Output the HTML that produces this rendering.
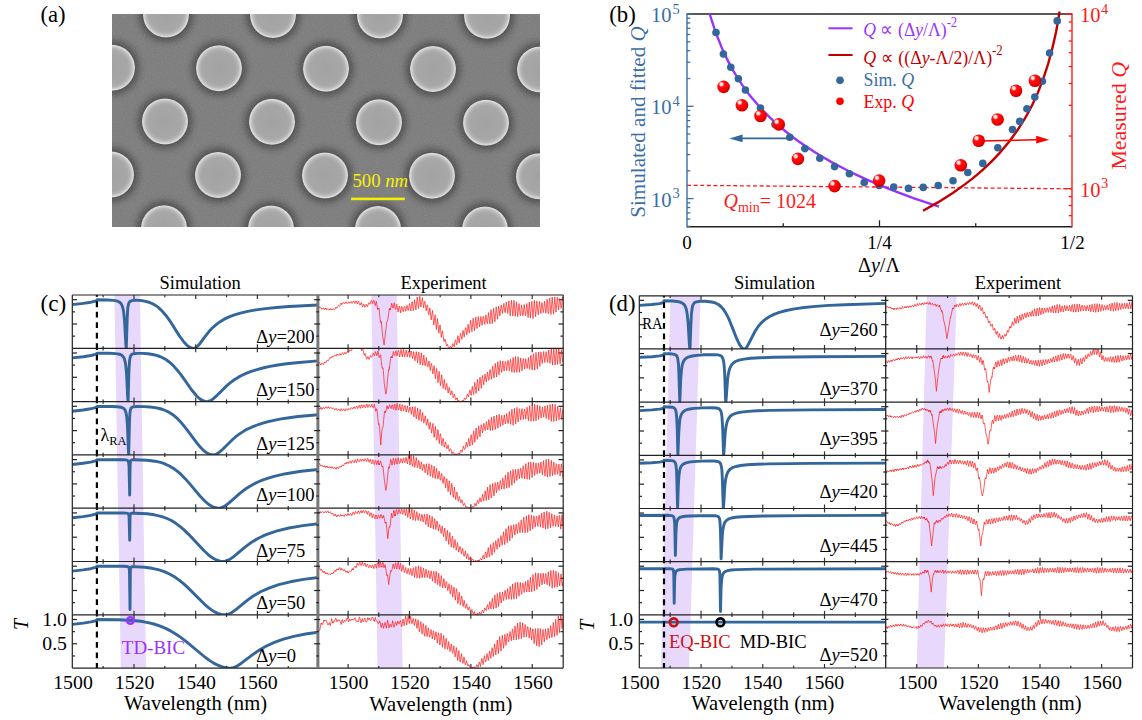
<!DOCTYPE html><html><head><meta charset="utf-8"><style>html,body{margin:0;padding:0;background:#fff;width:1142px;height:720px;overflow:hidden} svg{display:block} text{font-family:"Liberation Serif", serif}</style></head><body>
<svg width="1142" height="720" viewBox="0 0 1142 720">
<defs>
<radialGradient id="disk" cx="50%" cy="50%" r="50%"><stop offset="0" stop-color="#a0a0a0"/><stop offset="0.72" stop-color="#a6a6a6"/><stop offset="0.85" stop-color="#b6b6b6"/><stop offset="0.93" stop-color="#d2d2d2"/><stop offset="0.975" stop-color="#e0e0e0"/><stop offset="1" stop-color="#c0c0c0"/></radialGradient>
<radialGradient id="halo" cx="50%" cy="50%" r="50%"><stop offset="0.639" stop-color="#303030" stop-opacity="0.6"/><stop offset="0.736" stop-color="#3a3a3a" stop-opacity="0.42"/><stop offset="0.861" stop-color="#505050" stop-opacity="0.15"/><stop offset="1" stop-color="#7d7d7d" stop-opacity="0"/></radialGradient>
<radialGradient id="ball" cx="35%" cy="32%" r="65%" fx="32%" fy="28%"><stop offset="0" stop-color="#ffffff"/><stop offset="0.18" stop-color="#ffd0d0"/><stop offset="0.35" stop-color="#ff1010"/><stop offset="0.85" stop-color="#f00000"/><stop offset="1" stop-color="#d00000"/></radialGradient>
<filter id="noise" x="0" y="0" width="100%" height="100%"><feTurbulence type="fractalNoise" baseFrequency="0.9" numOctaves="2" seed="3"/><feColorMatrix type="matrix" values="0 0 0 0 0.5  0 0 0 0 0.5  0 0 0 0 0.5  0 0 0 0.9 -0.25"/></filter>
<clipPath id="semclip"><rect x="112" y="14" width="428" height="213"/></clipPath>
</defs>
<text x="40.5" y="21.5" font-size="22.7" fill="#000" text-anchor="start" >(a)</text>
<g clip-path="url(#semclip)">
<rect x="112" y="14" width="428" height="213" fill="#7c7c7c"/>
<circle cx="113" cy="-39.02" r="36" fill="url(#halo)"/>
<circle cx="220" cy="-38.6" r="36" fill="url(#halo)"/>
<circle cx="327" cy="-38.17" r="36" fill="url(#halo)"/>
<circle cx="434" cy="-37.74" r="36" fill="url(#halo)"/>
<circle cx="541" cy="-37.31" r="36" fill="url(#halo)"/>
<circle cx="648" cy="-36.88" r="36" fill="url(#halo)"/>
<circle cx="59" cy="14.16" r="36" fill="url(#halo)"/>
<circle cx="166" cy="14.59" r="36" fill="url(#halo)"/>
<circle cx="273" cy="15.02" r="36" fill="url(#halo)"/>
<circle cx="380" cy="15.44" r="36" fill="url(#halo)"/>
<circle cx="487" cy="15.87" r="36" fill="url(#halo)"/>
<circle cx="594" cy="16.3" r="36" fill="url(#halo)"/>
<circle cx="112" cy="67.77" r="36" fill="url(#halo)"/>
<circle cx="219" cy="68.2" r="36" fill="url(#halo)"/>
<circle cx="326" cy="68.63" r="36" fill="url(#halo)"/>
<circle cx="433" cy="69.06" r="36" fill="url(#halo)"/>
<circle cx="540" cy="69.48" r="36" fill="url(#halo)"/>
<circle cx="647" cy="69.91" r="36" fill="url(#halo)"/>
<circle cx="58" cy="120.96" r="36" fill="url(#halo)"/>
<circle cx="165" cy="121.38" r="36" fill="url(#halo)"/>
<circle cx="272" cy="121.81" r="36" fill="url(#halo)"/>
<circle cx="379" cy="122.24" r="36" fill="url(#halo)"/>
<circle cx="486" cy="122.67" r="36" fill="url(#halo)"/>
<circle cx="593" cy="123.1" r="36" fill="url(#halo)"/>
<circle cx="111" cy="174.57" r="36" fill="url(#halo)"/>
<circle cx="218" cy="175" r="36" fill="url(#halo)"/>
<circle cx="325" cy="175.42" r="36" fill="url(#halo)"/>
<circle cx="432" cy="175.85" r="36" fill="url(#halo)"/>
<circle cx="539" cy="176.28" r="36" fill="url(#halo)"/>
<circle cx="646" cy="176.71" r="36" fill="url(#halo)"/>
<circle cx="57" cy="227.75" r="36" fill="url(#halo)"/>
<circle cx="164" cy="228.18" r="36" fill="url(#halo)"/>
<circle cx="271" cy="228.61" r="36" fill="url(#halo)"/>
<circle cx="378" cy="229.04" r="36" fill="url(#halo)"/>
<circle cx="485" cy="229.46" r="36" fill="url(#halo)"/>
<circle cx="592" cy="229.89" r="36" fill="url(#halo)"/>
<circle cx="110" cy="281.36" r="36" fill="url(#halo)"/>
<circle cx="217" cy="281.79" r="36" fill="url(#halo)"/>
<circle cx="324" cy="282.22" r="36" fill="url(#halo)"/>
<circle cx="431" cy="282.65" r="36" fill="url(#halo)"/>
<circle cx="538" cy="283.08" r="36" fill="url(#halo)"/>
<circle cx="645" cy="283.5" r="36" fill="url(#halo)"/>
<circle cx="113" cy="-39.02" r="23" fill="url(#disk)"/>
<circle cx="220" cy="-38.6" r="23" fill="url(#disk)"/>
<circle cx="327" cy="-38.17" r="23" fill="url(#disk)"/>
<circle cx="434" cy="-37.74" r="23" fill="url(#disk)"/>
<circle cx="541" cy="-37.31" r="23" fill="url(#disk)"/>
<circle cx="648" cy="-36.88" r="23" fill="url(#disk)"/>
<circle cx="59" cy="14.16" r="23" fill="url(#disk)"/>
<circle cx="166" cy="14.59" r="23" fill="url(#disk)"/>
<circle cx="273" cy="15.02" r="23" fill="url(#disk)"/>
<circle cx="380" cy="15.44" r="23" fill="url(#disk)"/>
<circle cx="487" cy="15.87" r="23" fill="url(#disk)"/>
<circle cx="594" cy="16.3" r="23" fill="url(#disk)"/>
<circle cx="112" cy="67.77" r="23" fill="url(#disk)"/>
<circle cx="219" cy="68.2" r="23" fill="url(#disk)"/>
<circle cx="326" cy="68.63" r="23" fill="url(#disk)"/>
<circle cx="433" cy="69.06" r="23" fill="url(#disk)"/>
<circle cx="540" cy="69.48" r="23" fill="url(#disk)"/>
<circle cx="647" cy="69.91" r="23" fill="url(#disk)"/>
<circle cx="58" cy="120.96" r="23" fill="url(#disk)"/>
<circle cx="165" cy="121.38" r="23" fill="url(#disk)"/>
<circle cx="272" cy="121.81" r="23" fill="url(#disk)"/>
<circle cx="379" cy="122.24" r="23" fill="url(#disk)"/>
<circle cx="486" cy="122.67" r="23" fill="url(#disk)"/>
<circle cx="593" cy="123.1" r="23" fill="url(#disk)"/>
<circle cx="111" cy="174.57" r="23" fill="url(#disk)"/>
<circle cx="218" cy="175" r="23" fill="url(#disk)"/>
<circle cx="325" cy="175.42" r="23" fill="url(#disk)"/>
<circle cx="432" cy="175.85" r="23" fill="url(#disk)"/>
<circle cx="539" cy="176.28" r="23" fill="url(#disk)"/>
<circle cx="646" cy="176.71" r="23" fill="url(#disk)"/>
<circle cx="57" cy="227.75" r="23" fill="url(#disk)"/>
<circle cx="164" cy="228.18" r="23" fill="url(#disk)"/>
<circle cx="271" cy="228.61" r="23" fill="url(#disk)"/>
<circle cx="378" cy="229.04" r="23" fill="url(#disk)"/>
<circle cx="485" cy="229.46" r="23" fill="url(#disk)"/>
<circle cx="592" cy="229.89" r="23" fill="url(#disk)"/>
<circle cx="110" cy="281.36" r="23" fill="url(#disk)"/>
<circle cx="217" cy="281.79" r="23" fill="url(#disk)"/>
<circle cx="324" cy="282.22" r="23" fill="url(#disk)"/>
<circle cx="431" cy="282.65" r="23" fill="url(#disk)"/>
<circle cx="538" cy="283.08" r="23" fill="url(#disk)"/>
<circle cx="645" cy="283.5" r="23" fill="url(#disk)"/>
<rect x="112" y="14" width="428" height="213" filter="url(#noise)" opacity="0.35"/>
</g>
<rect x="351.1" y="197.6" width="53.7" height="2.6" fill="#f5ee00"/>
<g transform="translate(352.5,186.8) scale(0.965,1)"><text x="0" y="0" font-size="19.4" fill="#f8f000">500 <tspan font-style="italic">nm</tspan></text></g>
<text x="609.3" y="21.5" font-size="22.7" fill="#000" text-anchor="start" >(b)</text>
<line x1="687.0" y1="185.3" x2="1072.0" y2="188.8" stroke="#ff1a1a" stroke-width="1.3" stroke-dasharray="4,2.6"/>
<line x1="687.0" y1="14.0" x2="1072.0" y2="14.0" stroke="#222" stroke-width="1.4"/>
<line x1="687.0" y1="226.7" x2="1072.0" y2="226.7" stroke="#222" stroke-width="1.4"/>
<line x1="687.0" y1="13.3" x2="687.0" y2="227.39999999999998" stroke="#3a6ea5" stroke-width="1.4"/>
<line x1="1072.0" y1="13.3" x2="1072.0" y2="227.39999999999998" stroke="#ff1a1a" stroke-width="1.4"/>
<line x1="687.0" y1="226.39" x2="690.3" y2="226.39" stroke="#3a6ea5" stroke-width="1.3"/>
<line x1="687.0" y1="219.08" x2="690.3" y2="219.08" stroke="#3a6ea5" stroke-width="1.3"/>
<line x1="687.0" y1="212.9" x2="690.3" y2="212.9" stroke="#3a6ea5" stroke-width="1.3"/>
<line x1="687.0" y1="207.54" x2="690.3" y2="207.54" stroke="#3a6ea5" stroke-width="1.3"/>
<line x1="687.0" y1="202.82" x2="690.3" y2="202.82" stroke="#3a6ea5" stroke-width="1.3"/>
<line x1="687.0" y1="198.6" x2="693.5" y2="198.6" stroke="#3a6ea5" stroke-width="1.3"/>
<line x1="687.0" y1="170.81" x2="690.3" y2="170.81" stroke="#3a6ea5" stroke-width="1.3"/>
<line x1="687.0" y1="154.56" x2="690.3" y2="154.56" stroke="#3a6ea5" stroke-width="1.3"/>
<line x1="687.0" y1="143.03" x2="690.3" y2="143.03" stroke="#3a6ea5" stroke-width="1.3"/>
<line x1="687.0" y1="134.09" x2="690.3" y2="134.09" stroke="#3a6ea5" stroke-width="1.3"/>
<line x1="687.0" y1="126.78" x2="690.3" y2="126.78" stroke="#3a6ea5" stroke-width="1.3"/>
<line x1="687.0" y1="120.6" x2="690.3" y2="120.6" stroke="#3a6ea5" stroke-width="1.3"/>
<line x1="687.0" y1="115.24" x2="690.3" y2="115.24" stroke="#3a6ea5" stroke-width="1.3"/>
<line x1="687.0" y1="110.52" x2="690.3" y2="110.52" stroke="#3a6ea5" stroke-width="1.3"/>
<line x1="687.0" y1="106.3" x2="693.5" y2="106.3" stroke="#3a6ea5" stroke-width="1.3"/>
<line x1="687.0" y1="78.51" x2="690.3" y2="78.51" stroke="#3a6ea5" stroke-width="1.3"/>
<line x1="687.0" y1="62.26" x2="690.3" y2="62.26" stroke="#3a6ea5" stroke-width="1.3"/>
<line x1="687.0" y1="50.73" x2="690.3" y2="50.73" stroke="#3a6ea5" stroke-width="1.3"/>
<line x1="687.0" y1="41.79" x2="690.3" y2="41.79" stroke="#3a6ea5" stroke-width="1.3"/>
<line x1="687.0" y1="34.48" x2="690.3" y2="34.48" stroke="#3a6ea5" stroke-width="1.3"/>
<line x1="687.0" y1="28.3" x2="690.3" y2="28.3" stroke="#3a6ea5" stroke-width="1.3"/>
<line x1="687.0" y1="22.94" x2="690.3" y2="22.94" stroke="#3a6ea5" stroke-width="1.3"/>
<line x1="687.0" y1="18.22" x2="690.3" y2="18.22" stroke="#3a6ea5" stroke-width="1.3"/>
<line x1="687.0" y1="14" x2="693.5" y2="14" stroke="#3a6ea5" stroke-width="1.4"/>
<line x1="1072.0" y1="215.65" x2="1068.7" y2="215.65" stroke="#ff1a1a" stroke-width="1.3"/>
<line x1="1072.0" y1="205.52" x2="1068.7" y2="205.52" stroke="#ff1a1a" stroke-width="1.3"/>
<line x1="1072.0" y1="196.59" x2="1068.7" y2="196.59" stroke="#ff1a1a" stroke-width="1.3"/>
<line x1="1072.0" y1="188.6" x2="1065.5" y2="188.6" stroke="#ff1a1a" stroke-width="1.3"/>
<line x1="1072.0" y1="136.04" x2="1068.7" y2="136.04" stroke="#ff1a1a" stroke-width="1.3"/>
<line x1="1072.0" y1="105.29" x2="1068.7" y2="105.29" stroke="#ff1a1a" stroke-width="1.3"/>
<line x1="1072.0" y1="83.48" x2="1068.7" y2="83.48" stroke="#ff1a1a" stroke-width="1.3"/>
<line x1="1072.0" y1="66.56" x2="1068.7" y2="66.56" stroke="#ff1a1a" stroke-width="1.3"/>
<line x1="1072.0" y1="52.73" x2="1068.7" y2="52.73" stroke="#ff1a1a" stroke-width="1.3"/>
<line x1="1072.0" y1="41.05" x2="1068.7" y2="41.05" stroke="#ff1a1a" stroke-width="1.3"/>
<line x1="1072.0" y1="30.92" x2="1068.7" y2="30.92" stroke="#ff1a1a" stroke-width="1.3"/>
<line x1="1072.0" y1="21.99" x2="1068.7" y2="21.99" stroke="#ff1a1a" stroke-width="1.3"/>
<line x1="1072.0" y1="14" x2="1065.5" y2="14" stroke="#ff1a1a" stroke-width="1.4"/>
<line x1="783.25" y1="226.7" x2="783.25" y2="223.2" stroke="#222" stroke-width="1.3"/>
<line x1="879.5" y1="226.7" x2="879.5" y2="220.3" stroke="#222" stroke-width="1.3"/>
<line x1="975.75" y1="226.7" x2="975.75" y2="223.2" stroke="#222" stroke-width="1.3"/>
<text x="687" y="249.2" font-size="19" fill="#000" text-anchor="middle" >0</text>
<text x="879.5" y="249.2" font-size="19" fill="#000" text-anchor="middle" >1/4</text>
<text x="1072.5" y="249.2" font-size="19" fill="#000" text-anchor="middle" >1/2</text>
<text x="879" y="272" font-size="20" text-anchor="middle">&#916;<tspan font-style="italic">y</tspan>/&#923;</text>
<text x="671.5" y="21.9" font-size="20.5" fill="#3a6ea5" text-anchor="end">10</text>
<text x="672.5" y="13.599999999999998" font-size="14.4" fill="#3a6ea5">5</text>
<text x="671.5" y="114.2" font-size="20.5" fill="#3a6ea5" text-anchor="end">10</text>
<text x="672.5" y="105.9" font-size="14.4" fill="#3a6ea5">4</text>
<text x="671.5" y="206.5" font-size="20.5" fill="#3a6ea5" text-anchor="end">10</text>
<text x="672.5" y="198.2" font-size="14.4" fill="#3a6ea5">3</text>
<text x="1080" y="21.9" font-size="20.5" fill="#ff1a1a">10</text>
<text x="1101" y="13.599999999999998" font-size="14.4" fill="#ff1a1a">4</text>
<text x="1080" y="196.5" font-size="20.5" fill="#ff1a1a">10</text>
<text x="1101" y="188.2" font-size="14.4" fill="#ff1a1a">3</text>
<text transform="translate(644.5,122) rotate(-90)" font-size="21.1" fill="#3a6ea5" text-anchor="middle">Simulated and fitted <tspan font-style="italic">Q</tspan></text>
<text transform="translate(1126,115.8) rotate(-90)" font-size="21.9" fill="#ff1a1a" text-anchor="middle">Measured <tspan font-style="italic">Q</tspan></text>
<line x1="828.4" y1="28.3" x2="852.6" y2="28.3" stroke="#9933ff" stroke-width="2"/>
<g transform="translate(863.2,35.8) scale(0.905,1)"><text x="0" y="0" font-size="19.5" fill="#9933ff"><tspan font-style="italic">Q</tspan> &#8733; (&#916;<tspan font-style="italic">y</tspan>/&#923;)<tspan font-size="14" dy="-8.5">-2</tspan></text></g>
<line x1="828.4" y1="55" x2="852.6" y2="55" stroke="#c00000" stroke-width="2"/>
<g transform="translate(863.2,63.6) scale(0.915,1)"><text x="0" y="0" font-size="19.5" fill="#c00000"><tspan font-style="italic">Q</tspan> &#8733; ((&#916;<tspan font-style="italic">y</tspan>-&#923;/2)/&#923;)<tspan font-size="14" dy="-8.5">-2</tspan></text></g>
<circle cx="840" cy="80.2" r="3.8" fill="#33669a"/>
<g transform="translate(863.5,85.5) scale(0.95,1)"><text x="0" y="0" font-size="18.8" fill="#3a6ea5">Sim. <tspan font-style="italic">Q</tspan></text></g>
<circle cx="840" cy="101.2" r="3.8" fill="#ff0000"/>
<g transform="translate(863.5,108.2) scale(0.95,1)"><text x="0" y="0" font-size="18.8" fill="#ff0000">Exp. <tspan font-style="italic">Q</tspan></text></g>
<text x="723.5" y="208.4" font-size="20" fill="#ff1a1a"><tspan font-style="italic">Q</tspan><tspan font-size="14" dy="4">min</tspan><tspan dy="-4">= 1024</tspan></text>
<path d="M709.8,14l1.9,6.5 3.9,11.6 5.8,14.8 3.8,8.5 3.9,7.7 3.8,7.1 5.8,9.5 3.8,5.7 5.8,8 3.9,4.8 5.8,6.8 5.7,6.3 5.8,5.8 5.8,5.5 7.7,6.7 7.7,6.2 7.7,5.7 7.7,5.4 7.7,5 7.7,4.7 9.6,5.6 17.4,9.1 9.6,4.6 11.6,5.3 21.1,8.8 23.2,8.6 25,8.4" fill="none" stroke="#9933ff" stroke-width="2.4"/>
<path d="M923,210.8l14.9-8.4 14.9-9.5 12.7-9 6.9-5.3 5.7-4.8 5.7-5 5.8-5.4 5.7-5.8 4.6-5 9.2-10.9 8-11 4.6-7 3.5-5.7 3.4-6.1 3.5-6.6 5.7-12.4 5.7-14.8 4.6-14.1 4.6-17.1 3.5-15.7 3.4-19.7" fill="none" stroke="#c00000" stroke-width="2.4"/>
<circle cx="716" cy="32.5" r="3.8" fill="#33669a"/>
<circle cx="723.4" cy="54" r="3.8" fill="#33669a"/>
<circle cx="730.8" cy="67.3" r="3.8" fill="#33669a"/>
<circle cx="738.4" cy="78.7" r="3.8" fill="#33669a"/>
<circle cx="745.4" cy="90" r="3.8" fill="#33669a"/>
<circle cx="760.5" cy="108.1" r="3.8" fill="#33669a"/>
<circle cx="775" cy="124.4" r="3.8" fill="#33669a"/>
<circle cx="789.8" cy="137.3" r="3.8" fill="#33669a"/>
<circle cx="804.9" cy="148.6" r="3.8" fill="#33669a"/>
<circle cx="819.8" cy="158.3" r="3.8" fill="#33669a"/>
<circle cx="834.6" cy="166.6" r="3.8" fill="#33669a"/>
<circle cx="849.4" cy="173.8" r="3.8" fill="#33669a"/>
<circle cx="864.2" cy="182.6" r="3.8" fill="#33669a"/>
<circle cx="879.1" cy="185.5" r="3.8" fill="#33669a"/>
<circle cx="893.7" cy="187" r="3.8" fill="#33669a"/>
<circle cx="908.5" cy="188.4" r="3.8" fill="#33669a"/>
<circle cx="923.2" cy="187.4" r="3.8" fill="#33669a"/>
<circle cx="938.2" cy="185.5" r="3.8" fill="#33669a"/>
<circle cx="953" cy="180.8" r="3.8" fill="#33669a"/>
<circle cx="967.8" cy="172.5" r="3.8" fill="#33669a"/>
<circle cx="982.8" cy="163.4" r="3.8" fill="#33669a"/>
<circle cx="997.8" cy="147.8" r="3.8" fill="#33669a"/>
<circle cx="1012.5" cy="129.5" r="3.8" fill="#33669a"/>
<circle cx="1019.7" cy="121.4" r="3.8" fill="#33669a"/>
<circle cx="1026.9" cy="108.8" r="3.8" fill="#33669a"/>
<circle cx="1034.8" cy="97.1" r="3.8" fill="#33669a"/>
<circle cx="1042.4" cy="81.2" r="3.8" fill="#33669a"/>
<circle cx="1049.6" cy="53" r="3.8" fill="#33669a"/>
<circle cx="1057.2" cy="20.9" r="3.8" fill="#33669a"/>
<line x1="742" y1="138.4" x2="789.3" y2="138.4" stroke="#33669a" stroke-width="1.6"/>
<path d="M729.4,138.4 L742.6,134.6 L742.6,142.2 Z" fill="#33669a"/>
<line x1="979" y1="141" x2="1037" y2="139.8" stroke="#ff0000" stroke-width="1.6"/>
<path d="M1049.3,139.7 L1036.2,135.8 L1036.2,143.6 Z" fill="#ff0000"/>
<circle cx="723.6" cy="86.9" r="6.3" fill="url(#ball)"/>
<circle cx="741.9" cy="105.2" r="6.3" fill="url(#ball)"/>
<circle cx="760.5" cy="116" r="6.3" fill="url(#ball)"/>
<circle cx="778.8" cy="124.4" r="6.3" fill="url(#ball)"/>
<circle cx="797.9" cy="158.9" r="6.3" fill="url(#ball)"/>
<circle cx="834.6" cy="186.1" r="6.3" fill="url(#ball)"/>
<circle cx="879.1" cy="180.6" r="6.3" fill="url(#ball)"/>
<circle cx="960.8" cy="165.3" r="6.3" fill="url(#ball)"/>
<circle cx="978.7" cy="140.8" r="6.3" fill="url(#ball)"/>
<circle cx="997.6" cy="119.5" r="6.3" fill="url(#ball)"/>
<circle cx="1016" cy="90.8" r="6.3" fill="url(#ball)"/>
<circle cx="1034.9" cy="80.7" r="6.3" fill="url(#ball)"/>
<text x="20" y="160" font-size="1" fill="#000" text-anchor="start" ></text>
<path d="M114.4,295 L139.9,295 L146,668.1 L120.8,668.1 Z" fill="#e8d8fc"/>
<path d="M371.2,295 L396.7,295 L402.6,668.1 L377.6,668.1 Z" fill="#e8d8fc"/>
<clipPath id="cp1"><rect x="72.3" y="295" width="245.7" height="53.3"/></clipPath>
<path clip-path="url(#cp1)" d="M72.3,304.6l11-1.2 7.7-1.2 4.4-1.1 1.1-0.6 0.5-0.7 10.7,0.2 6.1,0.4 3.8,0.8 2.3,1.2 1.3,1.4 1,2 0.8,2.8 0.7,3.7 0.9,9.1 1.2,23 0.5,3.9 0.9-30.2 0.6-10.3 0.6-3.3 0.7-2 1.1-1.2 1.6-0.7 2.8-0.3 4.1,0.1 4.2,0.4 3.8,0.8 3,0.9 3,1.3 2.8,1.6 2.5,1.7 4.3,4.1 4.7,5.6 4.1,5.9 8.8,13.9 4.4,5.9 2.5,2.6 2.2,1.7 2.2,1.1 2.2,0.4 1.1-0.1 1.1-0.4 1.1-0.8 1.3-1.2 2.2-2.6 5.8-7.8 3-3.8 3.3-3.6 3.6-3.2 3.8-2.9 4.1-2.5 4.7-2.3 5.2-2 6.6-2 7.4-1.7 8.3-1.5 9.6-1.3 10.9-1.1 12.4-1 30.2-1.6" fill="none" stroke="#33669a" stroke-width="2.9" stroke-linejoin="round"/>
<line x1="96.9" y1="295" x2="96.9" y2="348.3" stroke="#000" stroke-width="2.2" stroke-dasharray="5.8,4.65" stroke-dashoffset="4.1"/>
<line x1="103.15" y1="295" x2="103.15" y2="297.2" stroke="#333" stroke-width="1.2"/>
<line x1="103.15" y1="348.3" x2="103.15" y2="346.1" stroke="#333" stroke-width="1.2"/>
<line x1="134" y1="295" x2="134" y2="299" stroke="#333" stroke-width="1.2"/>
<line x1="134" y1="348.3" x2="134" y2="344.3" stroke="#333" stroke-width="1.2"/>
<line x1="164.85" y1="295" x2="164.85" y2="297.2" stroke="#333" stroke-width="1.2"/>
<line x1="164.85" y1="348.3" x2="164.85" y2="346.1" stroke="#333" stroke-width="1.2"/>
<line x1="195.7" y1="295" x2="195.7" y2="299" stroke="#333" stroke-width="1.2"/>
<line x1="195.7" y1="348.3" x2="195.7" y2="344.3" stroke="#333" stroke-width="1.2"/>
<line x1="226.55" y1="295" x2="226.55" y2="297.2" stroke="#333" stroke-width="1.2"/>
<line x1="226.55" y1="348.3" x2="226.55" y2="346.1" stroke="#333" stroke-width="1.2"/>
<line x1="257.4" y1="295" x2="257.4" y2="299" stroke="#333" stroke-width="1.2"/>
<line x1="257.4" y1="348.3" x2="257.4" y2="344.3" stroke="#333" stroke-width="1.2"/>
<line x1="288.25" y1="295" x2="288.25" y2="297.2" stroke="#333" stroke-width="1.2"/>
<line x1="288.25" y1="348.3" x2="288.25" y2="346.1" stroke="#333" stroke-width="1.2"/>
<line x1="72.3" y1="299.7" x2="77" y2="299.7" stroke="#222" stroke-width="1.2"/>
<line x1="72.3" y1="311.85" x2="75" y2="311.85" stroke="#222" stroke-width="1.2"/>
<line x1="72.3" y1="324" x2="77" y2="324" stroke="#222" stroke-width="1.2"/>
<line x1="72.3" y1="336.15" x2="75" y2="336.15" stroke="#222" stroke-width="1.2"/>
<line x1="348.09" y1="295" x2="348.09" y2="299" stroke="#333" stroke-width="1.2"/>
<line x1="348.09" y1="348.3" x2="348.09" y2="344.3" stroke="#333" stroke-width="1.2"/>
<line x1="378.78" y1="295" x2="378.78" y2="297.2" stroke="#333" stroke-width="1.2"/>
<line x1="378.78" y1="348.3" x2="378.78" y2="346.1" stroke="#333" stroke-width="1.2"/>
<line x1="409.47" y1="295" x2="409.47" y2="299" stroke="#333" stroke-width="1.2"/>
<line x1="409.47" y1="348.3" x2="409.47" y2="344.3" stroke="#333" stroke-width="1.2"/>
<line x1="440.16" y1="295" x2="440.16" y2="297.2" stroke="#333" stroke-width="1.2"/>
<line x1="440.16" y1="348.3" x2="440.16" y2="346.1" stroke="#333" stroke-width="1.2"/>
<line x1="470.85" y1="295" x2="470.85" y2="299" stroke="#333" stroke-width="1.2"/>
<line x1="470.85" y1="348.3" x2="470.85" y2="344.3" stroke="#333" stroke-width="1.2"/>
<line x1="501.54" y1="295" x2="501.54" y2="297.2" stroke="#333" stroke-width="1.2"/>
<line x1="501.54" y1="348.3" x2="501.54" y2="346.1" stroke="#333" stroke-width="1.2"/>
<line x1="532.23" y1="295" x2="532.23" y2="299" stroke="#333" stroke-width="1.2"/>
<line x1="532.23" y1="348.3" x2="532.23" y2="344.3" stroke="#333" stroke-width="1.2"/>
<line x1="563.2" y1="299.7" x2="558.5" y2="299.7" stroke="#222" stroke-width="1.2"/>
<line x1="563.2" y1="311.85" x2="560.5" y2="311.85" stroke="#222" stroke-width="1.2"/>
<line x1="563.2" y1="324" x2="558.5" y2="324" stroke="#222" stroke-width="1.2"/>
<line x1="563.2" y1="336.15" x2="560.5" y2="336.15" stroke="#222" stroke-width="1.2"/>
<text x="256.3" y="342.5" font-size="18.5" fill="#000" text-anchor="start" >&#916;<tspan font-style="italic">y</tspan>=200</text>
<clipPath id="cp2"><rect x="72.3" y="348.3" width="245.7" height="53.3"/></clipPath>
<path clip-path="url(#cp2)" d="M72.3,357.9l11-1.2 7.7-1.2 4.4-1.2 1.1-0.5 0.5-0.7 12.1,0.2 6.6,0.3 3.8,0.6 1.5,0.6 1.1,0.7 1.3,1.4 1,1.9 0.7,2.8 0.7,3.8 0.8,9 1.1,23.4 0.4,3.8 0.8-30.2 0.7-10.9 0.5-3 0.7-2 1.1-1.2 1.6-0.6 3.6-0.3 5.5,0 5.5,0.4 4.6,0.7 3.9,0.9 3.3,1.1 3.3,1.5 3,1.8 2.7,1.9 2.5,2.1 2.7,2.8 2.8,3.1 4.7,6 10.1,14.3 5,6 2.7,2.5 2.5,1.7 2.4,1 2.2,0.4 1.4-0.1 1.7-0.5 1.6-0.8 1.9-1.3 3.1-2.7 10.4-10.3 3.8-3.3 3.9-2.8 3.8-2.4 3.9-2.1 4.1-1.9 4.4-1.7 5.7-1.9 6.6-1.8 7.2-1.6 7.9-1.4 8.8-1.2 9.6-1.1 22.8-1.9" fill="none" stroke="#33669a" stroke-width="2.9" stroke-linejoin="round"/>
<line x1="96.9" y1="348.3" x2="96.9" y2="401.6" stroke="#000" stroke-width="2.2" stroke-dasharray="5.8,4.65" stroke-dashoffset="4.1"/>
<line x1="103.15" y1="348.3" x2="103.15" y2="350.5" stroke="#333" stroke-width="1.2"/>
<line x1="103.15" y1="401.6" x2="103.15" y2="399.4" stroke="#333" stroke-width="1.2"/>
<line x1="134" y1="348.3" x2="134" y2="352.3" stroke="#333" stroke-width="1.2"/>
<line x1="134" y1="401.6" x2="134" y2="397.6" stroke="#333" stroke-width="1.2"/>
<line x1="164.85" y1="348.3" x2="164.85" y2="350.5" stroke="#333" stroke-width="1.2"/>
<line x1="164.85" y1="401.6" x2="164.85" y2="399.4" stroke="#333" stroke-width="1.2"/>
<line x1="195.7" y1="348.3" x2="195.7" y2="352.3" stroke="#333" stroke-width="1.2"/>
<line x1="195.7" y1="401.6" x2="195.7" y2="397.6" stroke="#333" stroke-width="1.2"/>
<line x1="226.55" y1="348.3" x2="226.55" y2="350.5" stroke="#333" stroke-width="1.2"/>
<line x1="226.55" y1="401.6" x2="226.55" y2="399.4" stroke="#333" stroke-width="1.2"/>
<line x1="257.4" y1="348.3" x2="257.4" y2="352.3" stroke="#333" stroke-width="1.2"/>
<line x1="257.4" y1="401.6" x2="257.4" y2="397.6" stroke="#333" stroke-width="1.2"/>
<line x1="288.25" y1="348.3" x2="288.25" y2="350.5" stroke="#333" stroke-width="1.2"/>
<line x1="288.25" y1="401.6" x2="288.25" y2="399.4" stroke="#333" stroke-width="1.2"/>
<line x1="72.3" y1="353" x2="77" y2="353" stroke="#222" stroke-width="1.2"/>
<line x1="72.3" y1="365.15" x2="75" y2="365.15" stroke="#222" stroke-width="1.2"/>
<line x1="72.3" y1="377.3" x2="77" y2="377.3" stroke="#222" stroke-width="1.2"/>
<line x1="72.3" y1="389.45" x2="75" y2="389.45" stroke="#222" stroke-width="1.2"/>
<line x1="348.09" y1="348.3" x2="348.09" y2="352.3" stroke="#333" stroke-width="1.2"/>
<line x1="348.09" y1="401.6" x2="348.09" y2="397.6" stroke="#333" stroke-width="1.2"/>
<line x1="378.78" y1="348.3" x2="378.78" y2="350.5" stroke="#333" stroke-width="1.2"/>
<line x1="378.78" y1="401.6" x2="378.78" y2="399.4" stroke="#333" stroke-width="1.2"/>
<line x1="409.47" y1="348.3" x2="409.47" y2="352.3" stroke="#333" stroke-width="1.2"/>
<line x1="409.47" y1="401.6" x2="409.47" y2="397.6" stroke="#333" stroke-width="1.2"/>
<line x1="440.16" y1="348.3" x2="440.16" y2="350.5" stroke="#333" stroke-width="1.2"/>
<line x1="440.16" y1="401.6" x2="440.16" y2="399.4" stroke="#333" stroke-width="1.2"/>
<line x1="470.85" y1="348.3" x2="470.85" y2="352.3" stroke="#333" stroke-width="1.2"/>
<line x1="470.85" y1="401.6" x2="470.85" y2="397.6" stroke="#333" stroke-width="1.2"/>
<line x1="501.54" y1="348.3" x2="501.54" y2="350.5" stroke="#333" stroke-width="1.2"/>
<line x1="501.54" y1="401.6" x2="501.54" y2="399.4" stroke="#333" stroke-width="1.2"/>
<line x1="532.23" y1="348.3" x2="532.23" y2="352.3" stroke="#333" stroke-width="1.2"/>
<line x1="532.23" y1="401.6" x2="532.23" y2="397.6" stroke="#333" stroke-width="1.2"/>
<line x1="563.2" y1="353" x2="558.5" y2="353" stroke="#222" stroke-width="1.2"/>
<line x1="563.2" y1="365.15" x2="560.5" y2="365.15" stroke="#222" stroke-width="1.2"/>
<line x1="563.2" y1="377.3" x2="558.5" y2="377.3" stroke="#222" stroke-width="1.2"/>
<line x1="563.2" y1="389.45" x2="560.5" y2="389.45" stroke="#222" stroke-width="1.2"/>
<text x="256.3" y="396.4" font-size="18.5" fill="#000" text-anchor="start" >&#916;<tspan font-style="italic">y</tspan>=150</text>
<clipPath id="cp3"><rect x="72.3" y="401.6" width="245.7" height="53.3"/></clipPath>
<path clip-path="url(#cp3)" d="M72.3,411.2l10.7-1.2 7.7-1.2 4.7-1.2 1.1-0.5 0.5-0.7 13.5,0.1 6.8,0.2 4,0.6 1.3,0.5 1,0.6 1.2,1.2 0.8,1.8 0.7,2.6 0.5,3.7 0.7,9.3 0.9,23.8 0.3,4.1 0.7-31.8 0.5-9.9 0.4-3 0.6-1.7 0.9-1.1 1.5-0.5 3.8-0.4 6.9,0.1 6,0.4 5.2,0.6 4.1,0.9 3.6,1 3.6,1.5 3.3,1.7 3,2 2.7,2.2 2.8,2.6 3,3.2 5.2,6.4 10.7,14.3 2.8,3.3 2.4,2.7 2.8,2.4 2.4,1.6 2.5,1.1 2.5,0.4 1.6-0.1 1.7-0.5 1.6-0.8 1.9-1.4 3.1-2.6 10.1-10 3.9-3.3 3.8-2.8 3.6-2.3 3.5-2 4.2-1.9 4.1-1.7 5.5-1.9 6-1.7 6.6-1.6 7.4-1.4 8-1.2 9-1.2 20.9-1.9" fill="none" stroke="#33669a" stroke-width="2.9" stroke-linejoin="round"/>
<line x1="96.9" y1="401.6" x2="96.9" y2="454.9" stroke="#000" stroke-width="2.2" stroke-dasharray="5.8,4.65" stroke-dashoffset="4.1"/>
<line x1="103.15" y1="401.6" x2="103.15" y2="403.8" stroke="#333" stroke-width="1.2"/>
<line x1="103.15" y1="454.9" x2="103.15" y2="452.7" stroke="#333" stroke-width="1.2"/>
<line x1="134" y1="401.6" x2="134" y2="405.6" stroke="#333" stroke-width="1.2"/>
<line x1="134" y1="454.9" x2="134" y2="450.9" stroke="#333" stroke-width="1.2"/>
<line x1="164.85" y1="401.6" x2="164.85" y2="403.8" stroke="#333" stroke-width="1.2"/>
<line x1="164.85" y1="454.9" x2="164.85" y2="452.7" stroke="#333" stroke-width="1.2"/>
<line x1="195.7" y1="401.6" x2="195.7" y2="405.6" stroke="#333" stroke-width="1.2"/>
<line x1="195.7" y1="454.9" x2="195.7" y2="450.9" stroke="#333" stroke-width="1.2"/>
<line x1="226.55" y1="401.6" x2="226.55" y2="403.8" stroke="#333" stroke-width="1.2"/>
<line x1="226.55" y1="454.9" x2="226.55" y2="452.7" stroke="#333" stroke-width="1.2"/>
<line x1="257.4" y1="401.6" x2="257.4" y2="405.6" stroke="#333" stroke-width="1.2"/>
<line x1="257.4" y1="454.9" x2="257.4" y2="450.9" stroke="#333" stroke-width="1.2"/>
<line x1="288.25" y1="401.6" x2="288.25" y2="403.8" stroke="#333" stroke-width="1.2"/>
<line x1="288.25" y1="454.9" x2="288.25" y2="452.7" stroke="#333" stroke-width="1.2"/>
<line x1="72.3" y1="406.3" x2="77" y2="406.3" stroke="#222" stroke-width="1.2"/>
<line x1="72.3" y1="418.45" x2="75" y2="418.45" stroke="#222" stroke-width="1.2"/>
<line x1="72.3" y1="430.6" x2="77" y2="430.6" stroke="#222" stroke-width="1.2"/>
<line x1="72.3" y1="442.75" x2="75" y2="442.75" stroke="#222" stroke-width="1.2"/>
<line x1="348.09" y1="401.6" x2="348.09" y2="405.6" stroke="#333" stroke-width="1.2"/>
<line x1="348.09" y1="454.9" x2="348.09" y2="450.9" stroke="#333" stroke-width="1.2"/>
<line x1="378.78" y1="401.6" x2="378.78" y2="403.8" stroke="#333" stroke-width="1.2"/>
<line x1="378.78" y1="454.9" x2="378.78" y2="452.7" stroke="#333" stroke-width="1.2"/>
<line x1="409.47" y1="401.6" x2="409.47" y2="405.6" stroke="#333" stroke-width="1.2"/>
<line x1="409.47" y1="454.9" x2="409.47" y2="450.9" stroke="#333" stroke-width="1.2"/>
<line x1="440.16" y1="401.6" x2="440.16" y2="403.8" stroke="#333" stroke-width="1.2"/>
<line x1="440.16" y1="454.9" x2="440.16" y2="452.7" stroke="#333" stroke-width="1.2"/>
<line x1="470.85" y1="401.6" x2="470.85" y2="405.6" stroke="#333" stroke-width="1.2"/>
<line x1="470.85" y1="454.9" x2="470.85" y2="450.9" stroke="#333" stroke-width="1.2"/>
<line x1="501.54" y1="401.6" x2="501.54" y2="403.8" stroke="#333" stroke-width="1.2"/>
<line x1="501.54" y1="454.9" x2="501.54" y2="452.7" stroke="#333" stroke-width="1.2"/>
<line x1="532.23" y1="401.6" x2="532.23" y2="405.6" stroke="#333" stroke-width="1.2"/>
<line x1="532.23" y1="454.9" x2="532.23" y2="450.9" stroke="#333" stroke-width="1.2"/>
<line x1="563.2" y1="406.3" x2="558.5" y2="406.3" stroke="#222" stroke-width="1.2"/>
<line x1="563.2" y1="418.45" x2="560.5" y2="418.45" stroke="#222" stroke-width="1.2"/>
<line x1="563.2" y1="430.6" x2="558.5" y2="430.6" stroke="#222" stroke-width="1.2"/>
<line x1="563.2" y1="442.75" x2="560.5" y2="442.75" stroke="#222" stroke-width="1.2"/>
<text x="256.3" y="450.4" font-size="18.5" fill="#000" text-anchor="start" >&#916;<tspan font-style="italic">y</tspan>=125</text>
<clipPath id="cp4"><rect x="72.3" y="454.9" width="245.7" height="53.3"/></clipPath>
<path clip-path="url(#cp4)" d="M72.3,464.5l10.7-1.2 7.7-1.2 4.7-1.3 1.1-0.5 0.5-0.7 25.5,0.1 3.3,0.2 1.6,0.4 0.6,0.5 0.5,1 0.5,4 0.7,29.3 0.4-29.3 0.3-3.9 0.2-0.9 0.4-0.7 1.1-0.4 2.3-0.1 12.6,0.5 7.9,0.9 6.6,1.5 4.1,1.5 4.2,2 3.8,2.3 3.6,2.6 4.1,3.6 4.1,4.2 4.4,5 10.4,12.4 5.8,5.9 3.3,2.6 3,1.8 3,1.2 3,0.4 1.7-0.1 1.6-0.5 3.3-1.6 3.9-2.9 11-9.8 5.7-4.3 3.9-2.5 4.1-2.3 4.4-2.2 4.4-1.8 5.2-1.8 5.8-1.8 6-1.5 6.6-1.4 15.1-2.4 18.1-2" fill="none" stroke="#33669a" stroke-width="2.9" stroke-linejoin="round"/>
<line x1="96.9" y1="454.9" x2="96.9" y2="508.2" stroke="#000" stroke-width="2.2" stroke-dasharray="5.8,4.65" stroke-dashoffset="4.1"/>
<line x1="103.15" y1="454.9" x2="103.15" y2="457.1" stroke="#333" stroke-width="1.2"/>
<line x1="103.15" y1="508.2" x2="103.15" y2="506" stroke="#333" stroke-width="1.2"/>
<line x1="134" y1="454.9" x2="134" y2="458.9" stroke="#333" stroke-width="1.2"/>
<line x1="134" y1="508.2" x2="134" y2="504.2" stroke="#333" stroke-width="1.2"/>
<line x1="164.85" y1="454.9" x2="164.85" y2="457.1" stroke="#333" stroke-width="1.2"/>
<line x1="164.85" y1="508.2" x2="164.85" y2="506" stroke="#333" stroke-width="1.2"/>
<line x1="195.7" y1="454.9" x2="195.7" y2="458.9" stroke="#333" stroke-width="1.2"/>
<line x1="195.7" y1="508.2" x2="195.7" y2="504.2" stroke="#333" stroke-width="1.2"/>
<line x1="226.55" y1="454.9" x2="226.55" y2="457.1" stroke="#333" stroke-width="1.2"/>
<line x1="226.55" y1="508.2" x2="226.55" y2="506" stroke="#333" stroke-width="1.2"/>
<line x1="257.4" y1="454.9" x2="257.4" y2="458.9" stroke="#333" stroke-width="1.2"/>
<line x1="257.4" y1="508.2" x2="257.4" y2="504.2" stroke="#333" stroke-width="1.2"/>
<line x1="288.25" y1="454.9" x2="288.25" y2="457.1" stroke="#333" stroke-width="1.2"/>
<line x1="288.25" y1="508.2" x2="288.25" y2="506" stroke="#333" stroke-width="1.2"/>
<line x1="72.3" y1="459.6" x2="77" y2="459.6" stroke="#222" stroke-width="1.2"/>
<line x1="72.3" y1="471.75" x2="75" y2="471.75" stroke="#222" stroke-width="1.2"/>
<line x1="72.3" y1="483.9" x2="77" y2="483.9" stroke="#222" stroke-width="1.2"/>
<line x1="72.3" y1="496.05" x2="75" y2="496.05" stroke="#222" stroke-width="1.2"/>
<line x1="348.09" y1="454.9" x2="348.09" y2="458.9" stroke="#333" stroke-width="1.2"/>
<line x1="348.09" y1="508.2" x2="348.09" y2="504.2" stroke="#333" stroke-width="1.2"/>
<line x1="378.78" y1="454.9" x2="378.78" y2="457.1" stroke="#333" stroke-width="1.2"/>
<line x1="378.78" y1="508.2" x2="378.78" y2="506" stroke="#333" stroke-width="1.2"/>
<line x1="409.47" y1="454.9" x2="409.47" y2="458.9" stroke="#333" stroke-width="1.2"/>
<line x1="409.47" y1="508.2" x2="409.47" y2="504.2" stroke="#333" stroke-width="1.2"/>
<line x1="440.16" y1="454.9" x2="440.16" y2="457.1" stroke="#333" stroke-width="1.2"/>
<line x1="440.16" y1="508.2" x2="440.16" y2="506" stroke="#333" stroke-width="1.2"/>
<line x1="470.85" y1="454.9" x2="470.85" y2="458.9" stroke="#333" stroke-width="1.2"/>
<line x1="470.85" y1="508.2" x2="470.85" y2="504.2" stroke="#333" stroke-width="1.2"/>
<line x1="501.54" y1="454.9" x2="501.54" y2="457.1" stroke="#333" stroke-width="1.2"/>
<line x1="501.54" y1="508.2" x2="501.54" y2="506" stroke="#333" stroke-width="1.2"/>
<line x1="532.23" y1="454.9" x2="532.23" y2="458.9" stroke="#333" stroke-width="1.2"/>
<line x1="532.23" y1="508.2" x2="532.23" y2="504.2" stroke="#333" stroke-width="1.2"/>
<line x1="563.2" y1="459.6" x2="558.5" y2="459.6" stroke="#222" stroke-width="1.2"/>
<line x1="563.2" y1="471.75" x2="560.5" y2="471.75" stroke="#222" stroke-width="1.2"/>
<line x1="563.2" y1="483.9" x2="558.5" y2="483.9" stroke="#222" stroke-width="1.2"/>
<line x1="563.2" y1="496.05" x2="560.5" y2="496.05" stroke="#222" stroke-width="1.2"/>
<text x="256.3" y="501.3" font-size="18.5" fill="#000" text-anchor="start" >&#916;<tspan font-style="italic">y</tspan>=100</text>
<clipPath id="cp5"><rect x="72.3" y="508.2" width="245.7" height="53.3"/></clipPath>
<path clip-path="url(#cp5)" d="M72.3,517.8l10.7-1.2 7.7-1.2 4.7-1.3 1.1-0.5 0.5-0.7 25.6,0.1 3.5,0.1 1.6,0.3 0.6,0.4 0.4,0.7 0.4,2.9 0.6,22.8 0.3-22.3 0.3-3.2 0.2-0.8 0.4-0.4 1.1-0.3 2.9,0 12.1,0.6 7.4,1 6.6,1.5 4.9,1.7 5,2.3 4.6,2.8 4.7,3.5 4.1,3.5 4.1,4 15.9,16.9 3.6,3.3 3,2.5 3.1,2 3,1.4 3,1 2.7,0.3 1.7-0.1 1.9-0.4 3.6-1.7 4.1-3 11.3-9.5 5.4-4 3.9-2.4 3.8-2.2 4.1-2 4.4-1.8 5-1.8 5.2-1.7 11.8-2.9 14-2.4 16.2-2" fill="none" stroke="#33669a" stroke-width="2.9" stroke-linejoin="round"/>
<line x1="96.9" y1="508.2" x2="96.9" y2="561.5" stroke="#000" stroke-width="2.2" stroke-dasharray="5.8,4.65" stroke-dashoffset="4.1"/>
<line x1="103.15" y1="508.2" x2="103.15" y2="510.4" stroke="#333" stroke-width="1.2"/>
<line x1="103.15" y1="561.5" x2="103.15" y2="559.3" stroke="#333" stroke-width="1.2"/>
<line x1="134" y1="508.2" x2="134" y2="512.2" stroke="#333" stroke-width="1.2"/>
<line x1="134" y1="561.5" x2="134" y2="557.5" stroke="#333" stroke-width="1.2"/>
<line x1="164.85" y1="508.2" x2="164.85" y2="510.4" stroke="#333" stroke-width="1.2"/>
<line x1="164.85" y1="561.5" x2="164.85" y2="559.3" stroke="#333" stroke-width="1.2"/>
<line x1="195.7" y1="508.2" x2="195.7" y2="512.2" stroke="#333" stroke-width="1.2"/>
<line x1="195.7" y1="561.5" x2="195.7" y2="557.5" stroke="#333" stroke-width="1.2"/>
<line x1="226.55" y1="508.2" x2="226.55" y2="510.4" stroke="#333" stroke-width="1.2"/>
<line x1="226.55" y1="561.5" x2="226.55" y2="559.3" stroke="#333" stroke-width="1.2"/>
<line x1="257.4" y1="508.2" x2="257.4" y2="512.2" stroke="#333" stroke-width="1.2"/>
<line x1="257.4" y1="561.5" x2="257.4" y2="557.5" stroke="#333" stroke-width="1.2"/>
<line x1="288.25" y1="508.2" x2="288.25" y2="510.4" stroke="#333" stroke-width="1.2"/>
<line x1="288.25" y1="561.5" x2="288.25" y2="559.3" stroke="#333" stroke-width="1.2"/>
<line x1="72.3" y1="512.9" x2="77" y2="512.9" stroke="#222" stroke-width="1.2"/>
<line x1="72.3" y1="525.05" x2="75" y2="525.05" stroke="#222" stroke-width="1.2"/>
<line x1="72.3" y1="537.2" x2="77" y2="537.2" stroke="#222" stroke-width="1.2"/>
<line x1="72.3" y1="549.35" x2="75" y2="549.35" stroke="#222" stroke-width="1.2"/>
<line x1="348.09" y1="508.2" x2="348.09" y2="512.2" stroke="#333" stroke-width="1.2"/>
<line x1="348.09" y1="561.5" x2="348.09" y2="557.5" stroke="#333" stroke-width="1.2"/>
<line x1="378.78" y1="508.2" x2="378.78" y2="510.4" stroke="#333" stroke-width="1.2"/>
<line x1="378.78" y1="561.5" x2="378.78" y2="559.3" stroke="#333" stroke-width="1.2"/>
<line x1="409.47" y1="508.2" x2="409.47" y2="512.2" stroke="#333" stroke-width="1.2"/>
<line x1="409.47" y1="561.5" x2="409.47" y2="557.5" stroke="#333" stroke-width="1.2"/>
<line x1="440.16" y1="508.2" x2="440.16" y2="510.4" stroke="#333" stroke-width="1.2"/>
<line x1="440.16" y1="561.5" x2="440.16" y2="559.3" stroke="#333" stroke-width="1.2"/>
<line x1="470.85" y1="508.2" x2="470.85" y2="512.2" stroke="#333" stroke-width="1.2"/>
<line x1="470.85" y1="561.5" x2="470.85" y2="557.5" stroke="#333" stroke-width="1.2"/>
<line x1="501.54" y1="508.2" x2="501.54" y2="510.4" stroke="#333" stroke-width="1.2"/>
<line x1="501.54" y1="561.5" x2="501.54" y2="559.3" stroke="#333" stroke-width="1.2"/>
<line x1="532.23" y1="508.2" x2="532.23" y2="512.2" stroke="#333" stroke-width="1.2"/>
<line x1="532.23" y1="561.5" x2="532.23" y2="557.5" stroke="#333" stroke-width="1.2"/>
<line x1="563.2" y1="512.9" x2="558.5" y2="512.9" stroke="#222" stroke-width="1.2"/>
<line x1="563.2" y1="525.05" x2="560.5" y2="525.05" stroke="#222" stroke-width="1.2"/>
<line x1="563.2" y1="537.2" x2="558.5" y2="537.2" stroke="#222" stroke-width="1.2"/>
<line x1="563.2" y1="549.35" x2="560.5" y2="549.35" stroke="#222" stroke-width="1.2"/>
<text x="256.3" y="556.7" font-size="18.5" fill="#000" text-anchor="start" >&#916;<tspan font-style="italic">y</tspan>=75</text>
<clipPath id="cp6"><rect x="72.3" y="561.5" width="245.7" height="53.3"/></clipPath>
<path clip-path="url(#cp6)" d="M72.3,571.1l10.7-1.2 7.7-1.2 4.7-1.3 1.1-0.5 0.5-0.7 26.5,0.1 3.4,0.2 1.4,0.4 0.5,0.6 0.4,1 0.3,4.3 0.5,36.7 0.3-36.4 0.2-4.4 0.5-1.6 0.7-0.4 1.9-0.1 10.9,0.6 7.7,1.1 6.9,1.5 5.2,1.8 5.2,2.4 4.9,2.8 4.7,3.3 4.1,3.3 4.4,4 17,16.9 3.9,3.4 3.3,2.4 3.3,2.1 3.2,1.4 3.1,0.9 3,0.3 1.6-0.1 2-0.4 1.9-0.8 1.9-1 4.1-2.9 11.3-9.2 5.7-4.1 7.7-4.5 8.3-3.7 9.8-3.4 11.6-2.9 13.2-2.4 15.6-2" fill="none" stroke="#33669a" stroke-width="2.9" stroke-linejoin="round"/>
<line x1="96.9" y1="561.5" x2="96.9" y2="614.8" stroke="#000" stroke-width="2.2" stroke-dasharray="5.8,4.65" stroke-dashoffset="4.1"/>
<line x1="103.15" y1="561.5" x2="103.15" y2="563.7" stroke="#333" stroke-width="1.2"/>
<line x1="103.15" y1="614.8" x2="103.15" y2="612.6" stroke="#333" stroke-width="1.2"/>
<line x1="134" y1="561.5" x2="134" y2="565.5" stroke="#333" stroke-width="1.2"/>
<line x1="134" y1="614.8" x2="134" y2="610.8" stroke="#333" stroke-width="1.2"/>
<line x1="164.85" y1="561.5" x2="164.85" y2="563.7" stroke="#333" stroke-width="1.2"/>
<line x1="164.85" y1="614.8" x2="164.85" y2="612.6" stroke="#333" stroke-width="1.2"/>
<line x1="195.7" y1="561.5" x2="195.7" y2="565.5" stroke="#333" stroke-width="1.2"/>
<line x1="195.7" y1="614.8" x2="195.7" y2="610.8" stroke="#333" stroke-width="1.2"/>
<line x1="226.55" y1="561.5" x2="226.55" y2="563.7" stroke="#333" stroke-width="1.2"/>
<line x1="226.55" y1="614.8" x2="226.55" y2="612.6" stroke="#333" stroke-width="1.2"/>
<line x1="257.4" y1="561.5" x2="257.4" y2="565.5" stroke="#333" stroke-width="1.2"/>
<line x1="257.4" y1="614.8" x2="257.4" y2="610.8" stroke="#333" stroke-width="1.2"/>
<line x1="288.25" y1="561.5" x2="288.25" y2="563.7" stroke="#333" stroke-width="1.2"/>
<line x1="288.25" y1="614.8" x2="288.25" y2="612.6" stroke="#333" stroke-width="1.2"/>
<line x1="72.3" y1="566.2" x2="77" y2="566.2" stroke="#222" stroke-width="1.2"/>
<line x1="72.3" y1="578.35" x2="75" y2="578.35" stroke="#222" stroke-width="1.2"/>
<line x1="72.3" y1="590.5" x2="77" y2="590.5" stroke="#222" stroke-width="1.2"/>
<line x1="72.3" y1="602.65" x2="75" y2="602.65" stroke="#222" stroke-width="1.2"/>
<line x1="348.09" y1="561.5" x2="348.09" y2="565.5" stroke="#333" stroke-width="1.2"/>
<line x1="348.09" y1="614.8" x2="348.09" y2="610.8" stroke="#333" stroke-width="1.2"/>
<line x1="378.78" y1="561.5" x2="378.78" y2="563.7" stroke="#333" stroke-width="1.2"/>
<line x1="378.78" y1="614.8" x2="378.78" y2="612.6" stroke="#333" stroke-width="1.2"/>
<line x1="409.47" y1="561.5" x2="409.47" y2="565.5" stroke="#333" stroke-width="1.2"/>
<line x1="409.47" y1="614.8" x2="409.47" y2="610.8" stroke="#333" stroke-width="1.2"/>
<line x1="440.16" y1="561.5" x2="440.16" y2="563.7" stroke="#333" stroke-width="1.2"/>
<line x1="440.16" y1="614.8" x2="440.16" y2="612.6" stroke="#333" stroke-width="1.2"/>
<line x1="470.85" y1="561.5" x2="470.85" y2="565.5" stroke="#333" stroke-width="1.2"/>
<line x1="470.85" y1="614.8" x2="470.85" y2="610.8" stroke="#333" stroke-width="1.2"/>
<line x1="501.54" y1="561.5" x2="501.54" y2="563.7" stroke="#333" stroke-width="1.2"/>
<line x1="501.54" y1="614.8" x2="501.54" y2="612.6" stroke="#333" stroke-width="1.2"/>
<line x1="532.23" y1="561.5" x2="532.23" y2="565.5" stroke="#333" stroke-width="1.2"/>
<line x1="532.23" y1="614.8" x2="532.23" y2="610.8" stroke="#333" stroke-width="1.2"/>
<line x1="563.2" y1="566.2" x2="558.5" y2="566.2" stroke="#222" stroke-width="1.2"/>
<line x1="563.2" y1="578.35" x2="560.5" y2="578.35" stroke="#222" stroke-width="1.2"/>
<line x1="563.2" y1="590.5" x2="558.5" y2="590.5" stroke="#222" stroke-width="1.2"/>
<line x1="563.2" y1="602.65" x2="560.5" y2="602.65" stroke="#222" stroke-width="1.2"/>
<text x="256.3" y="609.3" font-size="18.5" fill="#000" text-anchor="start" >&#916;<tspan font-style="italic">y</tspan>=50</text>
<clipPath id="cp7"><rect x="72.3" y="614.8" width="245.7" height="53.3"/></clipPath>
<path clip-path="url(#cp7)" d="M72.3,624.4l11-1.3 7.7-1.2 4.4-1.1 1.1-0.6 0.5-0.7 21.4,0.3 14,0.7 6.1,0.5 5.5,0.8 5.2,1 4.6,1.2 5.8,1.8 5.5,2.3 5.5,2.8 5.5,3.3 4.6,3.2 5,3.8 19.7,16.3 4.4,3.1 3.9,2.5 4.1,2.1 3.8,1.5 3.9,1 3.6,0.4 2.2-0.1 1.9-0.3 2.2-0.8 2.2-1.1 3.8-2.6 11.3-8.6 6.3-4.4 7.4-4.2 8-3.6 9-3.2 10.4-2.8 11.8-2.4 13.5-2" fill="none" stroke="#33669a" stroke-width="2.9" stroke-linejoin="round"/>
<line x1="96.9" y1="614.8" x2="96.9" y2="668.1" stroke="#000" stroke-width="2.2" stroke-dasharray="5.8,4.65" stroke-dashoffset="4.1"/>
<line x1="103.15" y1="614.8" x2="103.15" y2="617" stroke="#333" stroke-width="1.2"/>
<line x1="103.15" y1="668.1" x2="103.15" y2="665.9" stroke="#333" stroke-width="1.2"/>
<line x1="134" y1="614.8" x2="134" y2="618.8" stroke="#333" stroke-width="1.2"/>
<line x1="134" y1="668.1" x2="134" y2="664.1" stroke="#333" stroke-width="1.2"/>
<line x1="164.85" y1="614.8" x2="164.85" y2="617" stroke="#333" stroke-width="1.2"/>
<line x1="164.85" y1="668.1" x2="164.85" y2="665.9" stroke="#333" stroke-width="1.2"/>
<line x1="195.7" y1="614.8" x2="195.7" y2="618.8" stroke="#333" stroke-width="1.2"/>
<line x1="195.7" y1="668.1" x2="195.7" y2="664.1" stroke="#333" stroke-width="1.2"/>
<line x1="226.55" y1="614.8" x2="226.55" y2="617" stroke="#333" stroke-width="1.2"/>
<line x1="226.55" y1="668.1" x2="226.55" y2="665.9" stroke="#333" stroke-width="1.2"/>
<line x1="257.4" y1="614.8" x2="257.4" y2="618.8" stroke="#333" stroke-width="1.2"/>
<line x1="257.4" y1="668.1" x2="257.4" y2="664.1" stroke="#333" stroke-width="1.2"/>
<line x1="288.25" y1="614.8" x2="288.25" y2="617" stroke="#333" stroke-width="1.2"/>
<line x1="288.25" y1="668.1" x2="288.25" y2="665.9" stroke="#333" stroke-width="1.2"/>
<line x1="72.3" y1="619.5" x2="77" y2="619.5" stroke="#222" stroke-width="1.2"/>
<line x1="72.3" y1="631.65" x2="75" y2="631.65" stroke="#222" stroke-width="1.2"/>
<line x1="72.3" y1="643.8" x2="77" y2="643.8" stroke="#222" stroke-width="1.2"/>
<line x1="72.3" y1="655.95" x2="75" y2="655.95" stroke="#222" stroke-width="1.2"/>
<line x1="348.09" y1="614.8" x2="348.09" y2="618.8" stroke="#333" stroke-width="1.2"/>
<line x1="348.09" y1="668.1" x2="348.09" y2="664.1" stroke="#333" stroke-width="1.2"/>
<line x1="378.78" y1="614.8" x2="378.78" y2="617" stroke="#333" stroke-width="1.2"/>
<line x1="378.78" y1="668.1" x2="378.78" y2="665.9" stroke="#333" stroke-width="1.2"/>
<line x1="409.47" y1="614.8" x2="409.47" y2="618.8" stroke="#333" stroke-width="1.2"/>
<line x1="409.47" y1="668.1" x2="409.47" y2="664.1" stroke="#333" stroke-width="1.2"/>
<line x1="440.16" y1="614.8" x2="440.16" y2="617" stroke="#333" stroke-width="1.2"/>
<line x1="440.16" y1="668.1" x2="440.16" y2="665.9" stroke="#333" stroke-width="1.2"/>
<line x1="470.85" y1="614.8" x2="470.85" y2="618.8" stroke="#333" stroke-width="1.2"/>
<line x1="470.85" y1="668.1" x2="470.85" y2="664.1" stroke="#333" stroke-width="1.2"/>
<line x1="501.54" y1="614.8" x2="501.54" y2="617" stroke="#333" stroke-width="1.2"/>
<line x1="501.54" y1="668.1" x2="501.54" y2="665.9" stroke="#333" stroke-width="1.2"/>
<line x1="532.23" y1="614.8" x2="532.23" y2="618.8" stroke="#333" stroke-width="1.2"/>
<line x1="532.23" y1="668.1" x2="532.23" y2="664.1" stroke="#333" stroke-width="1.2"/>
<line x1="563.2" y1="619.5" x2="558.5" y2="619.5" stroke="#222" stroke-width="1.2"/>
<line x1="563.2" y1="631.65" x2="560.5" y2="631.65" stroke="#222" stroke-width="1.2"/>
<line x1="563.2" y1="643.8" x2="558.5" y2="643.8" stroke="#222" stroke-width="1.2"/>
<line x1="563.2" y1="655.95" x2="560.5" y2="655.95" stroke="#222" stroke-width="1.2"/>
<text x="256.3" y="661.8" font-size="18.5" fill="#000" text-anchor="start" >&#916;<tspan font-style="italic">y</tspan>=0</text>
<clipPath id="cp8"><rect x="318.3" y="295" width="244.9" height="53.3"/></clipPath>
<path clip-path="url(#cp8)" d="M317.4,305.3l0.9,0.2 0.4,1.5 0.7,0.7 0.4-0.9 0.2,0.4 0.2-0.4 0.7,0.7 0.9,1.9 0.6-1.4 0.2,0.3 0.7-0.5 0.7,1.6 0.8-0.1 0.3-1.1 0.2,0.7 0.2-0.7 0.4,0.7 0.2-0.5 0.3,1.4 0.9-0.5 0.4-0.8 0.9,1.1 0.8-0.1 0.2,0.6 0.3-0.9 0.2,0.6 0.6-1.2 0.7,1.1 0.2-0.3 0.2,0.6 0.9-0.5 0.5-1 0.8,1.1 0.2-0.3 0.5,0.4 1.3-2.7 0.2,1 0.7,0.2 1.5-2.8 1.3,1 1.1-3.1 0.2,0.5 0.2-0.4 0.3,1.1 0.2-0.6 0.6,0.3 0.9-1.7 0.5,0.6 0.2-0.5 0.8,1.2 1.4-2 0.9,1.9 1.5-1.9 0.8,1.3 0.1-0.5 0.2,0.6 0.9-1.4 0.8-0.3 0.7,1.9 1.7-2.5 0.2,1 0.1-0.2 1,1.8 0.9-2.7 0.4,0.8 0.1-0.3 1,2.8 1.1-3.1 1.1,3.5 0.3,0.3 0.2-0.7 0.2,0.6 0.6-2 0.5,0.1 1.1,4.3 0.6-0.9 0.3-2.3 0.8,1 0.7,2.4 1.3-3 0.7,1.8 0.2-0.5 0.4,0.9 1.5-3.9 1.1,1.7 1.1-4 0.3,0 1.1,3.3 1-3.1 0.1-0.3 0.4,0.3 1.1,5.1 1.1-4.3 1.3,7.8 0-0.5 0.3,1.1 0.5-1.7 0.2,0.7 0.2-0.7 0.4,1.3 1,10.9 0.2,1.3 0.2,0.2 0.1-0.3 0.1,0.7 0.1-0.5 0.1,0.9 0.1-0.8 0.2,1.4 0.1-0.7 1.2,13.3 1.5,9.3 2.7-23.1 1-2.1 1.4-10.5 0.2-0.5 0.1,0.5 0.1-0.8 0.4,1.6 0-0.8 0.1,0.6 0.3-0.9 0.2,0.4 1-5.8 0,0.6 0.1-0.5 0.3,0.3 0.9,4.1 0.4-0.8 0.1,0.2 0.8-4.7 1.3,6.8 0.3-0.2 1-5.2 1.3,8 1.1-6.1 0.3-0.1 1.1,6.9 1.1-6.6 0.6,1 0.7,4.5 0.4-0.2 0.5-3.6 0.8-1.7 0.9,4.9 0.4-0.3 0.5-4.1 0.6-1.4 0.9,4.8 0.2-0.4 0.2,0.5 1.1-6.8 1.4,7.5 0.8-7.1 0.5-2.1 1,8.9 0.3-0.5 1.1-10.5 1.3,10.2 1.3-12.9 1.3,11.5 1.3-12.2 1.1,10.7 1.5-9.4 1.2,10.3 0.8-5.7 0.5-0.9 1.3,9.5 0.8-5.1 0.5-0.9 0.9,9.2 0.4,0.8 1.1-6.9 1.3,12.1 1.3-9.5 1.3,14.5 1.3-10.4 1.3,14.9 1.1-10.9 1.4,14.6 0.8-7.1 0.2-1 0.3-0.1 1.1,12.4 1.1-6.6 1.5,10.6 0.4,0.1 0.3-2 0.6-0.4 1.3,6.5 0.7-1 0.2,0.7 0.2-0.7 0.7,2.2 1.1,1.4 0.2-1.1 0.7-0.8 0.4,0.7 0.4-0.1 0.2,1 0.2-0.6 0.3,0.5 1.1-4.1 1.3,3 1.1-6.9 0.6,1 0.5,3.9 0.4,0 1.1-9 1.3,7.4 1.1-9.5 0.4-0.1 1.1,5.9 1.3-9 1.1,6.7 1.2-9.5 0.6,1.2 0.7,6 0.4-0.8 0.9-9.8 1.3,8.8 1.3-12.8 1.3,11.5 1.3-13.5 1.3,12.6 1.3-13.8 1.2,11.5 1.3-12 1.3,10.4 1.3-10.4 1.1,8.8 1.3-9 1.5,8.1 1.1-9.5 1.1,8.5 0.4,0.3 1.1-11.1 1.4,11.4 1.1-14.2 1.3,13.8 1.3-15.3 1.3,13.4 1.3-14.9 1.3,12.4 1.1-13.2 1.3,9.9 1.1-10.2 0.4-0.7 1.1,8.5 1.4-10.1 1,9.2 0.3-0.1 1.1-10.3 1.5,11.3 1.1-12.5 1.3,14.9 1.3-15.6 1.3,15.8 1.1-15.6 0.3,0.8 1,15.1 1.3-14.6 1.2,14.9 1.3-13.2 1.1,11.5 0.4,0.8 1.1-10.9 1.1,10.9 0.4-0.9 1.1-10.4 1.1,11 0.2,0.3 0.2-0.6 1.1-11.7 1.3,14.1 1.2-15.6 1.1,16.1 1.2-15.6 0.3-1.1 1.1,17.1 1.3-18.2 1.3,16.4 1.3-15.8 1.3,14 1.3-13.3 1.3,12 1.1-11.1 0.3,0.9 1,9.3 0.3-0.9 1.1-10.5 1.1,11.8 0.4-0.8 0.9-13.1 0.4,1.4 0.7,13.1 0.4-0.3 0.2-1 0.5-10.7 0.6-3.8 1.1,16.6 1.3-17.5 1.3,17.1 1.3-17.1 1.2,15.2 1.3-14.8 1.3,12.5 1.1-11.3 0.4,0.9 0.9,8.9 0.4-0.7 0.9-10 0.2-0.6 0.4,3.6" fill="none" stroke="#ff1a1a" stroke-width="0.7" stroke-linejoin="round"/>
<clipPath id="cp9"><rect x="318.3" y="348.3" width="244.9" height="53.3"/></clipPath>
<path clip-path="url(#cp9)" d="M317.4,361.1l0.2,1.2 0.4,0 0.1,0.8 0.6,0.1 0.2-0.8 0.2,0.6 0.1-0.6 0.2,0.7 0.2-0.4 0.4,1.6 0.2-0.4 0.3,0.8 0.2-0.4 0.2,0.7 0.7-1.7 0.4,0.4 0.4-0.4 0.9,1.4 1.1-2.3 0.5,0 0.2,0.7 0.4-0.5 0.2,0.4 0.9-2.4 0.7-0.5 0.8,1 1.6-3.3 0.2,0.5 0.4-0.7 0.4,0.6 0.9-1.5 0.2,0.7 0.3-0.8 0.8-0.3 0.2,0.5 0.3-0.3 0.2,0.2 0.4-1.1 0.3,0.1 0.8-0.7 0.2,0.6 0.3-0.2 0.6,0.7 0.5-1.8 0.2,0.5 1.1-0.4 0.2,0.7 0.2-0.2 0.5,0.5 1-2 1.1,1.9 1.4-2.6 1.3,2.1 1.3-2.6 0.9,1.7 1.5-2.4 0.2,0.7 0.2-0.9 0.4,1 0.5,0 1.1-2.4 0.6,0.4 0.3-0.3 0.2,0.7 0.6-0.7 0.2,0.3 0.3-1.7 0.4-0.6 0.2,0.5 0.2-1 0.1,0.4 0.2-0.3 0.2,1 0.2-0.6 0.5,0.3 0.4-1.8 0.2,0.4 0.7-1.6 0.6,1.6 0.2-0.6 0.7,0 1.1-2.8 1.1,4 1.1-2.3 1.5,5.7 0.7-2.3 0.6,0 1.1,6.3 0.4,0.2 0.3-1.1 0.2,0.4 0.2-1 1.5,5.8 0.5-0.6 0.6-1.9 0.2,0.4 0.3-0.2 0.9,2.6 1.3-4 0.6,0.5 0.2,1.2 0.5-0.1 1.5-4 1.3,2.5 0.9-4 1.5,4.2 1.1-4.8 1.3,6.8 1.2-3.1 0.2,0.8 1.2,11.2 0.3,1.4 0.1-0.5 0.5,1 0.1-0.4 0.4,2.1 1,13.5 1.6,10.4 1-6.7 1.4-16.1 0.4-1.3 0,0.4 0.3-1 0,0.5 0.4-2.5 0,0.8 1.1-9.8 0.7-2 0,0.8 0.1-0.7 0.6,1.4 0.3-1.1 0,0.9 1.2-6.3 1,3.5 0.2,0.4 0.1-0.5 0.2,0.5 0.6-3.6 0.5-1 1.1,5.3 1.1-5.9 0.4,0 1.1,6.8 1.3-7.7 1.3,7.7 1.1-7.7 1.3,7.7 1.5-7.1 1.1,7 1.1-5.7 0.3-0.2 1.1,6.4 1.3-6.5 1.5,7.7 1.1-7 1.3,9.2 1.3-9.2 1.3,11.2 0.9-10 0.4-0.9 1.3,12.8 1.1-11.9 1.2,12.5 0.4-0.2 0.9-10 1.1,10.3 0.4,0.3 1.1-8.1 1.1,9.2 0.4,0 1.1-5.9 1.3,9.7 0.9-6.8 0.2-0.3 0.2,0.3 1.3,10.2 1.2-8.4 1.3,13.1 1-9.2 0.1-1.1 0.2,0.4 1.3,13.9 1.1-11.3 1.3,14.3 1.3-10.9 1.5,13.7 1.1-9.1 1.1,10.3 0.3,0.1 1-6.5 1.3,9.6 0.3,0 0.9-5.7 1.3,7.6 0.4,0.1 0.7-4 0.4,0.2 1.1,6.7 0.4-0.2 0.9-3.6 1.3,5.8 0.4-0.1 0.5-1.8 0.4,0.9 0.2-0.6 0.7,3 0.2-0.6 0.4,1.2 0.5-1.3 0.4,1.2 0.2-0.6 0.5,1 0.4-1 0.2,1.1 0.5-1.3 0.4,0.6 0.7-0.9 0.4,0.8 0.2-1 0.2,0.8 0.3-0.2 0.2,0.3 0.9-3.3 0.6,0 0.5,1.4 0.8-1.1 0.5-3.3 0.6-0.9 0.9,2.9 1.5-7.1 1.3,5.5 1.1-9 1.3,8.2 1.2-12.3 1.3,11.2 1.3-14.1 1.3,11.6 1.3-13.8 1.3,11.2 0.7-9.9 0.6-3 1.1,9.3 1.3-10.7 1.3,8 1.2-10.1 1.2,8.4 0.3-0.3 0.9-10.5 0.4,0.2 1.1,9.5 1.3-13.3 1.3,12.1 1.3-14.7 1.3,13.6 1.1-15.3 0.3,0.9 1,12.3 1.3-14.2 1.1,11.5 0.3,0.2 1.1-11.4 1.3,10.1 1.1-9.6 0.6,1.4 0.9,7.8 1.1-10.2 0.4,0.1 1.1,10.2 1.1-11.6 0.3,0.7 1.2,12.4 1.2-14.8 1.1,15.1 0.4-1.3 0.9-14.8 1.1,15.6 0.4,0.3 1.1-15.6 1.3,15.5 1.3-14.4 1.3,12.9 1.1-12.1 0.4,0.1 1.1,10.3 1.1-10.5 1.3,9.9 0.3-0.6 1.1-10.4 1.1,11.8 0.4-0.8 0.7-12.3 0.2,0.2 0.2-1.1 0.9,13.8 0.4,0.9 0.9-15.3 0.4-1 1.1,16.5 1.3-17.8 1.3,16.5 1.3-16.9 1.2,14.5 1.1-14.7 1.3,11.8 1.5-12.1 1.1,10.9 1.3-10.7 1.5,10.8 1.1-12.4 1.3,13.2 1.3-14.7 1.2,16.6 1.3-17.4 1.3,17.2 1.3-17.4 1.1,16.9 1.3-15.7 1.3,15 1.3-14.1 1.1,11.4 0.2,0.9 0.2-0.4" fill="none" stroke="#ff1a1a" stroke-width="0.7" stroke-linejoin="round"/>
<clipPath id="cp10"><rect x="318.3" y="401.6" width="244.9" height="53.3"/></clipPath>
<path clip-path="url(#cp10)" d="M317.4,409.9l0.7-1.4 0.8,0 0.2,0.6 0.1-0.4 0.2,0.7 0.2-1 0.2,0.5 0.4-0.2 0.1,0.3 0.6-1.9 0.9,2.5 1.7-2.5 0.7,1.6 0.2-0.6 0.5,0.3 0.8-0.9 0.2-0.9 0.5,1.4 1.3,0.2 0.6-1.6 0.1,0.9 0.4-0.3 0.4,1.1 0.7,0 0.4-0.6 0.9-0.3 0.9,1.6 1.3-1.2 1.3,1.9 0.2-0.7 0.2,0.6 1.1-1.4 1.1,2.4 0.5-1 1-0.6 1.4,2.1 1-2.4 0.1,1 0.2-0.4 0.8,1.6 0.5-0.4 0.9-1.7 1,1.9 0.3-0.2 0.2,0.5 0.9-2.3 0.4,0.7 0.7,0.1 0.4,0.8 1.1-1.9 0.4,0 0.3,0.9 0.4-0.4 0.4,0.6 1.1-1.9 1.3,1.4 0.2-0.6 0.1,0.3 0.2-0.2 0.4-1.5 0.4,0.4 0.3-0.6 0.9,1.9 1.7-2.8 0.9,2.7 1.5-3.4 1.1,3.3 0.9-3.6 0.2,0.6 0.2-0.7 1.1,3.2 1.3-3.3 1.3,3.1 0.5-0.6 0.8-2.9 0.3,0.8 0.2-0.4 0.8,2.8 1.2-3 1.3,2.6 0.4,0.1 1.1-3.1 0.7,3 0.7,0.7 1-3.5 1.5,7 0.5-2.3 0.2,0.8 0-1 0.6,1.6 1.2,12.3 0.3,1.5 0.1-0.5 0.1,0.7 0.1-0.6 0.6,2.7 1.3,18.5 1-13.1 0.4-3 0.8-2.2 1.4-14.2 0.1,0.3 0.2-1 0.2,0.1 0.1-1 0.4,1.5 0-0.6 0.2,0.5 0.2-0.5 1.1-5.9 0.2,0.4 0.1-0.5 0.4,0.7 0.2,1.8 0-0.8 0.5,1.4 1.3-4.2 1.5,3.9 0.7-3 0.4-0.9 0.3,0.1 0.8,4.6 0.3,0.1 1.1-5.4 1.3,6.2 1.1-6.9 1.3,6.7 0.4-0.3 1.1-6 0.9,6.9 0.4,0.5 0.9-6.2 0.4-0.4 1.1,6.4 0.9-5 0.6-0.6 1.1,6.7 1.2-6.3 1.1,6.6 0.4-0.4 0.8-4.6 0.3-0.6 0.2,0.4 1.1,7.1 1.1-7.6 1.5,10.2 1.1-10.3 1.1,11.6 0.4,0.7 1.1-11 1.3,12.4 1.3-11.1 1.1,11.9 0.1,0.2 0.2-0.7 1.1-8 1.1,10.6 1.5-7.4 1.1,9.4 0.4-0.1 0.9-6.2 1.5,10.3 1.1-7.1 1.3,11 1.3-9.7 1.2,14 1.3-11 1.1,13.9 0.6-1.4 0.7-9.4 0.4,0.9 1.1,13.2 0.9-9.6 0.4-0.3 1.3,12.1 0.7-6.1 0.6-1.5 1.1,9.1 1.3-5.5 1.1,6.8 0.3,0.3 0.2-0.5 0.9-3.6 1.1,6.5 1.3-2.6 0.6,1 0.9,4.1 1.1-2.1 1.7,3.4 1.1-1.6 0.7,1.3 0.7-0.1 1-1.6 0.3,0.2 0.2-0.3 0.6,1.1 0.2-0.6 0.1,0.7 1-3.9 0.3-0.4 1.1,2.3 1.3-6 1.1,3.4 0.6-0.7 1.1-6.6 0.9,4.6 0.4,0.2 1.1-8.6 1.3,7.6 1.1-11.4 0.3,0.2 1,10 0.3-1.3 1-12.8 0.5,2.6 0.7,9 1.3-14.4 1.1,11.1 0.4,0.2 1.1-13.5 1.3,11 1.1-11.9 0.2-0.3 0.2,0.6 1.1,7.7 1.1-9.5 0.3-0.1 0.6,5.4 0.6,1.9 1.2-9 1.1,8.4 0.4-0.6 0.9-9.8 1.5,11 1.1-13.4 1.3,13.1 1.1-13.3 0.4-0.9 0.9,13.4 0.4-0.5 1.1-13.9 1.3,13.1 1.2-13.8 1.2,12.2 1.4-11.3 1.1,10 1.5-10.5 0.9,8.8 0.4,0.4 1.1-10.5 1.1,9.6 0.4,0.5 1.1-12.1 1.3,12.9 1.3-15.2 1.2,16 1.3-16.9 1.3,15.6 1.3-16.5 0.9,13.5 0.4,1.1 0.9-12.3 0.4-1 1.1,11.3 1.3-11.5 1.3,11 1.1-10 0.3-0.6 1.1,10.3 1.3-12 1.3,13.5 1.3-15 1.3,15.6 1.3-17 1.1,16.9 0.4-1.3 0.9-15.6 1.3,16.6 1.3-15.9 1.3,14.6 1.2-13.8 1.3,12.3 1.3-11.2 1.3,10.4 1.3-11.3 1.1,12.5 0.4-0.9 0.9-12.3 1.5,14.4 1.1-15.2 0.5,3.9 0.8,13.1 1.2-17.6 1.3,17.7 1.3-17.3 1.3,16.6 1.3-14.6 1.3,13.4 1.3-12.1 1.3,11.9 1.3-10.9" fill="none" stroke="#ff1a1a" stroke-width="0.7" stroke-linejoin="round"/>
<clipPath id="cp11"><rect x="318.3" y="454.9" width="244.9" height="53.3"/></clipPath>
<path clip-path="url(#cp11)" d="M317.4,463.3l0.9,1.5 0.8-1.4 0.1,0.9 0.4-0.7 0.9,2.4 0.2-0.5 0.4,0.6 0.2-0.5 0.9-0.3 0.9,1.7 0.4-0.7 0.3,0.4 0.2-0.7 0.2,0.5 0.2-0.7 1.1,1.7 0.6-1.4 0.5,1 0.2-0.7 0.2,0.7 0.3-0.5 0.2,0.7 0.2-0.6 0.7,1.4 0.6-1 0.7-0.3 0.2,0.6 0.4-0.3 0.4,1 0.5-0.6 0.2,0.7 0.5-1.5 0.6,0.6 0.2-0.5 0.5,1.7 0.2-0.3 0.4,0.4 0.2-0.7 0.9-0.6 0.5,0.5 0.4,1.1 0.2-0.5 0.2,0.7 0.7-2 0.4,0.4 0.4-0.3 0.7,1.5 0.2-0.6 0.3,0.1 0.6-1.5 0.2,0.2 0.2-0.4 0.1,0.6 0.6-0.4 0.4,0.6 1.3-2.3 0.7,0.6 0.4-0.5 0.1,0.7 1.2-2.4 0.5,0.1 0.2-0.6 0.4,1.1 0.3,0 0.6-1.5 0.2,0.9 0.3-1.2 1,0.1 0.1,1 0.2-0.7 0.2,0.6 0.9-1.8 0.9-0.2 0.2,1.5 0.4-0.3 0.2,0.8 1.1-2.9 1.3,2.1 0.2-0.4 0.3,0.6 0.6-2.4 0.5-0.7 1.1,3.4 1.3-4.1 0.8,2.5 0.5,0.5 1.3-2.6 1.1,2.2 0.7-2 0.2,0.3 0.4-0.6 0.2,1 0.4-0.3 0.3,1.1 0.6,0.4 0.9-2.7 1.6,3 0.8-3.1 0.2,0.5 0.3-0.3 0.8,2.9 0.5,0.8 0.6-2.3 0.2,0.5 0.3-1.2 1.1,4.2 0.2-0.4 0.2,0.5 0.9-4.1 1.5,5 1.1-4.2 0.4,0 0.9,4.4 0.4-0.4 0.5-3.3 0.2,0.2 0.4-1 0.7,4.2 0.1-0.9 0.2,1.2 0.2-0.9 0.1,1.1 0.6-3.4 0.5-0.7 1.4,6 0.4-0.6 0.2,0.7 0.1-0.9 0.3,1 1.5,14.2 1.4,9.2 1-6.4 1.6-16.8 0.2,0.6 0.2-0.5 0.1,0.8 0.3,0 0.1-0.8 0,0.5 1.3-8.6 0.3,0.5 1,5.4 1.4-7.1 1.2,6.6 1.1-6.1 0.1,0.3 0.2-0.3 0.8,4.9 0.5,0.7 0.9-6.5 1.3,5.9 0.6-0.9 0.7-4.2 0.8,1.4 0.7,3.3 1.1-5.4 0.5,0.8 0.2,2.1 0.8,2.1 1.1-5.6 1.4,6.7 1.1-8.2 1.5,9.3 1.1-9.7 0.9,8.8 0.6,2.1 1.1-10.6 1.1,11.7 1.5-9.8 1.1,10.5 0.4-0.7 0.9-7 0.3,0.4 1,8.4 0.2-0.5 0.1,0.2 1.1-6.9 1.1,8.7 1.3-6.5 0.4,0.7 0.9,8 1.3-9.1 1.3,11.3 1.3-11.3 1.3,12.6 1.1-11.4 0.4,0.5 0.7,11.1 0.4,1.2 1.2-11.5 1.1,12.5 1.3-10.4 1.3,10.8 0.4-0.5 0.7-7.4 0.4,0.2 0.9,8.4 0.4,0.5 0.9-6.7 0.4,0.4 0.7,8 0.6,1.5 0.7-6.5 0.4-0.7 1.3,11.5 0.9-9 0.4-0.1 1.2,12.9 1-9.9 0.3-1 1.1,14.4 1.3-11.8 1.5,14.2 1.1-10.5 1.3,12.7 0.9-7.1 0.4-0.6 1.1,9 0.4,0.3 0.7-4.7 0.4,0.2 1.1,6.1 0.1,0.1 0.8-1.6 0.3-1.7 1.5,6 1.1-2.4 1.3,4 0.6,0.2 0.5-1.1 1.3,1.6 0.9,0.1 0.2-0.6 0.2,0.7 0.7-0.2 0.4,0.7 0.2-0.6 0.2,0.6 0.7-1.8 0.9-0.5 0.2,0.8 0.2-0.3 0.6,0.7 0.7-1.8 0.4-2.4 0.7,0.4 0.7,2.2 1.3-5.8 1.1,3.5 0.6-1.3 0.7-4.7 0.6,0.5 0.5,3.3 0.2-0.4 0.2,0.6 1.3-7.5 1.1,6.9 1.5-10.3 1.1,9.9 1.2-13.6 1.3,12.8 1.3-15.3 1.1,13.4 0.4-1 1.1-13.7 1.3,12.6 1.1-13.4 0.4,0.8 0.9,9.6 1.3-10.9 1.3,8.6 1.1-9.3 0.3-0.8 1.3,8.6 1.1-11.1 1.3,11 1.3-14 1.3,13.3 1.3-16.2 1.1,15.5 1.5-16.8 1.3,14.6 1.1-16 1.4,13.7 1.1-13.7 1.3,11.1 1.3-11.7 1.3,10 1.1-10.4 0.2-0.3 0.2,0.2 1.1,10.1 1.1-12.7 0.4,0.5 1.1,12.8 1.2-15.4 1.3,15.7 1.3-17.1 1.1,17.3 1.3-17.6 1.3,15.7 1.3-15.3 1.3,13.1 1.3-12.4 1.1,11 0.3-0.9 1-9.9 0.3,0.2 1,9.9 0.3-0.6 0.9-10.7 1.5,12.9 1.1-14.2 1.5,15.4 1.1-16.8 1.3,17.7 1.3-17.9 1.3,17.4 1.3-16.1 1.2,15.3 1.3-13.7 1.1,12.8 1.3-11.2 0.4,0.8 0.7,9.2 0.4,0.8 0.9-9.4 0.4-0.8 1.1,11.8 1.3-12.2 1.5,14.5" fill="none" stroke="#ff1a1a" stroke-width="0.7" stroke-linejoin="round"/>
<clipPath id="cp12"><rect x="318.3" y="508.2" width="244.9" height="53.3"/></clipPath>
<path clip-path="url(#cp12)" d="M317.4,512.4l0.4-0.6 0.9,1.7 0.2-1.2 0.2,0.9 1.1-1.7 0.3,0.7 0.2-0.3 0.2,0.9 1.7-1.3 0.7,0.8 0.7,0.3 0.2-0.4 0.4,0.5 0.2-1 0.1,0.3 0.6-0.5 0.9,1.4 0.8-1.7 0.7,0.2 0.4,0.7 0.1-0.5 0.2,1.3 0.2-0.4 0.6,0.2 0.7-0.9 0.6,0.4 0.5,1.5 0.7,0.3 1-1 0.7,2.6 0.6,0.4 0.3-0.8 0.4,0.1 0.2-1.3 0.7,1.6 0.2-0.3 0.4,1.5 0.3-0.1 0.2-0.8 0.2,0.6 0.6-1.4 0.5-0.3 0.2,1 0.9,0.6 0.7-0.6 0.2-0.7 0.2,0.5 0.2-1 0.7,1.6 0.2-0.5 0.6,0.3 0.2-0.7 0.1,0.3 0.2-0.5 0.2,0.4 0.4-0.6 0.7,0.9 0.2-0.3 0.2,1 0.9-2 0.2,0.5 0.4-0.5 1.2,1.6 0.2-1 0.6-1.2 0.2,0.8 0.2-1.1 0.7,1.9 0.7-0.6 0.2,0.2 0.4-1.3 0.7-0.4 0.9,2.2 1.3-3.7 1.3,2.7 1.1-3.1 0.8,1.5 0.5,0.1 0.4,0.7 0.9-2.9 0.4,0.8 0.1-0.4 1,2.3 1.3-3.2 0.9,2.6 0.5-1.6 0.2,0.9 0.6-1.9 0.3,0 1.1,2.5 1.1-2.5 0.6,0.5 1.1,3.5 0.7-2.8 0.2,0.3 0.2-0.5 0.4,0.4 0.9,4.4 0.9-3.3 0.6-0.2 0.9,5.2 0.5-0.8 0.4-2.4 0.4-0.7 0.3,0 0.6,3.8 0.6,1.1 0.9-3.9 0.5,0.1 0.9,3.9 1.3-4.2 1.3,3.5 0.6-0.9 0.5-2.7 0.2,0.7 0.1-0.7 0.5,0.9 0.5,2.8 0.4-0.7 0.2,0.3 0.1-1.3 0,0.6 0.7-1.9 1.6,7.7 0.3-1 0.4,0.9 0.1-0.5 0.1,0.7 0.1-0.5 1.6,16 1.2-11.4 0.6-0.5 0.1,0.7 0.4-1.5 1.4-12.8 0.5,3.2 0.7,1.4 1-7 0,0.4 0.3-0.8 1,5.6 0-1.1 0.1,1 0.2-1.2 0.1,0.8 0.1-0.7 0.5-4.1 0.6-1.1 0.9,4.7 0.6-0.8 0.9-4.1 1.4,4.4 1.2-5 1.2,5.6 1-4.7 0.5-0.5 1.1,6.3 1.1-6.8 1.3,8.8 1.3-9.2 1.3,10.7 1.5-10.3 1.1,11.5 1.3-10.2 1.2,10.6 1.3-9 1.3,8.9 1.3-7.1 1.1,7.6 0.4-0.4 0.9-6.4 0.6,1.6 0.5,5.7 0.4,0.5 1.1-7.7 1.5,10.3 1.2-10.6 1.2,13 1.2-11.9 1.3,12.9 1.3-11.6 1.3,12.7 1.1-10.5 0.4,0.8 0.9,10.2 1.3-8.6 1.3,10.1 1.3-6.6 1.4,8.9 1.1-7.5 1.3,10.7 1.3-8.6 1.3,13 1.3-10.7 1.3,14.1 1.1-11.9 1.5,14.7 0.7-8.5 0.6-2.6 1.1,12 0.3-0.7 1-8 1.2,10.9 1.3-7.7 1.3,9.5 1.1-5.7 0.6,1.3 0.9,6.4 1.3-5.6 0.9,6.6 0.6,1.2 1.1-5.3 1.3,7.7 0.7-4 0.5-1.1 1.1,6.5 1.3-3.4 0.4,0.3 0.7,3.9 1.7-1.8 0.9,2.5 0.9-0.9 0.2,0.5 0.6-0.5 0.2,0.5 0.1-0.6 0.2,0.6 0.8,0.3 0.1-0.7 0.4,0 0.2-0.5 0.2,0.3 0.2-0.5 0.3,0.5 0.2-0.4 0.2,0.8 0.2-0.5 0.2,0.5 1.6-2.6 1.1,1.7 1.3-4.8 1.3,3.7 1.1-7.2 0.6,1.3 0.7,4.8 1.5-10.3 0.9,8.9 0.4,0.5 1.1-12.5 1.3,10.8 1.3-12.7 1.2,9.7 1.3-11.8 1.3,8.8 1.1-10.9 1.5,8.6 1.1-11.4 0.4,0.8 0.9,8.9 1.5-13.5 1.1,12.8 1.3-15.9 1.2,14 1.3-16.8 1.3,15 1.1-15.4 0.4,0.2 0.9,12.4 1.5-13.4 1.1,10.3 1.3-10.8 1.3,9.4 1.1-10.6 0.3-0.6 1.2,10.4 1.2-13 1.3,12.9 1.3-15.6 1.3,15.9 1.3-17.2 1.3,16.6 1.1-17.8 1.3,16.1 1.3-15.6 1.3,13.9 1.2-13.3 1.3,11.5 1.1-10.7 0.2-0.5 0.2,0.3 1.1,10 1.1-10.9 0.4-0.1 1.1,11.8 1.3-14.2 1.3,15.2 1.1-16.2 1.4,17.3 1-16.4 0.3-1.6 1.1,17.5 1.3-16.4 1.3,15.5 1.3-14.2 1.3,12.7 1.3-11.5 1.1,11.3 0.2,0.4 0.2-1 1.1-9.7 1.3,11.3 1.1-11.7 0.3,0.9 1.1,12.9 1.1-14.5 0.4,1.5 0.6,10.5" fill="none" stroke="#ff1a1a" stroke-width="0.7" stroke-linejoin="round"/>
<clipPath id="cp13"><rect x="318.3" y="561.5" width="244.9" height="53.3"/></clipPath>
<path clip-path="url(#cp13)" d="M317.4,565.8l0.6,1.5 0.1-0.2 0.2,0.4 0.6-0.9 0.5,0.7 0.8,2.8 0.9,0.1 0.2-1 0.2,0.7 0.3-0.1 1.3,2.9 0.2-1 0.5,0.1 0.4-0.6 0.6,1.8 0.1-0.3 0.2,0.5 0.2-0.4 0.2,0.8 0.4,0 0.2-0.6 0.1,0.5 0.2-0.8 0.6,0.6 0.3-0.2 0.2,0.9 0.4-0.2 0.2,0.6 0.9-0.8 0.7,0.5 0.2-0.3 0.4,0.8 0.2-0.4 0.3,0.2 1.3-1.6 0.2,0.6 0.2-0.4 0.4,0.6 0.2-0.7 0.3,0.2 0.2-1.2 0.2,0.5 0.5-1.5 0.6-0.2 0.2,0.3 0.3-0.6 0.4,1.2 0.8-2.3 0.5-0.4 0.4,0.9 0.2-0.8 0.7,0.7 0.5-1.6 0.6,0 0.2-0.5 0.9,2.6 0.2-0.8 0.4,0.3 0.3-1.5 0.9,1.6 0.4-0.3 0.6,1.5 0.3-0.6 0.4,0.4 0.2-1.3 1.6,2.8 0.2-0.4 0.4,0.2 0.4-1.2 0.3,0.8 0.2-0.4 0.2,0.3 0.4,1.5 0.2-0.8 0.5,0.6 0.7-1.8 0.4-0.2 0.9,0.8 0.6-0.5 0.9-2.5 0.2,0.9 0.2-0.9 0.3,0.2 0.2,1.1 1.1-2.9 0.8-0.8 0.3-0.1 0.8,1.7 1.1-4.7 0.5,1 0.2-0.3 0.2,1.1 0.7,0.4 0.8-3.1 0.3-0.1 0.4,0.7 0.6,2.6 0.3,0.1 0.2-0.5 0.9-3.1 1.1,3.7 1-1 0.5-1.7 1.1,3.9 1.3-2.8 0.2,0.6 0.2-0.4 0.7,3.1 0.4-0.4 0.2,0.5 0.9-2.5 0.3,0.2 1.2,2.8 1.1-3.2 1.4,3.9 0.6-3 0.7-1.6 1.1,4.1 1.1-5.3 0.2,0.4 0.4-0.5 0.9,4.8 1.3-5.7 1,5.2 0.1-0.4 0.2,0.6 0.2-0.9 0.2,0.4 0.5-3.8 0,0.4 0.2-0.5 0.1,0.5 0.3-1 0.9,5.6 0.5-0.5 0.5-2.5 0.1,0.5 0.2-0.7 0.2,0.7 1.2,9.2 0.4,0.7 0-0.7 0.4,1.3 0.1-1.1 1.2,9.6 1.8-13.5 0.4-0.5 0.2,0.9 0-0.8 0.3,0.2 0.6-1 1-5.7 1.3,4.7 1.2-6 1.1,6 0.3,0.2 0.6-4.3 0.7-2.5 1.1,7.1 1.3-6.1 1.1,8.2 1.3-6.5 1.3,7.8 0.4-0.5 0.9-4.8 1.3,6.4 0.4-0.4 0.7-5.1 0.4,0.3 0.7,4.8 0.6,1.2 1.1-6.2 1.2,7.4 1.2-7.9 0.3-0.2 1.1,9.9 1.3-11.1 1.1,11.7 0.4-0.8 1.1-11.6 1.1,12.5 0.4-0.9 0.9-10.5 1.3,10.8 0.9-7.6 0.5-2 1.2,9.6 1.2-8.6 1.3,8.4 1.3-7 1.3,8.3 1.3-7.9 1.3,10.3 1.1-9.9 0.4,0.9 1.1,10.9 1.1-11.9 1.3,13.4 0.3-0.6 0.9-10.8 1.3,13.3 1.3-11 1.3,12.3 1.3-9.2 0.9,8.5 0.6,0.8 0.7-6 0.6-0.1 1.1,8.9 1.3-7 1.2,10.4 1.2-8.7 0.3,0.8 0.9,11 1.3-10.1 1.3,13.1 1.1-11.6 0.6,2.7 0.9,12.3 1.3-11.3 1.1,12.8 0.4-0.4 0.7-8.1 0.4-0.7 1.3,10.7 1.1-6.3 1.2,8 0.4-0.3 0.9-4.2 1,5.3 0.5,1.1 0.9-3.2 0.4-0.2 0.9,5.3 1.5-2.7 1.3,4.7 0.4-0.1 0.5-1.7 0.2,0.5 0.2-1.2 0.7,3.2 0.4-0.6 0.2,1.2 0.1-1 0.2,0.4 0.4-0.7 0.2,0.4 0.2-0.7 0.3,0.4 0.4-1 0.2,1.1 0.5,0.6 1.1-2.6 0.2,1 0.2-0.6 0.7,1.6 0.6-0.3 1.3-4 1.1,2.8 1.3-4.9 0.5,2.1 1,0.8 0.5-4.3 0.7-1.8 1,4.7 1.3-7.8 1.2,7.5 1.3-10.8 1.3,10.8 1.3-14.2 1.1,13.2 0.4-1.3 0.9-13.4 1.3,13.1 1.3-14.3 1.3,10.8 1.3-11.1 1.2,8.8 1.2-9.7 0.3-0.8 1.1,9.3 1.3-10.8 1.3,10.5 1.3-12.8 1.3,13 1.1-15.5 1.3,15.3 1.3-16.6 1.3,15.9 1.2-16.3 1.3,14 1.3-13.8 1.1,11.9 0.4-0.9 0.9-10.5 0.4,0.6 1.1,9 1.3-11 0.9,9.8 0.4,0.7 1.1-11.9 1.3,11.9 1.2-14.7 1.3,14.6 1.3-17.5 1.3,16.7 1.3-18.3 1.3,16.6 0.9-14.9 0.4-1.4 1.1,13.5 1.5-13.3 1.1,11.5 0.3-0.8 1-10.8 1.2,10.6 0.4-0.9 0.7-8.9 0.2-0.5 0.4,1 0.6,8.1 0.5,2.1 1.1-12.9 1.3,14.4 1.3-15.8 1.3,17.8 1.1-17.9 0.4,1.4 0.9,15.8 0.3-0.8 0.8-13.9 0.3-1.6 1.2,16 1.2-14.5 1.3,13.3 1.3-12 1.1,11.2 0.2,0.8 0.2-0.5 0.4-3" fill="none" stroke="#ff1a1a" stroke-width="0.7" stroke-linejoin="round"/>
<clipPath id="cp14"><rect x="318.3" y="614.8" width="244.9" height="53.3"/></clipPath>
<path clip-path="url(#cp14)" d="M317.4,633.7l0.2,0.4 0.2-0.4 0.9-4.6 0.7,1.5 0.4-0.3 1.1-6.8 0.2,0.3 0.2-0.8 0.3,0.5 0.2-0.3 0.2,1.4 0.4-0.7 0.3,0.4 1.1-4.3 0.2,0.8 0.2-0.7 0.7,1.1 0.4-0.6 0.2,0.3 0.7-0.6 1.7,4.8 0.5-0.4 0.8-2.1 1.1,3.1 1.3-7.2 1.1,4.7 0.2-1.2 0.2,0.8 0.3-1.3 0.4-0.3 0.2,0.4 0.3-0.8 0.4,0.4 0.9-2.9 0.4,0.1 0.9,3.4 1.1-2.2 0.4,0.8 0.4-0.3 0.1,0.3 0.2-0.6 0.9,1.5 1.2,3.2 0.7-4.6 0.5-0.4 0.4,2.9 0.2-0.4 0.4,0.5 1.1-2.3 0.5,1.2 1.1-0.6 0.8-2.7 0.3,0.7 0.4-0.4 0.7,3.4 0.2-0.9 0.2,0.7 0.9-2.6 0.4,1.3 0.2-0.6 0.7,0.9 0.4-1.2 0.4-0.4 0.1,0.5 0.4-0.6 0.2,0.7 0.5-0.2 0.8,0.8 1.3-2.5 1.1,3.7 1.4-0.3 0.4,1 0.6-0.9 0.9-4.3 0.7,1.8 0.6,3.6 0.2-0.3 0.1,0.6 1.3-4 0.8,3.3 0.3-0.4 0.2,0.3 0.8-3.6 0.5-0.3 0.6,2.6 0.9,1.8 0.5-0.9 0.8-3.6 0.2,0.7 0.1-0.7 0.2,1.5 0.6,0.5 0.7-1.8 0.7,2.5 0.6,0.1 1.3-3.5 0.2,0.4 0.5-0.1 1.1,3.3 0.2,0.3 0.2-0.7 0.2,1.4 0.7-4.4 1.1,3.7 0.8,0.2 0.9,2.4 1.1-0.7 0.5-2.1 0.2,0.6 0.2-0.2 1.1,6.4 1.3-4.5 1.1,5.3 1.5-6 1.3,5.8 1.3-8 1.4,7.8 0.8-3.3 0.2,0.3 0.3-0.6 1.1,2.7 1.3-6.4 1.1,6.3 0.4,0.3 1.1-5.4 0.4,0 0.3,0.7 0.8,2.9 0.9-4.5 1.3,3.2 1.4-3.6 1.3,6.1 1.3-7.7 1.1,6.7 1.5-10.1 1.1,9.5 1.5-9.5 1.1,8 1.3-7.4 1.1,7.2 0.2,0.4 0.3-0.7 0.8-4.8 0.3,0.3 1.1,6.9 1.3-6.6 1.3,9.5 1.1-8.6 1.3,12.1 1.5-10.4 1.1,12.6 0.4-0.8 0.7-9.9 0.4,0.3 0.7,10.4 0.6,2.2 1.1-11 1.2,11.3 1-8 0.3-0.8 1.1,9.5 0.4-0.6 1.1-7.2 1.3,9.5 0.9-8 0.4-0.2 1.1,9.2 1.1-7.9 0.2-0.4 0.2,0.2 1.1,11.2 1.1-10.2 0.3-0.1 1.2,12.2 1.2-11.9 1.3,14.2 1.3-11.9 1.3,13.4 0.9-9.9 0.4-0.6 1.1,11.1 0.4-0.4 0.9-7.4 1.3,10 1.3-7.6 1.1,8.4 0.2,1 0.3-0.6 0.9-7.1 1.3,11.2 1.3-9.4 1.3,13.2 1.1-10.2 1.3,11.6 1.5-8.3 1.1,9.5 0.4-0.2 0.9-6.2 1.3,8 1.3-4.2 1.1,5.1 0.3,0.2 0.4-1.2 0.2,0.4 0.3-0.6 1.2,3 0.5-0.5 0.4,0.4 0.2-0.7 0.1,0.4 0.6-0.2 0.4,0.9 0.1-0.5 0.4,0.6 0.2-0.7 0.4,0.8 0.3-0.6 0.4,0.1 0.2-0.9 0.9,0.6 0.2,0.6 0.4-0.3 0.9-2.9 0.2,0.6 0.1-0.3 0.4,0.4 0.6,2 1.4-5.5 1.1,4.7 1.3-8.3 1.3,6.3 0.9-7.2 0.6-1.7 0.7,6.1 0.6,0.1 1.1-8.4 1.3,7 1.3-9.5 1.3,7.3 1.1-10.6 0.3,0.7 1,8.1 1.4-12.6 1.1,11 1.5-14.9 1.1,13.7 1.3-17.1 1.3,14.5 1.3-15.8 1.3,13 1.3-13.9 1.1,11 1.2-12.1 0.4,0.4 0.8,7.9 0.3,0.4 1.3-10.5 1.3,9.2 1.1-11.8 0.4,0.7 0.9,10.5 1.3-14.2 1.3,14 1.3-16.9 1.1,16.1 0.3-0.7 1.1-16.3 1.3,16.5 1.3-15.9 1.3,14.6 1.1-12.9 0.4,1 0.9,11.5 1.1-10.1 0.4-0.2 1.3,11.5 1.1-10.6 1.3,12.6 1.1-11.2 0.3,0.1 1.1,14.7 1.3-15.1 1.3,17.1 1.3-17.3 1.1,18.1 1.3-17.9 1.3,16.3 1.3-15.4 1.3,12.6 1.2-13.2 1.2,10.6 0.1,0.3 0.2-0.3 1.1-11.3 1.3,10.1 1.3-12.7 1.1,12.1 0.4-1.1 1.1-14.2 1.3,14.3 1.1-17.3 1.1,14.8 0.4,1.1 1.1-19.2 1.2,16.5 1.1-17.4 0.2-0.7 0.2,0.2 1.1,14 0.8-9.7" fill="none" stroke="#ff1a1a" stroke-width="0.7" stroke-linejoin="round"/>
<line x1="72.3" y1="295" x2="563.2" y2="295" stroke="#222" stroke-width="1.2"/>
<line x1="72.3" y1="348.3" x2="563.2" y2="348.3" stroke="#222" stroke-width="1.2"/>
<line x1="72.3" y1="401.6" x2="563.2" y2="401.6" stroke="#222" stroke-width="1.2"/>
<line x1="72.3" y1="454.9" x2="563.2" y2="454.9" stroke="#222" stroke-width="1.2"/>
<line x1="72.3" y1="508.2" x2="563.2" y2="508.2" stroke="#222" stroke-width="1.2"/>
<line x1="72.3" y1="561.5" x2="563.2" y2="561.5" stroke="#222" stroke-width="1.2"/>
<line x1="72.3" y1="614.8" x2="563.2" y2="614.8" stroke="#222" stroke-width="1.2"/>
<line x1="72.3" y1="668.1" x2="563.2" y2="668.1" stroke="#222" stroke-width="1.2"/>
<line x1="72.3" y1="295.0" x2="72.3" y2="668.1" stroke="#222" stroke-width="1.2"/>
<line x1="563.2" y1="295.0" x2="563.2" y2="668.1" stroke="#222" stroke-width="1.2"/>
<line x1="317.9" y1="295.0" x2="317.9" y2="668.1" stroke="#777" stroke-width="3"/>
<line x1="314.1" y1="299.7" x2="320.18" y2="299.7" stroke="#222" stroke-width="1.2"/>
<line x1="316.3" y1="311.85" x2="318.86" y2="311.85" stroke="#222" stroke-width="1.2"/>
<line x1="314.1" y1="324" x2="320.18" y2="324" stroke="#222" stroke-width="1.2"/>
<line x1="316.3" y1="336.15" x2="318.86" y2="336.15" stroke="#222" stroke-width="1.2"/>
<line x1="314.1" y1="353" x2="320.18" y2="353" stroke="#222" stroke-width="1.2"/>
<line x1="316.3" y1="365.15" x2="318.86" y2="365.15" stroke="#222" stroke-width="1.2"/>
<line x1="314.1" y1="377.3" x2="320.18" y2="377.3" stroke="#222" stroke-width="1.2"/>
<line x1="316.3" y1="389.45" x2="318.86" y2="389.45" stroke="#222" stroke-width="1.2"/>
<line x1="314.1" y1="406.3" x2="320.18" y2="406.3" stroke="#222" stroke-width="1.2"/>
<line x1="316.3" y1="418.45" x2="318.86" y2="418.45" stroke="#222" stroke-width="1.2"/>
<line x1="314.1" y1="430.6" x2="320.18" y2="430.6" stroke="#222" stroke-width="1.2"/>
<line x1="316.3" y1="442.75" x2="318.86" y2="442.75" stroke="#222" stroke-width="1.2"/>
<line x1="314.1" y1="459.6" x2="320.18" y2="459.6" stroke="#222" stroke-width="1.2"/>
<line x1="316.3" y1="471.75" x2="318.86" y2="471.75" stroke="#222" stroke-width="1.2"/>
<line x1="314.1" y1="483.9" x2="320.18" y2="483.9" stroke="#222" stroke-width="1.2"/>
<line x1="316.3" y1="496.05" x2="318.86" y2="496.05" stroke="#222" stroke-width="1.2"/>
<line x1="314.1" y1="512.9" x2="320.18" y2="512.9" stroke="#222" stroke-width="1.2"/>
<line x1="316.3" y1="525.05" x2="318.86" y2="525.05" stroke="#222" stroke-width="1.2"/>
<line x1="314.1" y1="537.2" x2="320.18" y2="537.2" stroke="#222" stroke-width="1.2"/>
<line x1="316.3" y1="549.35" x2="318.86" y2="549.35" stroke="#222" stroke-width="1.2"/>
<line x1="314.1" y1="566.2" x2="320.18" y2="566.2" stroke="#222" stroke-width="1.2"/>
<line x1="316.3" y1="578.35" x2="318.86" y2="578.35" stroke="#222" stroke-width="1.2"/>
<line x1="314.1" y1="590.5" x2="320.18" y2="590.5" stroke="#222" stroke-width="1.2"/>
<line x1="316.3" y1="602.65" x2="318.86" y2="602.65" stroke="#222" stroke-width="1.2"/>
<line x1="314.1" y1="619.5" x2="320.18" y2="619.5" stroke="#222" stroke-width="1.2"/>
<line x1="316.3" y1="631.65" x2="318.86" y2="631.65" stroke="#222" stroke-width="1.2"/>
<line x1="314.1" y1="643.8" x2="320.18" y2="643.8" stroke="#222" stroke-width="1.2"/>
<line x1="316.3" y1="655.95" x2="318.86" y2="655.95" stroke="#222" stroke-width="1.2"/>
<text x="100.5" y="441" font-size="18">&#955;<tspan font-size="12.5" dy="3.5">RA</tspan></text>
<circle cx="130.4" cy="620.5" r="3.3" fill="none" stroke="#9933ff" stroke-width="2.6"/>
<text x="121.8" y="654" font-size="19" fill="#9933ff" text-anchor="start" >TD-BIC</text>
<text x="40.5" y="310.8" font-size="23.2" fill="#000" text-anchor="start" >(c)</text>
<text x="200.1" y="288.8" font-size="18.5" fill="#000" text-anchor="middle" >Simulation</text>
<text x="443.6" y="288.8" font-size="18.5" fill="#000" text-anchor="middle" >Experiment</text>
<text x="66.9" y="625.6" font-size="19.7" fill="#000" text-anchor="end" >1.0</text>
<text x="66.9" y="649.7" font-size="19.7" fill="#000" text-anchor="end" >0.5</text>
<text transform="translate(27.8,624.4) rotate(-90)" font-size="20" font-style="italic" text-anchor="middle">T</text>
<text x="73" y="688.5" font-size="19.8" fill="#000" text-anchor="middle" >1500</text>
<text x="134.6" y="688.5" font-size="19.8" fill="#000" text-anchor="middle" >1520</text>
<text x="196.2" y="688.5" font-size="19.8" fill="#000" text-anchor="middle" >1540</text>
<text x="257.8" y="688.5" font-size="19.8" fill="#000" text-anchor="middle" >1560</text>
<text x="348.5" y="688.5" font-size="19.8" fill="#000" text-anchor="middle" >1500</text>
<text x="409.9" y="688.5" font-size="19.8" fill="#000" text-anchor="middle" >1520</text>
<text x="471.4" y="688.5" font-size="19.8" fill="#000" text-anchor="middle" >1540</text>
<text x="533" y="688.5" font-size="19.8" fill="#000" text-anchor="middle" >1560</text>
<text x="195.5" y="710.2" font-size="20.6" fill="#000" text-anchor="middle" >Wavelength (nm)</text>
<text x="440.8" y="711.2" font-size="20.6" fill="#000" text-anchor="middle" >Wavelength (nm)</text>
<path d="M670.4,295.8 L700.6,295.8 L689.1,667.99 L661,667.99 Z" fill="#e8d8fc"/>
<path d="M926.7,295.8 L956.8,295.8 L944,667.99 L916.7,667.99 Z" fill="#e8d8fc"/>
<clipPath id="cp15"><rect x="639.3" y="295.8" width="246.4" height="53.17"/></clipPath>
<path clip-path="url(#cp15)" d="M639.3,305.4l12.6-0.9 7.7-0.9 2.2-0.6 1.4-0.5 0.5-0.5 0.3-1.2 8.3,0.2 5.2,0.5 3.6,0.9 2.2,1.3 1.3,1.5 1.1,2.1 0.8,2.8 0.7,3.8 0.9,8.6 1.3,22.3 0.5,4.2 0.2-2.4 0.8-22.3 0.5-10.1 0.8-6.5 0.5-2 0.7-1.6 1-1.3 1.3-0.7 1.9-0.5 3-0.3 4.6,0 4.4,0.4 3.6,0.6 2.7,0.9 2.5,1.3 2.5,2 2.2,2.4 2.2,3.2 1.9,3.4 2.2,4.7 7.1,17.9 2.5,5.4 1.4,2.4 1.4,1.8 1.3,1 1.1,0.3 0.6-0.1 0.8-0.5 1.7-2 7.9-15.4 3-4.5 3.1-3.6 3.8-3.4 4.1-2.8 4.7-2.3 5.5-2.1 6.9-1.8 8.2-1.6 9.6-1.4 11.6-1.1 13.4-1 16-0.7 41.2-1.3" fill="none" stroke="#33669a" stroke-width="2.9" stroke-linejoin="round"/>
<line x1="664" y1="295.8" x2="664" y2="348.97" stroke="#000" stroke-width="2.2" stroke-dasharray="5.8,4.65" stroke-dashoffset="4.1"/>
<line x1="670.17" y1="295.8" x2="670.17" y2="298" stroke="#333" stroke-width="1.2"/>
<line x1="670.17" y1="348.97" x2="670.17" y2="346.77" stroke="#333" stroke-width="1.2"/>
<line x1="701.04" y1="295.8" x2="701.04" y2="299.8" stroke="#333" stroke-width="1.2"/>
<line x1="701.04" y1="348.97" x2="701.04" y2="344.97" stroke="#333" stroke-width="1.2"/>
<line x1="731.91" y1="295.8" x2="731.91" y2="298" stroke="#333" stroke-width="1.2"/>
<line x1="731.91" y1="348.97" x2="731.91" y2="346.77" stroke="#333" stroke-width="1.2"/>
<line x1="762.78" y1="295.8" x2="762.78" y2="299.8" stroke="#333" stroke-width="1.2"/>
<line x1="762.78" y1="348.97" x2="762.78" y2="344.97" stroke="#333" stroke-width="1.2"/>
<line x1="793.65" y1="295.8" x2="793.65" y2="298" stroke="#333" stroke-width="1.2"/>
<line x1="793.65" y1="348.97" x2="793.65" y2="346.77" stroke="#333" stroke-width="1.2"/>
<line x1="824.52" y1="295.8" x2="824.52" y2="299.8" stroke="#333" stroke-width="1.2"/>
<line x1="824.52" y1="348.97" x2="824.52" y2="344.97" stroke="#333" stroke-width="1.2"/>
<line x1="855.39" y1="295.8" x2="855.39" y2="298" stroke="#333" stroke-width="1.2"/>
<line x1="855.39" y1="348.97" x2="855.39" y2="346.77" stroke="#333" stroke-width="1.2"/>
<line x1="639.3" y1="300.37" x2="644" y2="300.37" stroke="#222" stroke-width="1.2"/>
<line x1="639.3" y1="312.52" x2="642" y2="312.52" stroke="#222" stroke-width="1.2"/>
<line x1="639.3" y1="324.67" x2="644" y2="324.67" stroke="#222" stroke-width="1.2"/>
<line x1="639.3" y1="336.82" x2="642" y2="336.82" stroke="#222" stroke-width="1.2"/>
<line x1="916.72" y1="295.8" x2="916.72" y2="299.8" stroke="#333" stroke-width="1.2"/>
<line x1="916.72" y1="348.97" x2="916.72" y2="344.97" stroke="#333" stroke-width="1.2"/>
<line x1="947.54" y1="295.8" x2="947.54" y2="298" stroke="#333" stroke-width="1.2"/>
<line x1="947.54" y1="348.97" x2="947.54" y2="346.77" stroke="#333" stroke-width="1.2"/>
<line x1="978.36" y1="295.8" x2="978.36" y2="299.8" stroke="#333" stroke-width="1.2"/>
<line x1="978.36" y1="348.97" x2="978.36" y2="344.97" stroke="#333" stroke-width="1.2"/>
<line x1="1009.18" y1="295.8" x2="1009.18" y2="298" stroke="#333" stroke-width="1.2"/>
<line x1="1009.18" y1="348.97" x2="1009.18" y2="346.77" stroke="#333" stroke-width="1.2"/>
<line x1="1040" y1="295.8" x2="1040" y2="299.8" stroke="#333" stroke-width="1.2"/>
<line x1="1040" y1="348.97" x2="1040" y2="344.97" stroke="#333" stroke-width="1.2"/>
<line x1="1070.82" y1="295.8" x2="1070.82" y2="298" stroke="#333" stroke-width="1.2"/>
<line x1="1070.82" y1="348.97" x2="1070.82" y2="346.77" stroke="#333" stroke-width="1.2"/>
<line x1="1101.64" y1="295.8" x2="1101.64" y2="299.8" stroke="#333" stroke-width="1.2"/>
<line x1="1101.64" y1="348.97" x2="1101.64" y2="344.97" stroke="#333" stroke-width="1.2"/>
<line x1="1132.5" y1="300.37" x2="1127.8" y2="300.37" stroke="#222" stroke-width="1.2"/>
<line x1="1132.5" y1="312.52" x2="1129.8" y2="312.52" stroke="#222" stroke-width="1.2"/>
<line x1="1132.5" y1="324.67" x2="1127.8" y2="324.67" stroke="#222" stroke-width="1.2"/>
<line x1="1132.5" y1="336.82" x2="1129.8" y2="336.82" stroke="#222" stroke-width="1.2"/>
<text x="877.8" y="335.87" font-size="18.5" fill="#000" text-anchor="end" >&#916;<tspan font-style="italic">y</tspan>=260</text>
<clipPath id="cp16"><rect x="639.3" y="348.97" width="246.4" height="53.17"/></clipPath>
<path clip-path="url(#cp16)" d="M639.3,357.4l12.6-0.7 7.7-0.8 2.2-0.4 1.4-0.5 0.5-0.4 0.3-1 5.8,0.2 3.3,0.3 2,0.5 1.3,0.9 0.7,1.1 0.6,1.8 0.8,6.1 0.4,9.6 0.9,28 0.9-22.8 0.8-9.3 0.5-3.9 0.7-2.7 1-2.3 1.1-1.7 1.8-1.5 2.4-1.1 3.3-0.8 4.1-0.6 8-0.6 9.1-0.1 4.5,0.2 2.6,0.7 1.3,1 0.9,1.7 0.7,2.5 0.5,3.4 0.7,9.5 0.8,24.8 0.3,3.6 0.3-2.4 1.5-20.6 0.8-5.5 1-4.3 1.5-3.4 1.9-2.5 2.6-1.9 3.6-1.3 5-1.1 6.8-0.8 9.4-0.5 12.9-0.5 40.6-0.6 72.6-0.3" fill="none" stroke="#33669a" stroke-width="2.9" stroke-linejoin="round"/>
<line x1="664" y1="348.97" x2="664" y2="402.14" stroke="#000" stroke-width="2.2" stroke-dasharray="5.8,4.65" stroke-dashoffset="4.1"/>
<line x1="670.17" y1="348.97" x2="670.17" y2="351.17" stroke="#333" stroke-width="1.2"/>
<line x1="670.17" y1="402.14" x2="670.17" y2="399.94" stroke="#333" stroke-width="1.2"/>
<line x1="701.04" y1="348.97" x2="701.04" y2="352.97" stroke="#333" stroke-width="1.2"/>
<line x1="701.04" y1="402.14" x2="701.04" y2="398.14" stroke="#333" stroke-width="1.2"/>
<line x1="731.91" y1="348.97" x2="731.91" y2="351.17" stroke="#333" stroke-width="1.2"/>
<line x1="731.91" y1="402.14" x2="731.91" y2="399.94" stroke="#333" stroke-width="1.2"/>
<line x1="762.78" y1="348.97" x2="762.78" y2="352.97" stroke="#333" stroke-width="1.2"/>
<line x1="762.78" y1="402.14" x2="762.78" y2="398.14" stroke="#333" stroke-width="1.2"/>
<line x1="793.65" y1="348.97" x2="793.65" y2="351.17" stroke="#333" stroke-width="1.2"/>
<line x1="793.65" y1="402.14" x2="793.65" y2="399.94" stroke="#333" stroke-width="1.2"/>
<line x1="824.52" y1="348.97" x2="824.52" y2="352.97" stroke="#333" stroke-width="1.2"/>
<line x1="824.52" y1="402.14" x2="824.52" y2="398.14" stroke="#333" stroke-width="1.2"/>
<line x1="855.39" y1="348.97" x2="855.39" y2="351.17" stroke="#333" stroke-width="1.2"/>
<line x1="855.39" y1="402.14" x2="855.39" y2="399.94" stroke="#333" stroke-width="1.2"/>
<line x1="639.3" y1="353.54" x2="644" y2="353.54" stroke="#222" stroke-width="1.2"/>
<line x1="639.3" y1="365.69" x2="642" y2="365.69" stroke="#222" stroke-width="1.2"/>
<line x1="639.3" y1="377.84" x2="644" y2="377.84" stroke="#222" stroke-width="1.2"/>
<line x1="639.3" y1="389.99" x2="642" y2="389.99" stroke="#222" stroke-width="1.2"/>
<line x1="916.72" y1="348.97" x2="916.72" y2="352.97" stroke="#333" stroke-width="1.2"/>
<line x1="916.72" y1="402.14" x2="916.72" y2="398.14" stroke="#333" stroke-width="1.2"/>
<line x1="947.54" y1="348.97" x2="947.54" y2="351.17" stroke="#333" stroke-width="1.2"/>
<line x1="947.54" y1="402.14" x2="947.54" y2="399.94" stroke="#333" stroke-width="1.2"/>
<line x1="978.36" y1="348.97" x2="978.36" y2="352.97" stroke="#333" stroke-width="1.2"/>
<line x1="978.36" y1="402.14" x2="978.36" y2="398.14" stroke="#333" stroke-width="1.2"/>
<line x1="1009.18" y1="348.97" x2="1009.18" y2="351.17" stroke="#333" stroke-width="1.2"/>
<line x1="1009.18" y1="402.14" x2="1009.18" y2="399.94" stroke="#333" stroke-width="1.2"/>
<line x1="1040" y1="348.97" x2="1040" y2="352.97" stroke="#333" stroke-width="1.2"/>
<line x1="1040" y1="402.14" x2="1040" y2="398.14" stroke="#333" stroke-width="1.2"/>
<line x1="1070.82" y1="348.97" x2="1070.82" y2="351.17" stroke="#333" stroke-width="1.2"/>
<line x1="1070.82" y1="402.14" x2="1070.82" y2="399.94" stroke="#333" stroke-width="1.2"/>
<line x1="1101.64" y1="348.97" x2="1101.64" y2="352.97" stroke="#333" stroke-width="1.2"/>
<line x1="1101.64" y1="402.14" x2="1101.64" y2="398.14" stroke="#333" stroke-width="1.2"/>
<line x1="1132.5" y1="353.54" x2="1127.8" y2="353.54" stroke="#222" stroke-width="1.2"/>
<line x1="1132.5" y1="365.69" x2="1129.8" y2="365.69" stroke="#222" stroke-width="1.2"/>
<line x1="1132.5" y1="377.84" x2="1127.8" y2="377.84" stroke="#222" stroke-width="1.2"/>
<line x1="1132.5" y1="389.99" x2="1129.8" y2="389.99" stroke="#222" stroke-width="1.2"/>
<text x="877.8" y="395.34" font-size="18.5" fill="#000" text-anchor="end" >&#916;<tspan font-style="italic">y</tspan>=370</text>
<clipPath id="cp17"><rect x="639.3" y="402.14" width="246.4" height="53.17"/></clipPath>
<path clip-path="url(#cp17)" d="M639.3,410.6l12.6-0.7 7.7-0.8 2.2-0.4 1.4-0.5 0.5-0.4 0.3-1 5,0.2 2.9,0.2 1.8,0.5 1.1,0.9 0.7,1.2 0.6,1.9 0.6,6 0.5,9.8 0.7,27.8 0.9-23.2 0.7-9.5 0.5-3.7 0.7-2.7 0.9-2.2 1.1-1.7 1.7-1.5 2.4-1.1 3-0.7 4.2-0.6 7.9-0.5 9.6-0.2 4.8,0.3 2.5,0.7 1.2,1 0.9,1.5 0.6,2.3 0.5,3.6 0.6,9.8 1,28.4 0.3-2.4 1.4-21.1 0.8-5.5 0.9-4.1 1.4-3.4 1.8-2.5 2.5-1.8 3.6-1.4 4.9-1 6.9-0.7 9.3-0.6 12.7-0.4 41.2-0.5 75-0.4" fill="none" stroke="#33669a" stroke-width="2.9" stroke-linejoin="round"/>
<line x1="664" y1="402.14" x2="664" y2="455.31" stroke="#000" stroke-width="2.2" stroke-dasharray="5.8,4.65" stroke-dashoffset="4.1"/>
<line x1="670.17" y1="402.14" x2="670.17" y2="404.34" stroke="#333" stroke-width="1.2"/>
<line x1="670.17" y1="455.31" x2="670.17" y2="453.11" stroke="#333" stroke-width="1.2"/>
<line x1="701.04" y1="402.14" x2="701.04" y2="406.14" stroke="#333" stroke-width="1.2"/>
<line x1="701.04" y1="455.31" x2="701.04" y2="451.31" stroke="#333" stroke-width="1.2"/>
<line x1="731.91" y1="402.14" x2="731.91" y2="404.34" stroke="#333" stroke-width="1.2"/>
<line x1="731.91" y1="455.31" x2="731.91" y2="453.11" stroke="#333" stroke-width="1.2"/>
<line x1="762.78" y1="402.14" x2="762.78" y2="406.14" stroke="#333" stroke-width="1.2"/>
<line x1="762.78" y1="455.31" x2="762.78" y2="451.31" stroke="#333" stroke-width="1.2"/>
<line x1="793.65" y1="402.14" x2="793.65" y2="404.34" stroke="#333" stroke-width="1.2"/>
<line x1="793.65" y1="455.31" x2="793.65" y2="453.11" stroke="#333" stroke-width="1.2"/>
<line x1="824.52" y1="402.14" x2="824.52" y2="406.14" stroke="#333" stroke-width="1.2"/>
<line x1="824.52" y1="455.31" x2="824.52" y2="451.31" stroke="#333" stroke-width="1.2"/>
<line x1="855.39" y1="402.14" x2="855.39" y2="404.34" stroke="#333" stroke-width="1.2"/>
<line x1="855.39" y1="455.31" x2="855.39" y2="453.11" stroke="#333" stroke-width="1.2"/>
<line x1="639.3" y1="406.71" x2="644" y2="406.71" stroke="#222" stroke-width="1.2"/>
<line x1="639.3" y1="418.86" x2="642" y2="418.86" stroke="#222" stroke-width="1.2"/>
<line x1="639.3" y1="431.01" x2="644" y2="431.01" stroke="#222" stroke-width="1.2"/>
<line x1="639.3" y1="443.16" x2="642" y2="443.16" stroke="#222" stroke-width="1.2"/>
<line x1="916.72" y1="402.14" x2="916.72" y2="406.14" stroke="#333" stroke-width="1.2"/>
<line x1="916.72" y1="455.31" x2="916.72" y2="451.31" stroke="#333" stroke-width="1.2"/>
<line x1="947.54" y1="402.14" x2="947.54" y2="404.34" stroke="#333" stroke-width="1.2"/>
<line x1="947.54" y1="455.31" x2="947.54" y2="453.11" stroke="#333" stroke-width="1.2"/>
<line x1="978.36" y1="402.14" x2="978.36" y2="406.14" stroke="#333" stroke-width="1.2"/>
<line x1="978.36" y1="455.31" x2="978.36" y2="451.31" stroke="#333" stroke-width="1.2"/>
<line x1="1009.18" y1="402.14" x2="1009.18" y2="404.34" stroke="#333" stroke-width="1.2"/>
<line x1="1009.18" y1="455.31" x2="1009.18" y2="453.11" stroke="#333" stroke-width="1.2"/>
<line x1="1040" y1="402.14" x2="1040" y2="406.14" stroke="#333" stroke-width="1.2"/>
<line x1="1040" y1="455.31" x2="1040" y2="451.31" stroke="#333" stroke-width="1.2"/>
<line x1="1070.82" y1="402.14" x2="1070.82" y2="404.34" stroke="#333" stroke-width="1.2"/>
<line x1="1070.82" y1="455.31" x2="1070.82" y2="453.11" stroke="#333" stroke-width="1.2"/>
<line x1="1101.64" y1="402.14" x2="1101.64" y2="406.14" stroke="#333" stroke-width="1.2"/>
<line x1="1101.64" y1="455.31" x2="1101.64" y2="451.31" stroke="#333" stroke-width="1.2"/>
<line x1="1132.5" y1="406.71" x2="1127.8" y2="406.71" stroke="#222" stroke-width="1.2"/>
<line x1="1132.5" y1="418.86" x2="1129.8" y2="418.86" stroke="#222" stroke-width="1.2"/>
<line x1="1132.5" y1="431.01" x2="1127.8" y2="431.01" stroke="#222" stroke-width="1.2"/>
<line x1="1132.5" y1="443.16" x2="1129.8" y2="443.16" stroke="#222" stroke-width="1.2"/>
<text x="877.8" y="444.71" font-size="18.5" fill="#000" text-anchor="end" >&#916;<tspan font-style="italic">y</tspan>=395</text>
<clipPath id="cp18"><rect x="639.3" y="455.31" width="246.4" height="53.17"/></clipPath>
<path clip-path="url(#cp18)" d="M639.3,463.3l12.6-0.6 7.7-0.6 3.6-0.8 0.5-0.3 0.3-0.8 7.8,0.4 1.8,0.4 1.1,0.9 0.7,1.2 0.5,1.8 0.7,6.2 1,37.3 0.7-23 0.7-10.2 0.5-3.7 0.6-2.7 0.8-2 1.1-1.6 1.7-1.4 2.3-1 3-0.7 4.1-0.5 8.6-0.5 10.1-0.2 4.6,0.3 2.5,0.7 1.1,0.9 0.8,1.5 0.6,2.3 0.5,3.5 0.5,10.2 0.9,28.2 0.3-2.7 1.3-20.6 0.7-5.8 1-4.1 1.3-3.3 1.9-2.5 1.2-0.9 1.4-0.9 3.3-1.2 5-1 6.6-0.7 9.3-0.5 12.6-0.4 41.2-0.5 75.9-0.3" fill="none" stroke="#33669a" stroke-width="2.9" stroke-linejoin="round"/>
<line x1="664" y1="455.31" x2="664" y2="508.48" stroke="#000" stroke-width="2.2" stroke-dasharray="5.8,4.65" stroke-dashoffset="4.1"/>
<line x1="670.17" y1="455.31" x2="670.17" y2="457.51" stroke="#333" stroke-width="1.2"/>
<line x1="670.17" y1="508.48" x2="670.17" y2="506.28" stroke="#333" stroke-width="1.2"/>
<line x1="701.04" y1="455.31" x2="701.04" y2="459.31" stroke="#333" stroke-width="1.2"/>
<line x1="701.04" y1="508.48" x2="701.04" y2="504.48" stroke="#333" stroke-width="1.2"/>
<line x1="731.91" y1="455.31" x2="731.91" y2="457.51" stroke="#333" stroke-width="1.2"/>
<line x1="731.91" y1="508.48" x2="731.91" y2="506.28" stroke="#333" stroke-width="1.2"/>
<line x1="762.78" y1="455.31" x2="762.78" y2="459.31" stroke="#333" stroke-width="1.2"/>
<line x1="762.78" y1="508.48" x2="762.78" y2="504.48" stroke="#333" stroke-width="1.2"/>
<line x1="793.65" y1="455.31" x2="793.65" y2="457.51" stroke="#333" stroke-width="1.2"/>
<line x1="793.65" y1="508.48" x2="793.65" y2="506.28" stroke="#333" stroke-width="1.2"/>
<line x1="824.52" y1="455.31" x2="824.52" y2="459.31" stroke="#333" stroke-width="1.2"/>
<line x1="824.52" y1="508.48" x2="824.52" y2="504.48" stroke="#333" stroke-width="1.2"/>
<line x1="855.39" y1="455.31" x2="855.39" y2="457.51" stroke="#333" stroke-width="1.2"/>
<line x1="855.39" y1="508.48" x2="855.39" y2="506.28" stroke="#333" stroke-width="1.2"/>
<line x1="639.3" y1="459.88" x2="644" y2="459.88" stroke="#222" stroke-width="1.2"/>
<line x1="639.3" y1="472.03" x2="642" y2="472.03" stroke="#222" stroke-width="1.2"/>
<line x1="639.3" y1="484.18" x2="644" y2="484.18" stroke="#222" stroke-width="1.2"/>
<line x1="639.3" y1="496.33" x2="642" y2="496.33" stroke="#222" stroke-width="1.2"/>
<line x1="916.72" y1="455.31" x2="916.72" y2="459.31" stroke="#333" stroke-width="1.2"/>
<line x1="916.72" y1="508.48" x2="916.72" y2="504.48" stroke="#333" stroke-width="1.2"/>
<line x1="947.54" y1="455.31" x2="947.54" y2="457.51" stroke="#333" stroke-width="1.2"/>
<line x1="947.54" y1="508.48" x2="947.54" y2="506.28" stroke="#333" stroke-width="1.2"/>
<line x1="978.36" y1="455.31" x2="978.36" y2="459.31" stroke="#333" stroke-width="1.2"/>
<line x1="978.36" y1="508.48" x2="978.36" y2="504.48" stroke="#333" stroke-width="1.2"/>
<line x1="1009.18" y1="455.31" x2="1009.18" y2="457.51" stroke="#333" stroke-width="1.2"/>
<line x1="1009.18" y1="508.48" x2="1009.18" y2="506.28" stroke="#333" stroke-width="1.2"/>
<line x1="1040" y1="455.31" x2="1040" y2="459.31" stroke="#333" stroke-width="1.2"/>
<line x1="1040" y1="508.48" x2="1040" y2="504.48" stroke="#333" stroke-width="1.2"/>
<line x1="1070.82" y1="455.31" x2="1070.82" y2="457.51" stroke="#333" stroke-width="1.2"/>
<line x1="1070.82" y1="508.48" x2="1070.82" y2="506.28" stroke="#333" stroke-width="1.2"/>
<line x1="1101.64" y1="455.31" x2="1101.64" y2="459.31" stroke="#333" stroke-width="1.2"/>
<line x1="1101.64" y1="508.48" x2="1101.64" y2="504.48" stroke="#333" stroke-width="1.2"/>
<line x1="1132.5" y1="459.88" x2="1127.8" y2="459.88" stroke="#222" stroke-width="1.2"/>
<line x1="1132.5" y1="472.03" x2="1129.8" y2="472.03" stroke="#222" stroke-width="1.2"/>
<line x1="1132.5" y1="484.18" x2="1127.8" y2="484.18" stroke="#222" stroke-width="1.2"/>
<line x1="1132.5" y1="496.33" x2="1129.8" y2="496.33" stroke="#222" stroke-width="1.2"/>
<text x="877.8" y="498.28" font-size="18.5" fill="#000" text-anchor="end" >&#916;<tspan font-style="italic">y</tspan>=420</text>
<clipPath id="cp19"><rect x="639.3" y="508.48" width="246.4" height="53.17"/></clipPath>
<path clip-path="url(#cp19)" d="M639.3,515.5l28.8-0.2 3.6,0.3 1,0.4 0.6,0.5 0.5,0.8 0.4,1.4 0.5,5.1 0.7,31.7 0.5-20.7 0.4-8.5 0.3-3 0.5-2.3 0.7-1.6 0.9-1.1 1.5-1 2-0.6 3-0.4 4.4-0.3 9.9-0.3 12-0.1 4.3,0.2 2.1,0.5 0.9,0.8 0.6,1.3 0.4,2 0.3,2.9 0.4,8.4 0.6,27.2 1.2-23.3 0.5-5.5 0.8-4.1 1-3.1 1.6-2.2 2.1-1.6 3-1.1 4.4-0.8 6.1-0.5 21.1-0.7 42-0.4 81.4-0.2" fill="none" stroke="#33669a" stroke-width="2.9" stroke-linejoin="round"/>
<line x1="664" y1="508.48" x2="664" y2="561.65" stroke="#000" stroke-width="2.2" stroke-dasharray="5.8,4.65" stroke-dashoffset="4.1"/>
<line x1="670.17" y1="508.48" x2="670.17" y2="510.68" stroke="#333" stroke-width="1.2"/>
<line x1="670.17" y1="561.65" x2="670.17" y2="559.45" stroke="#333" stroke-width="1.2"/>
<line x1="701.04" y1="508.48" x2="701.04" y2="512.48" stroke="#333" stroke-width="1.2"/>
<line x1="701.04" y1="561.65" x2="701.04" y2="557.65" stroke="#333" stroke-width="1.2"/>
<line x1="731.91" y1="508.48" x2="731.91" y2="510.68" stroke="#333" stroke-width="1.2"/>
<line x1="731.91" y1="561.65" x2="731.91" y2="559.45" stroke="#333" stroke-width="1.2"/>
<line x1="762.78" y1="508.48" x2="762.78" y2="512.48" stroke="#333" stroke-width="1.2"/>
<line x1="762.78" y1="561.65" x2="762.78" y2="557.65" stroke="#333" stroke-width="1.2"/>
<line x1="793.65" y1="508.48" x2="793.65" y2="510.68" stroke="#333" stroke-width="1.2"/>
<line x1="793.65" y1="561.65" x2="793.65" y2="559.45" stroke="#333" stroke-width="1.2"/>
<line x1="824.52" y1="508.48" x2="824.52" y2="512.48" stroke="#333" stroke-width="1.2"/>
<line x1="824.52" y1="561.65" x2="824.52" y2="557.65" stroke="#333" stroke-width="1.2"/>
<line x1="855.39" y1="508.48" x2="855.39" y2="510.68" stroke="#333" stroke-width="1.2"/>
<line x1="855.39" y1="561.65" x2="855.39" y2="559.45" stroke="#333" stroke-width="1.2"/>
<line x1="639.3" y1="513.05" x2="644" y2="513.05" stroke="#222" stroke-width="1.2"/>
<line x1="639.3" y1="525.2" x2="642" y2="525.2" stroke="#222" stroke-width="1.2"/>
<line x1="639.3" y1="537.35" x2="644" y2="537.35" stroke="#222" stroke-width="1.2"/>
<line x1="639.3" y1="549.5" x2="642" y2="549.5" stroke="#222" stroke-width="1.2"/>
<line x1="916.72" y1="508.48" x2="916.72" y2="512.48" stroke="#333" stroke-width="1.2"/>
<line x1="916.72" y1="561.65" x2="916.72" y2="557.65" stroke="#333" stroke-width="1.2"/>
<line x1="947.54" y1="508.48" x2="947.54" y2="510.68" stroke="#333" stroke-width="1.2"/>
<line x1="947.54" y1="561.65" x2="947.54" y2="559.45" stroke="#333" stroke-width="1.2"/>
<line x1="978.36" y1="508.48" x2="978.36" y2="512.48" stroke="#333" stroke-width="1.2"/>
<line x1="978.36" y1="561.65" x2="978.36" y2="557.65" stroke="#333" stroke-width="1.2"/>
<line x1="1009.18" y1="508.48" x2="1009.18" y2="510.68" stroke="#333" stroke-width="1.2"/>
<line x1="1009.18" y1="561.65" x2="1009.18" y2="559.45" stroke="#333" stroke-width="1.2"/>
<line x1="1040" y1="508.48" x2="1040" y2="512.48" stroke="#333" stroke-width="1.2"/>
<line x1="1040" y1="561.65" x2="1040" y2="557.65" stroke="#333" stroke-width="1.2"/>
<line x1="1070.82" y1="508.48" x2="1070.82" y2="510.68" stroke="#333" stroke-width="1.2"/>
<line x1="1070.82" y1="561.65" x2="1070.82" y2="559.45" stroke="#333" stroke-width="1.2"/>
<line x1="1101.64" y1="508.48" x2="1101.64" y2="512.48" stroke="#333" stroke-width="1.2"/>
<line x1="1101.64" y1="561.65" x2="1101.64" y2="557.65" stroke="#333" stroke-width="1.2"/>
<line x1="1132.5" y1="513.05" x2="1127.8" y2="513.05" stroke="#222" stroke-width="1.2"/>
<line x1="1132.5" y1="525.2" x2="1129.8" y2="525.2" stroke="#222" stroke-width="1.2"/>
<line x1="1132.5" y1="537.35" x2="1127.8" y2="537.35" stroke="#222" stroke-width="1.2"/>
<line x1="1132.5" y1="549.5" x2="1129.8" y2="549.5" stroke="#222" stroke-width="1.2"/>
<text x="877.8" y="552.35" font-size="18.5" fill="#000" text-anchor="end" >&#916;<tspan font-style="italic">y</tspan>=445</text>
<clipPath id="cp20"><rect x="639.3" y="561.65" width="246.4" height="53.17"/></clipPath>
<path clip-path="url(#cp20)" d="M639.3,568.7l29.9,0 2.6,0.2 1,0.4 0.4,0.6 0.3,0.9 0.3,3.8 0.4,28.7 0.3-18.4 0.3-8.1 0.7-4.1 0.5-1.2 0.8-0.8 1.3-0.7 1.9-0.4 7.1-0.5 25.9-0.3 3.8,0.2 1.6,0.4 0.6,0.6 0.5,1.1 0.4,4.6 0.6,35.8 0.6-24.1 0.4-5.8 0.5-4.1 0.7-2.9 1.1-1.9 1.6-1.2 2.3-0.9 3.4-0.6 5.2-0.4 19.2-0.5 130.8-0.3" fill="none" stroke="#33669a" stroke-width="2.9" stroke-linejoin="round"/>
<line x1="664" y1="561.65" x2="664" y2="614.82" stroke="#000" stroke-width="2.2" stroke-dasharray="5.8,4.65" stroke-dashoffset="4.1"/>
<line x1="670.17" y1="561.65" x2="670.17" y2="563.85" stroke="#333" stroke-width="1.2"/>
<line x1="670.17" y1="614.82" x2="670.17" y2="612.62" stroke="#333" stroke-width="1.2"/>
<line x1="701.04" y1="561.65" x2="701.04" y2="565.65" stroke="#333" stroke-width="1.2"/>
<line x1="701.04" y1="614.82" x2="701.04" y2="610.82" stroke="#333" stroke-width="1.2"/>
<line x1="731.91" y1="561.65" x2="731.91" y2="563.85" stroke="#333" stroke-width="1.2"/>
<line x1="731.91" y1="614.82" x2="731.91" y2="612.62" stroke="#333" stroke-width="1.2"/>
<line x1="762.78" y1="561.65" x2="762.78" y2="565.65" stroke="#333" stroke-width="1.2"/>
<line x1="762.78" y1="614.82" x2="762.78" y2="610.82" stroke="#333" stroke-width="1.2"/>
<line x1="793.65" y1="561.65" x2="793.65" y2="563.85" stroke="#333" stroke-width="1.2"/>
<line x1="793.65" y1="614.82" x2="793.65" y2="612.62" stroke="#333" stroke-width="1.2"/>
<line x1="824.52" y1="561.65" x2="824.52" y2="565.65" stroke="#333" stroke-width="1.2"/>
<line x1="824.52" y1="614.82" x2="824.52" y2="610.82" stroke="#333" stroke-width="1.2"/>
<line x1="855.39" y1="561.65" x2="855.39" y2="563.85" stroke="#333" stroke-width="1.2"/>
<line x1="855.39" y1="614.82" x2="855.39" y2="612.62" stroke="#333" stroke-width="1.2"/>
<line x1="639.3" y1="566.22" x2="644" y2="566.22" stroke="#222" stroke-width="1.2"/>
<line x1="639.3" y1="578.37" x2="642" y2="578.37" stroke="#222" stroke-width="1.2"/>
<line x1="639.3" y1="590.52" x2="644" y2="590.52" stroke="#222" stroke-width="1.2"/>
<line x1="639.3" y1="602.67" x2="642" y2="602.67" stroke="#222" stroke-width="1.2"/>
<line x1="916.72" y1="561.65" x2="916.72" y2="565.65" stroke="#333" stroke-width="1.2"/>
<line x1="916.72" y1="614.82" x2="916.72" y2="610.82" stroke="#333" stroke-width="1.2"/>
<line x1="947.54" y1="561.65" x2="947.54" y2="563.85" stroke="#333" stroke-width="1.2"/>
<line x1="947.54" y1="614.82" x2="947.54" y2="612.62" stroke="#333" stroke-width="1.2"/>
<line x1="978.36" y1="561.65" x2="978.36" y2="565.65" stroke="#333" stroke-width="1.2"/>
<line x1="978.36" y1="614.82" x2="978.36" y2="610.82" stroke="#333" stroke-width="1.2"/>
<line x1="1009.18" y1="561.65" x2="1009.18" y2="563.85" stroke="#333" stroke-width="1.2"/>
<line x1="1009.18" y1="614.82" x2="1009.18" y2="612.62" stroke="#333" stroke-width="1.2"/>
<line x1="1040" y1="561.65" x2="1040" y2="565.65" stroke="#333" stroke-width="1.2"/>
<line x1="1040" y1="614.82" x2="1040" y2="610.82" stroke="#333" stroke-width="1.2"/>
<line x1="1070.82" y1="561.65" x2="1070.82" y2="563.85" stroke="#333" stroke-width="1.2"/>
<line x1="1070.82" y1="614.82" x2="1070.82" y2="612.62" stroke="#333" stroke-width="1.2"/>
<line x1="1101.64" y1="561.65" x2="1101.64" y2="565.65" stroke="#333" stroke-width="1.2"/>
<line x1="1101.64" y1="614.82" x2="1101.64" y2="610.82" stroke="#333" stroke-width="1.2"/>
<line x1="1132.5" y1="566.22" x2="1127.8" y2="566.22" stroke="#222" stroke-width="1.2"/>
<line x1="1132.5" y1="578.37" x2="1129.8" y2="578.37" stroke="#222" stroke-width="1.2"/>
<line x1="1132.5" y1="590.52" x2="1127.8" y2="590.52" stroke="#222" stroke-width="1.2"/>
<line x1="1132.5" y1="602.67" x2="1129.8" y2="602.67" stroke="#222" stroke-width="1.2"/>
<text x="877.8" y="606.22" font-size="18.5" fill="#000" text-anchor="end" >&#916;<tspan font-style="italic">y</tspan>=470</text>
<clipPath id="cp21"><rect x="639.3" y="614.82" width="246.4" height="53.17"/></clipPath>
<path clip-path="url(#cp21)" d="M639.3,622.1l247,0" fill="none" stroke="#33669a" stroke-width="2.9" stroke-linejoin="round"/>
<line x1="664" y1="614.82" x2="664" y2="667.99" stroke="#000" stroke-width="2.2" stroke-dasharray="5.8,4.65" stroke-dashoffset="4.1"/>
<line x1="670.17" y1="614.82" x2="670.17" y2="617.02" stroke="#333" stroke-width="1.2"/>
<line x1="670.17" y1="667.99" x2="670.17" y2="665.79" stroke="#333" stroke-width="1.2"/>
<line x1="701.04" y1="614.82" x2="701.04" y2="618.82" stroke="#333" stroke-width="1.2"/>
<line x1="701.04" y1="667.99" x2="701.04" y2="663.99" stroke="#333" stroke-width="1.2"/>
<line x1="731.91" y1="614.82" x2="731.91" y2="617.02" stroke="#333" stroke-width="1.2"/>
<line x1="731.91" y1="667.99" x2="731.91" y2="665.79" stroke="#333" stroke-width="1.2"/>
<line x1="762.78" y1="614.82" x2="762.78" y2="618.82" stroke="#333" stroke-width="1.2"/>
<line x1="762.78" y1="667.99" x2="762.78" y2="663.99" stroke="#333" stroke-width="1.2"/>
<line x1="793.65" y1="614.82" x2="793.65" y2="617.02" stroke="#333" stroke-width="1.2"/>
<line x1="793.65" y1="667.99" x2="793.65" y2="665.79" stroke="#333" stroke-width="1.2"/>
<line x1="824.52" y1="614.82" x2="824.52" y2="618.82" stroke="#333" stroke-width="1.2"/>
<line x1="824.52" y1="667.99" x2="824.52" y2="663.99" stroke="#333" stroke-width="1.2"/>
<line x1="855.39" y1="614.82" x2="855.39" y2="617.02" stroke="#333" stroke-width="1.2"/>
<line x1="855.39" y1="667.99" x2="855.39" y2="665.79" stroke="#333" stroke-width="1.2"/>
<line x1="639.3" y1="619.39" x2="644" y2="619.39" stroke="#222" stroke-width="1.2"/>
<line x1="639.3" y1="631.54" x2="642" y2="631.54" stroke="#222" stroke-width="1.2"/>
<line x1="639.3" y1="643.69" x2="644" y2="643.69" stroke="#222" stroke-width="1.2"/>
<line x1="639.3" y1="655.84" x2="642" y2="655.84" stroke="#222" stroke-width="1.2"/>
<line x1="916.72" y1="614.82" x2="916.72" y2="618.82" stroke="#333" stroke-width="1.2"/>
<line x1="916.72" y1="667.99" x2="916.72" y2="663.99" stroke="#333" stroke-width="1.2"/>
<line x1="947.54" y1="614.82" x2="947.54" y2="617.02" stroke="#333" stroke-width="1.2"/>
<line x1="947.54" y1="667.99" x2="947.54" y2="665.79" stroke="#333" stroke-width="1.2"/>
<line x1="978.36" y1="614.82" x2="978.36" y2="618.82" stroke="#333" stroke-width="1.2"/>
<line x1="978.36" y1="667.99" x2="978.36" y2="663.99" stroke="#333" stroke-width="1.2"/>
<line x1="1009.18" y1="614.82" x2="1009.18" y2="617.02" stroke="#333" stroke-width="1.2"/>
<line x1="1009.18" y1="667.99" x2="1009.18" y2="665.79" stroke="#333" stroke-width="1.2"/>
<line x1="1040" y1="614.82" x2="1040" y2="618.82" stroke="#333" stroke-width="1.2"/>
<line x1="1040" y1="667.99" x2="1040" y2="663.99" stroke="#333" stroke-width="1.2"/>
<line x1="1070.82" y1="614.82" x2="1070.82" y2="617.02" stroke="#333" stroke-width="1.2"/>
<line x1="1070.82" y1="667.99" x2="1070.82" y2="665.79" stroke="#333" stroke-width="1.2"/>
<line x1="1101.64" y1="614.82" x2="1101.64" y2="618.82" stroke="#333" stroke-width="1.2"/>
<line x1="1101.64" y1="667.99" x2="1101.64" y2="663.99" stroke="#333" stroke-width="1.2"/>
<line x1="1132.5" y1="619.39" x2="1127.8" y2="619.39" stroke="#222" stroke-width="1.2"/>
<line x1="1132.5" y1="631.54" x2="1129.8" y2="631.54" stroke="#222" stroke-width="1.2"/>
<line x1="1132.5" y1="643.69" x2="1127.8" y2="643.69" stroke="#222" stroke-width="1.2"/>
<line x1="1132.5" y1="655.84" x2="1129.8" y2="655.84" stroke="#222" stroke-width="1.2"/>
<text x="877.8" y="661.09" font-size="18.5" fill="#000" text-anchor="end" >&#916;<tspan font-style="italic">y</tspan>=520</text>
<clipPath id="cp22"><rect x="885.9" y="295.8" width="246.6" height="53.17"/></clipPath>
<path clip-path="url(#cp22)" d="M885.9,307.1l0.4,0.3 1.1-1.3 1.1,2 0.5-0.2 0.2-0.8 0.6,0.3 0.2-0.6 0.9,1.8 0.4-0.2 0.1,0.4 0.4-0.8 0.9,0.5 0.2-0.5 1,2 0.1-1.4 0.2-0.3 0.2,0.5 0.4-0.8 1.5,1.5 0.1-0.4 0.2,0.2 0.2-1.2 0.2,0.6 0.5-1 1.2,1.7 1.3-2 1.1,1.8 0.1-0.7 0.2,0.3 0.8-1.1 0.2-1.2 0.1,0.8 1.2,1 0.3-0.5 0.2,0.2 0.7-1.4 0.2,0.6 0.2-0.5 0.2,0.2 0.2,1.1 0.4-0.5 0.3,0.5 0.6-1.9 0.2,0.6 0.2-0.4 0.9,1.1 0.2-0.7 0.1,0.7 1-1.5 0.2,0.4 0.3-0.6 0.8,1.6 1.6-2.1 1.1,1.8 1.1-2.4 0.2,0.5 0.2-0.5 0.4,1 0.2-0.4 0.2,1.1 0.9-0.7 0.5-2.2 1,2.2 0.5-0.1 0.8-2.2 0.7,0.5 0.9,1.5 0.8-2.3 0.1,0.5 0.6-0.7 0.2,1.1 0.4-0.1 0.3,0.8 0.2-0.8 0.2,0.6 0.5-1.6 0.6-0.1 0.2,0.8 0.2-0.2 0.7,0.9 0.4-1 0.2,0.6 0.3-1.2 0.2,0.5 0.4-0.4 1.1,1.8 0.6-1.8 0.3,0.6 0.2-0.9 1.1,2.4 1.3-1.6 1.1,2.2 1.1-1.1 0.2,0.5 0.4-0.9 1.1,2.5 0.6-1.6 0.7,0 0.9,1.9 0.2-0.3 0.4,0.5 0.5-1.3 0.1,0.7 0.1-0.9 1,4 0.5,1.3 0.3-0.3 0,1 0.2-1 0.4,1.9 0.1-0.7 0.7,2.6 0.5,5 1.9,7.7 1.6,11.7 3.5-21.1 0,0.5 0.3-0.6 1.8-8.8 0.3,0.4 0-0.8 0.1,0.9 0.2-0.8 0.1,0.6 0-0.5 0.3,0.4 1.2-3.6 0.2,0.6 0.2-0.7 0.5,1.3 0.4,0.4 0.2-0.4 0.2,0.4 0.5-2.3 0.4,0.5 0.2-0.4 1.1,2.1 1.3-3.3 1.1,2.6 1.3-2.9 1.3,2.3 1.3-2.5 0.9,2.2 0.4-0.1 0.9-2.1 0.5-0.1 1,1.8 1.1-2.3 1.4,2.2 1.2-2.7 0.1,0.6 0.2-0.3 0.8,3.3 0.2-1 0.5,0.1 0.4-1.8 0.3-0.3 1.2,4.3 0.3-0.2 0.8-3 0.3,0.3 1.1,5 1-3.7 0.3,0 1.1,5.5 0.6-0.5 0.7-2.6 1.3,6.4 1.1-2 1.5,6.1 0.6-1.6 0.2,0.3 0.3-0.3 1.5,6.6 0.4-1.4 0.2,0.3 0.3-0.7 0.2,0.3 0.9,4.8 1-0.6 0.5-1.7 1.1,6 0.8,0 0.2-1.2 0.5-0.7 1.1,6.1 0.4,0 0.9-2.8 0.2,1 0.2-0.5 0.7,5.3 0.4,0.3 0.9-3.8 1.1,5.3 0.6,0 0.9-3.7 1.1,3.5 1.1-4 0.6-0.7 0.5,2 0.6,0 1.3-5.6 0.5,1.6 0.2-0.4 0.4,0.5 1.1-5.5 0.4-0.2 0.2,0.8 0.2-0.6 0.5,1.3 1.5-6.2 0.9,3.4 0.4,0.2 1.1-7.3 0.9,5.1 0.4,0.4 1.1-7.5 1.3,6.8 1.3-7.9 1.1,5.6 0.4-0.6 0.9-6.1 1.3,5.3 1.1-5.8 0.4-0.3 0.7,4.4 0.4,0.2 1.1-5.3 1.3,4.4 0.9-4.4 0.6-0.4 1.1,4.5 0.9-5.7 0.4-0.1 0.7,5.2 0.2-0.2 0.2,0.5 1.1-7.5 1.5,7.5 0.7-6.3 0.5-1.8 1.2,7.7 1.1-8.3 1.3,7.3 1.1-6.7 0.2,0.4 0.1-0.5 0.2,0.5 0.8,5.2 1.3-5.8 1.3,4.7 1.3-4.9 1.2,4.7 0.8-4.1 0.5-1.1 1.3,5.3 1.3-6.7 1,7.1 0.3-0.7 0.8-6.3 0.3-0.4 1.1,7.5 1.3-8.6 1.3,8.5 1.3-8.3 1.1,7.4 0.6-1.8 0.4-3.8 0.5-0.6 1.1,6.1 1.3-6.5 1.1,5.6 1.1-5.4 1.3,5.2 0.2-0.4 0.2,0.3 0.9-5.3 1.5,6.1 0.7-5.6 0.6-1.4 1.1,7.7 1.1-7.9 1.1,7.7 0.4,0.2 1.1-8.3 1.3,8 1.1-7.7 1.3,7.1 0.9-5.3 0.6-0.9 0.9,5.9 0.6-1 0.5-4.5 0.8,0.8 0.9,4.8 1.1-5.7 1.5,5.5 1.1-6.1 1.1,7.1 1.3-7.7 1.3,7.8 1.3-8.3 1.1,8.7 1.3-8.7 1.3,8.3 1.1-8.1 1.3,7.4 1.3-6.8 1.3,6.1 1.1-5.1 0.3,0.3 1,4.3 1.3-5 0.9,4.1 0.5,0.9 0.8-5.1 0.5-1.1 1,7 1.3-7.9 1.3,8.3 1.1-8.7 0.3,0.7 0.8,7 0.3,0.5 1.1-8.4 1.3,7.9 1.3-7 1,5.9 0.3,0.4 1.1-6.2 0.4,0.5 0.8,4.9 0.7-1.8 0.7-3.8 1,5.1 0.3,0.4 1.1-5.6 1.3,5.7 1.3-6.7 1.3,6.9 0.9-6.8 0.4-0.5 0.2,1" fill="none" stroke="#ff1a1a" stroke-width="0.7" stroke-linejoin="round"/>
<clipPath id="cp23"><rect x="885.9" y="348.97" width="246.6" height="53.17"/></clipPath>
<path clip-path="url(#cp23)" d="M885.9,361.5l0.2-0.3 1.3,1.9 0.9-2.7 0.6,1.1 0.9,0.6 0.2-1.1 0.2,0.2 0.5-0.9 0.6,0.5 0.1-0.7 0.4,1.4 0.4,0 0.2-1.2 0.2,0.3 0.3-1 0.8,0.1 0.5,0.7 0.2-0.4 0.6,0.7 0.3-1.4 0.4,0.2 0.4-0.8 0.5,1.4 0.4-0.8 0.2,0.6 0.3-0.3 0.4-1.5 0.8,0.3 0.1-0.5 0.8,2 0.2-0.8 0.3,0.1 1-1.8 0.9,1.7 1.8-1.9 0.4,1.9 0.4,0.2 1.3-2.7 0.9,2.2 0.6-0.2 0.9-1.9 0.2,0.4 0.1-0.3 0.4,1.3 0.4,0 0.2,0.5 0.5-1 0.4-0.3 0.2,0.3 0.5-0.8 0.2,1.1 0.4,0.4 0.2-0.4 0.2,1 0.3-1.6 0.4,0.5 0.4-1 1.4,1.4 0.2-0.7 0.2,0.4 0.6-0.9 0.7,0 0.6,1.1 0.5-0.8 0.2,0.6 0.6-1.5 1.4,2.5 0.8-2.1 0.3,0.1 0.2-0.4 1,1.9 1.6-2.8 0.2,1.2 0.7,1.2 0.6-1.2 0.4,0.4 0.3-1 1.2,2.2 1.2-2.5 0.4-0.1 0.4,1.3 0.2-0.4 0.5,0.9 0.4-1.1 0.1,0.6 0.2-0.8 0.2,0.5 0.1-0.8 0,1 0.2-0.8 0.2,1.2 0.1-0.5 0.3,1.3 0.1-0.6 0.9,3.8 0.2-0.8 0.6,3 2.2,16.7 0.9,11 1.9-18.6 2.2-13.3 0.8-1.5 0.4,0.7 0-0.6 0.1,0.6 0.1-0.4 0.2,0.8 0-0.6 0.2,0.4 0.7-2.8 0.1,1.1 0-1.4 0.1,0.9 0.3-1.1 0.5,1.9 0-0.9 0.1,1.3 0.2-0.4 0.4,0.7 1.1-2.1 1.1,1.7 0.2-0.5 0.2,0.6 0.5-1.6 0.4,0.1 0.4-0.9 0.7,2.1 0.4-0.1 1.1-3 0.2,1 1.1,1.1 1.3-2.2 0.6,0.3 0.7,1.6 0.9-2.5 0.6,0.4 0.2-0.3 0.5,1.5 1.7-2.8 1.1,3 0.9-3.6 0.7,1 0.8,2.5 0.9-3.2 0.4-0.2 1.1,3.7 1.3-3.5 1.3,4.4 0.9-4 1.5,3.9 0.5-0.6 0.6-2.1 1.7,3.8 0.7-3 0.6,0.3 0.5,2.5 0.6,0.8 0.7-2.7 0.6-0.4 1.1,5 1.3-4.5 1.3,6.7 1.1-4.9 1.3,7.2 0.7-3.8 0,0.9 0.5-1.2 1.2,8.8 0.4,0.8 0.3-1.5 0.1,0.5 0.2,0.2 0.1-0.5 0.4,2.1 0.9,8.9 0.3,1.8 0.1-0.6 0.3,0.6 0-0.4 0.7,2.5 0.9,8.8 1.6-13.4 0.2,0.2 0.6-1.8 0.1,0.3 0.2-1.1 0.1,0.5 1.1-8.9 0.5-0.8 0.2,1 0.1-1.4 0.2,1.4 0-0.6 0.2,1.1 0.2-0.7 0,0.5 1.2-6.7 0.1,0.3 0.3-0.3 0.8,5.2 1.2-6.7 1.3,5.6 1.5-6.5 0.9,5.9 1.3-7 1.3,5.5 1-5.1 0.5-0.4 0.2,0.3 0.9,4.1 1.3-5.9 0.8,3.7 0.5,0.7 1.1-4.5 0.4,0 0.9,3.9 1.3-5 0.9,4.8 1.5-5.5 1.1,5.8 0.6-0.7 0.7-5.2 0.4,0.2 0.7,6.1 0.2,0.5 0.2-0.3 1.1-6.5 1.1,7.5 1.5-6.3 1.3,6.8 0.9-5.6 0.6,1.1 0.7,4.7 1.5-4.6 1.3,5.3 1.3-3.9 0.9,4.3 0.6-0.1 0.7-3.7 0.4,0.3 1.1,4.5 1.1-5.2 1.3,5.8 1.3-6.1 1.1,6.4 1.1-6.2 0.4,0.1 1.1,5.7 1.1-6.2 1.5,5.3 1.1-5.5 1.3,4.3 0.9-4.2 0.4-0.3 0.9,3.7 0.4-0.7 0.1,0.3 1-4 0.3,0.2 1,3.6 1.3-5.6 1.1,5.3 1.3-6.1 1.3,5.6 1.1-6.6 0.3,0.5 0.8,5.2 0.3-0.1 1.1-6.4 1.3,5.9 1.3-6.7 1.1,5.8 1.3-5.5 1.3,4.7 1-4.2 0.3-0.3 1,4.3 0.1-0.3 0.2,0.3 0.6-3.1 0.4-1.1 0.3,0.3 1.1,5.9 1.3-4.6 1.3,7.3 0.8-4 0.3-0.7 0.2,0.2 1.1,6.9 0.8-4.5 0.7-1.6 0.9,6.4 1.3-7.1 1.1,5.3 0.2-0.4 0.2,0.3 0.6-4.8 0.5-1.4 1.3,4.1 1.1-6.3 1.1,3.7 1.5-5.3 0.9,3 0.6-0.4 0.9-4.9 1.3,4 1.3-6.1 1.1,5.3 0.9-5.6 0.6-1.2 0.9,6.8 0.6-1.2 0.7-5.2 1.5,8.9 1.1-5.4 1.3,8.3 1.1-4.5 1.1,5.6 0.4,0.3 1.1-4.1 0.9,3.5 0.6,0.6 0.3-2.7 0.8-1.2 1.1,4.1 1.3-4.9 1.3,5.5 0.9-5.1 0.6-0.2 0.7,5.4 0.4-0.6 0.1,0.5 1-6.4 1.1,6.7 0.5-1.1 0.8-6.1 1.3,6.9 1.3-7 0.9,4.9 0.5,1 1-5.4 1.1,4.7 0.7-1.3 0.8-3.5 1.1,4.2 0.3-0.3 1.1-4.5 1,4.2 0.2-0.4 0.1,0.7 1.1-5.6 1.3,5.5 0.6-3.4" fill="none" stroke="#ff1a1a" stroke-width="0.7" stroke-linejoin="round"/>
<clipPath id="cp24"><rect x="885.9" y="402.14" width="246.6" height="53.17"/></clipPath>
<path clip-path="url(#cp24)" d="M885.9,415.7l0.2,0.8 0.9-1.3 0.4,0.7 0.2-0.6 0.1,0.4 0.4-0.1 0.6,1.3 0.7-1.2 0.2,0.5 0.6-0.6 0.1,1.2 0.4-0.6 0.4,1 0.3-1 0.2,0.5 0.6-0.5 0.5,0.2 0.8,1.4 1.5-1.8 0.7,1.7 0.7-0.4 1-1.3 1.1,1.8 1.5-1.9 0.5,1.4 0.6-0.1 0.1,0.4 0.4-1.9 0.4,0 0.2,0.6 0.3-1 1.2,1.7 0.1-1.4 0.2,0.4 0.8-1.5 1.1,1.2 0.5-0.1 0.6-1.7 0.5,0.5 0.8-0.5 0.5,0.9 0.6-1.7 0.4,0.1 0.3-0.5 0.6,1.3 1.1-1.6 0.7-0.3 1.1,0.9 1.5-2.2 0.8,1.5 1.3-2.3 0.7,1.1 0.2-0.6 0.5,1.3 1.3-2.8 0.2,0.8 0.2-0.2 0.7,1.1 1.1-2.7 1.3,2 0.2-0.4 0.2,0.3 0.7-1.5 0.8,1 0.2-0.4 0.2,1.4 0.1-0.9 0.2,1 0.4-0.8 0.4,0.5 0.7-0.8 0.9,2.1 0-0.4 0.3,0.3 0.1-0.7 0.1,0.6 0.1-0.6 0.3,0.6 0.4-1.2 0.4,1.2 0.2-0.6 0.1,1.4 0.1-0.7 0.2,1.2 1.1,2.5 0-0.5 0.1,0.7 0.1-0.7 0.3,1.6 2.3,17.2 0.9,10.1 1.6-16.3 2.6-15.7 0.4,0.9 0.1-0.7 0.2,0.7 0.1-0.6 0.2,0.5 0.1-0.3 0.1,0.7 0.2-1.2 0.1,1.4 0.2-1.7 0.2-0.7 0.1,0.9 0.4-1.8 0.4,0 0.1,0.7 0.1-0.5 0.3,1.5 0.1-0.7 0,0.4 0.7-0.2 0.3-1.2 0.2,0.5 0.2-1 0.4,0.1 0.2-0.5 0.5,1.6 0.2-0.4 0.6,0.4 0.9-2.4 1.3,2.6 0.2-1.3 0.2,0.3 0.5-0.7 0.2,0.4 0.2-1.4 0.5,2.2 0.6,0.6 1.3-2.1 1.1,3.3 1.3-3.1 1.3,3.8 1.1-3.6 0.4,0.3 0.7,3.8 0.4,0.4 0.9-4.1 1.7,4.3 0.5-2.1 0.8-1.1 0.3,2.4 0.8,1.6 0.7-2.7 0.2,0.3 0.4-1 0.9,3.5 0.7-0.5 0.6-1.8 0.3,0 0.6,2.4 0.7,1 0.6-2.6 0.6-0.6 1.1,4.9 0.9-4.6 0.5-0.2 1.2,5 1.1-5.4 1.3,5.6 1.3-5.6 1.2,5.9 1.2-5.4 1.2,6.1 0.4-1.1 0.1,0.6 0.4-2.5 0.2-0.2 0.1,0.5 0.1-0.8 1.3,8.5 0.6,0.1 0.2-0.8 0.5,1.8 1,8.4 1.2,3.7 1,7.4 0.6-2.5 1-10.1 0.5-0.9 0.2,0.5 0.1-1.1 0.4,0.5 1.2-9.1 0.4-1.5 0.1,0.5 0.1-0.4 0.9,3.5 1.3-8.2 1.1,5.8 1-5.4 0.5-0.8 1.1,5.7 1.3-5.7 0.8,4.3 0.5,1 0.7-4.8 0.6,0 0.7,3 0.4,0.1 1.1-4.1 1.3,3.8 1.1-4.5 0.4,0.3 0.9,3.4 1.3-5 1.3,4.6 1.3-6.1 0.9,5.4 0.4,0 1.1-6.5 0.9,4.9 0.6,0.9 0.9-6.8 1.1,5.5 0.4,0.4 0.9-5.6 0.4-0.5 0.9,5.6 1.3-6.1 1.3,5.1 1.3-4.6 0.2,1 0.2-0.5 0.7,4 0.6,0 0.3-2.8 0.6-1 1.3,5.4 1.3-4.4 1.1,6.5 1.3-5.5 1.1,6.9 0.4,0 0.9-4.9 1.5,6.7 1.1-5.8 1.1,6.5 1.1-5.5 0.5,0.7 1,4.3 1.1-4.6 0.5,0.8 0.8,3.2 1.1-4.5 0.2,0.9 0.3-0.5 0.8,3.2 0.2-0.7 0.3,0.2 1-3.9 1.1,4.3 1.1-4.9 0.3-0.3 0.8,3.8 0.5,1.1 1-6 0.3,0.2 1,5.3 1.4-6.7 0.8,4.9 0.5,0.7 1-6.4 1.2,5.4 1.3-6.1 1.5,4.9 0.9-4.6 0.6,0.5 0.6,3.2 0.5-0.8 0.9-4 1.3,4 1.3-4.5 1.1,4.2 1.5-5.5 1.1,6.3 1.3-7 1.3,7.3 1.1-6.3 1.1,7.1 0.4,0.8 0.9-5.6 1.5,6.2 0.9-4.9 1.1,3.7 0.4-0.2 0.2,0.6 0.9-4.3 1.5,3.7 0.7-3.4 0.6-0.8 1.1,3.3 1.1-5 0.2,0.3 0.2-0.4 1.1,5 1.1-6.7 1.3,5.5 1.1-6 0.4,0.3 1.1,6.2 0.9-6.8 0.7,1.3 0.6,4.7 0.6-1.1 0.9-4.8 1.1,5.7 0.4-0.5 0.9-5 1.1,4.7 0.2-0.4 0.2,0.3 0.7-3.7 0.4-0.4 1.3,4.3 0.5-2.8 0.9-1.4 1,4.9 1.1-5.4 1.3,5.5 1.5-6.2 1.1,6.9 1.3-6.8 1.3,6.6 1.1-6.8 1.3,6.4 1.1-5.9 0.9,4.5 0.5,0.9 1.2-4.9 1.1,4.5 0.3,0 1-4 0.7,1.5 0.2,1.8 0.5,1.3 0.8-3.5 0.7-0.7 0.8,4.9 0.5-0.2 0.9-4.2 1.3,6.2 1.1-5.4 1.3,6.9 1.1-5.6 0.6,1.3" fill="none" stroke="#ff1a1a" stroke-width="0.7" stroke-linejoin="round"/>
<clipPath id="cp25"><rect x="885.9" y="455.31" width="246.6" height="53.17"/></clipPath>
<path clip-path="url(#cp25)" d="M885.9,472l0.2,0.4 0.4-0.8 0.1,0.5 0.4-1.1 0.6-0.4 1.3,1.5 1.3-2.2 0.7,1.5 0.2-0.7 0.5,0.9 0.4-1.4 0.2,0.4 0.7-1.1 0.4,1.4 0.2-0.3 0.2,0.6 0.2-0.4 0.1,1 0.4-1.8 0.7-1.1 1.3,2 0.2-1.4 0.2,1.1 0.7-1.7 1,1.3 0.2-0.4 0.1,0.7 0.6-1.3 0.6-0.2 0.1-0.5 0.6,0.9 0.2-0.3 0.2,0.8 0.1-0.4 0.4,0.4 0.2-1.2 0.4-0.3 0.2,0.4 0.3-0.6 0.2,0.4 0.2-0.5 0.2,1.3 0.2-0.7 0.2,0.9 0.5-1 0.9-0.6 0.6,0.3 0.2,0.8 0.3-0.8 0.2,0.5 0.8-1.2 0.3-0.3 0.2,0.4 0.2-0.4 0.2,0.7 0.4-0.2 0.1,1 1.3-2.5 0.2,0.9 0.2-0.7 0.6,1.2 0.5-0.2 0.4,0.5 0.9-2.6 0.4,1.7 0.2-0.4 0.2,0.8 0.5-0.2 0.9-2.3 0.2,1.4 0.2-0.5 0.4,0.1 0.5,1.4 1.1-2.7 0.2,1 0.2-1.1 0.4,1.2 0.5,0.1 0.2,0.6 1.1-2.1 0.2,0.3 0.2-0.4 0.9,1.4 1.7-2.2 0.4,0 0.3,0.9 0.4-0.4 0.5-1.6 0.6,0 0.2-0.5 0.4,0.6 0.1-0.5 0.1,0.8 0.3-0.9 0.2,1.2 0.3-1.5 0.1,0.5 0.3-1.1 0.2,0.4 0.1-1.5 0.1,1.3 0.1-0.9 0.5,1.3 0-0.7 0.1,0.9 0-0.7 0.8,2.1 0.2-0.8 0.3,0.7 0-0.8 0.6,2 2.2,18.1 1,13.2 1.8-18.2 2.4-10.6 0.2,0.7 0-0.7 0.1,0.4 0.2-0.1 0,1 0.1-0.8 0.4,1.4 0.3-0.6 0.1,0.6 0.1-1 0.1,0.8 0.6-1.9 0.4,0.9 0.2-1 0,1.2 0.1-0.6 0.1,0.8 0.3-0.5 0.3,1 0.1-0.4 0.4,0.4 0.3-1.4 0.6-0.4 0.4,0 0.3,0.6 0.4-0.1 0.4,0.5 1.3-3.1 0.5,1.8 0.4-0.3 1.3-3.5 0.2,0.6 0.1-0.6 0.6,1.8 0.4-0.2 1.1-4 0.2,1.1 0.2-0.9 1.1,3.8 0.7-3.4 0.6-0.7 1.1,4.1 0.5-1.4 0.4-2.9 0.2,0.4 0.2-0.7 1.1,4.2 1.3-3.5 1.1,3.6 1.3-3.4 0.2,0.5 0.1-0.4 0.6,2.7 0.7,0.6 0.6-2.5 0.5-0.5 1.2,3.6 1.2-3.4 1.3,4 1.1-4.3 1.3,5.7 1.3-5.8 1.3,6.1 1.1-5.5 1.3,6.7 1-4.8 0.5,1.1 0.8,5.9 0.4,0.6 0.8-2.7 0.2,1.1 0.1-0.5 0.9,7 0.4,2.1 0.1,0.4 0.2-0.4 0,0.7 0.1-0.7 0.1,1.1 0-1.1 0.8,3 0.9,8.5 1.4,6.8 1.4-7 1-8.9 0.5-2.5 0.4,1.4 0.6-1.1 1.1-8 0,1 0.3-1.2 1.1,4.2 1.1-6.2 1.4,5.8 1.1-5.4 0.4,0.3 0.7,4.6 0.4,0.3 1.1-5.6 1.1,4.5 1.5-5.3 0.9,3.6 0.4-0.3 0.9-4.4 0.6,0.5 0.7,2.6 1.3-4.6 1.1,3.1 0.4,0 0.7-3.8 0.6-0.6 1.1,4.2 0.9-5.3 0.4,0.2 1.3,5.9 0.9-6 0.6,1.3 0.3,3.6 0.6,1.3 0.9-5.5 0.4-0.2 0.9,6.4 0.5-0.8 0.6-3.5 0.4-0.3 1.3,5 0.7-3.5 0.4-0.1 1.1,4.2 0.5-0.5 1-2.7 1.1,4.1 0.2-0.5 0.1,0.4 1-3 1.1,3.9 0.4,0.1 1.1-3.4 1.3,5 1.1-5 1.4,5.8 1.2-5.3 1.1,5.5 1.4-5.7 0.6,3.5 0.6,1.3 0.7-3.4 0.7-1.2 1,3.9 1.2-4.8 1.3,2.7 1.3-4 1.1,2.9 0.6-1.1 0.6-3.4 0.7,0.7 0.7,2.7 1.3-5.8 0.8,3.8 0.5,1.2 1.1-6.2 0.4,0.6 0.6,4 0.1,0.5 0.4-0.1 0.9-6.5 0.4,0.3 0.6,4.1 0.5,1.1 1.1-6.5 1.3,5.5 1.1-5.4 1.3,5.3 1.1-4.2 0.2,0.4 0.2-0.5 0.9,4.1 0.2-0.5 0.2,0.3 0.9-3.5 0.2,0.4 0.2-0.3 1.1,4.4 1.1-4.4 0.9,3.9 0.6,1 1.1-4.6 1.3,6 1.1-5.8 1.3,6.9 1.1-5.7 1.3,6.1 1.1-5.3 0.4,0.4 0.7,4.4 0.6,1.1 1.1-4.6 1.1,4.2 0.4-0.1 0.9-3.8 0.9,4 0.2-0.4 0.4,0.7 1.1-3.6 0.7,3.9 0.2-0.6 0.4,0.8 1.1-4 1.3,4.4 1.3-4.5 1.1,5.1 0.4-0.5 0.9-5.8 1.3,5.6 1.3-6.4 1.1,6.1 1.5-6.7 0.7,4.8 0.4,0.4 1.3-5.3 1.3,4.3 1.1-4.6 1.1,3.5 1.3-4.1 0.2,0.5 0.1-0.6 0.8,3.3 0.3,0.2 1.2-4.6 1.3,4.7 1.2-5.6 0.8,4.7 0.5,1.4 1.3-5.3 1.1,7.2 1.2-5.2 1.2,6.9 1.3-4 1.2,5.6 0.5-0.6 0.9-3.3 1.1,4.5 1.3-3.5 0.6,0.7 0.2,1.8 0.2-0.4 0.5,1.3 0.8-3.5 0.3,0.5 0.2-0.3 0.7,3.3 0.2-0.4 0.4,0.4 0.9-4.6 1.3,5 1.1-5.3 0.6,0.9 0.2,2.3 0.7,1.8 1.1-6 1.1,5.5 0.4,0 1.1-6.6 0.9,5.1 0.4,0 0.2-0.6 0.9-5.2 0.2,1.3" fill="none" stroke="#ff1a1a" stroke-width="0.7" stroke-linejoin="round"/>
<clipPath id="cp26"><rect x="885.9" y="508.48" width="246.6" height="53.17"/></clipPath>
<path clip-path="url(#cp26)" d="M885.9,521.1l1.1,0.1 1.1,2.4 0.4-0.8 0.9-0.2 0.4,1.5 0.2-0.9 0.7,1.8 0.2-0.8 0.9-0.7 1.3,2.2 0.4-0.1 0.5-1.3 0.4-0.1 1.1,2.3 0.2-0.9 0.4,0.2 0.3-1.6 0.4,0.7 0.2-0.5 0.5,1.4 0.2-0.8 0.2,0.8 1.1-2 0.4,0.5 0.2-0.9 0.7,1.4 0.4-0.1 0.9-2.6 0.6,0.8 0.3-0.6 0.4,0.7 1.5-2.3 0.7,0.8 0.2-0.5 0.2,0.8 0.7-1.7 0.2,0.9 0.2-1 0.6-0.1 0.9,1.2 0.7-1.7 0.6-0.2 0.5,0.9 0.2-0.6 0.8,1 0.1-1.4 0.8-1.2 0.2,0.5 0.3,0 0.4,1.5 1.7-2.6 0.7,1.5 0.6,0.2 1.1-2.3 1.1,2 1.5-2.3 0.5,1.7 0.6-0.4 0.2,1.1 0.9-2.5 1.5,2.3 0.7-1.2 0.1,0.8 0.1-0.8 0.2,0.6 0.1-0.7 0.1,1.2 0-0.9 1.3,2.5 0-1.1 0.3,0.9 0.4-1.1 0.2,0.7 0.1-1.2 1,3 0-0.6 0.4,1 0.1-0.6 0.4,1.5 0.1-1 0.5,2.2 2.4,22.2 2.6-23 0.1,0.4 0.1-0.7 0.4,0.5 0.3-0.7 0.4,1 0.9-3.1 0.1,1 0.3-0.6 0.3,0.7 0-0.5 0.8,2 1-2.8 0.2,0.5 0.2-0.7 0.4,0.2 0.4,1.2 0.2-0.5 0.2,0.4 0.1-0.2 0.8-2.7 0.2,0.3 0.1-0.5 0.8,1.1 0.2-0.4 0.5,0.2 0.2-1.1 1.1-1.7 0.2,0.9 0.6-0.3 0.1,0.8 0.4-0.3 0.9-2.8 1,2.1 0.3-0.9 0.2,0.4 0.8-2.4 0.1,0.7 0.2-0.4 0.6,0.7 0.5,1.6 1.1-3 0.2,0.5 0.2-0.4 0.8,3.6 0.5-0.3 0.4-2.3 0.5-0.6 0.6,0.6 0.7,2.8 1.1-3.8 1.5,4.1 1.1-3.1 1.3,3.5 1.3-2.9 1.1,3.4 1.1-2.5 0.4-0.2 0.9,3.4 0.4-0.7 0.2,0.2 0.9-2.4 1.3,4.5 1.1-4.2 1.3,6.1 1.3-5.1 1.1,6.3 0.3,0.1 0.8-4.6 0.1,0.9 0.3-0.9 0.2,0.7 0.8,4.5 0.5-0.5 0.7-3 0.2,1 0.1-0.5 1,6.5 0.4,1.3 0.3-0.5 0.2,1.2 0.1-0.6 0.1,1.3 0.1-0.4 1.8,15.6 1-10.1 1.2-4.2 1-8.1 0.4-1.3 0.1,1.1 0.1-0.6 0.5,1.6 0.3-0.5 0.3,0.4 0.7-4.6 0.1,0.5 0.4-0.3 1,4.1 1.2-5 1.3,5.1 1.1-5.3 0.2,0.2 0.2-0.2 0.9,4.7 1.3-5.3 1.3,4.6 1.1-4.9 0.4,0.2 0.3,2.2 0.8,1.6 1.1-4.4 1.1,3.5 0.2-0.9 0.3,0.4 0.8-2.8 0.3,0.3 0.8,2.3 0.2-0.3 0.2,0.3 1.1-4.2 1.3,4.3 0.5-0.8 0.8-3.7 1.2,4.4 1.2-5.2 1.3,5.4 1.1-5.7 1.3,5.8 1.2-5.5 1.3,4.5 1.2-4.3 1.2,4.5 1.2-2.3 0.5,0.3 0.8,3.1 0.3,0.2 0.8-2.3 0.1,0.4 0.2-0.4 1,4.2 0.3,0.2 0.8-2.6 0.3,0.2 0.2-0.4 1.3,4.5 0.6-3.2 0.5-1.1 0.9,3.5 0.2,0.3 0.4-0.3 1.1-5.5 1.1,4.1 1.1-6.3 0.4,0.1 0.7,3.4 0.4,0.3 0.9-5.5 0.4,0.1 0.4,1 0.5,2.7 0.4-0.1 1.1-4.5 1.1,4 0.6-0.7 0.7-3.4 0.8,2.6 0.7,1 0.5-2.5 0.6-0.8 0.7,2.8 0.2-0.6 0.2,0.8 0.4,0.1 0.9-3.7 0.9,3.2 0.6,0.6 0.9-4.2 0.4-0.3 1.1,4.9 1.1-5.2 0.9,5 0.2-0.6 0.4,1.1 0.7-5.4 0.2,0.2 0.2-0.5 0.9,4.9 0.8-0.7 0.5-3.8 0.4-0.5 1.1,5.2 1.1-4 1.5,4.9 0.7-3.1 0.9,1.2 0.4,2.2 0.6,0.9 0.9-2.6 1.5,4.7 0.9-3 0.4,0.3 1.1,4.3 1.1-5 1.1,4.7 0.4,0.2 0.9-4.8 0.4-0.3 1.1,4.8 0.9-5 0.4-0.5 0.9,3.7 0.4,0.1 1.1-5.2 0.9,3.7 0.5,0.3 1-4.6 1.3,3.5 1.1-4 0.5,0.6 1,2.5 1.2-4.1 1.2,3.8 0.5-0.9 0.7-3.6 1.3,4.4 1.3-4.9 1.3,6.7 1-4.9 0.3-0.3 1.1,6 1.3-4.6 1.1,5.7 0.4,0 0.9-3.4 1.3,4.8 1.3-3.6 1.3,3.9 0.4-1.9 0.9-1.8 1.1,3.3 1.3-4.3 0.9,3.9 0.2-0.8 0.2,1.1 1.1-4.5 1.3,3.9 1.3-5.2 0.9,4.6 0.4,0.4 1.1-5.3 1.3,5.4 1.3-5.7 0.9,4.4 1-1.4 0.5-2.9 1.5,4.5 0.9-3.8 0.2,0.5 0.4-0.3 0.5,3 0.6,0 0.7-3.2 0.4-0.2 1.1,3.9 1.3-4.3 1.3,4.5 1.3-4.8 1.1,5 1.3-5.1 1.1,5.1 0.5-0.9 0.4-3.2 0.6-0.7 0.9,4.6 0.4-0.1 0.7-4.3 0.7,0.1 0.6,3.3" fill="none" stroke="#ff1a1a" stroke-width="0.7" stroke-linejoin="round"/>
<clipPath id="cp27"><rect x="885.9" y="561.65" width="246.6" height="53.17"/></clipPath>
<path clip-path="url(#cp27)" d="M885.9,571.1l0.6,1.4 1.4-1.6 0.8,1.5 0.7,0.2 1.1-1.3 0.8,2.2 0.7-0.1 0.4-1.1 0.3-0.2 0.2,0.6 0.2-0.5 0.4,1.4 0.4-0.2 0.3,0.8 0.4-0.7 0.2,0.4 0.2-1.2 0.5-0.1 1.1,1.9 0.8-1.9 0.1,0.8 0.2-0.5 0.6,0.3 0.7,1.9 1.3-2.4 1.1,2.4 0.6-0.5 0.4-1.4 0.1,0.5 0.4-0.4 0.4,1 0.2-0.3 0.3,0.4 0.4,1.1 1.3-2.2 0.2,0.7 0.2-0.6 0.5,2 0.6-0.3 0.7-1.6 0.4,0 0.2,0.7 0.2-0.4 0.5,1.5 0.6-1.1 0.3,0.2 0.6-0.7 0.7,0.7 0.2,0.9 0.4-1 0.2,0.7 1.1-1.4 0.5,1.6 0.4-0.2 0.2,0.2 1.1-1.7 0.7,0.7 0.4,1.1 0.4-0.9 0.4,0.5 0.7-1.4 0.4,1 0.3-0.3 0.4,1.2 1.5-2.8 0.7,1.6 0.2-0.6 0.2,0.5 1.3-2.6 0.5,0.4 0.6,1.3 0.3-0.7 0.1,0.7 0-1.1 0.5-1.4 0.1,0.4 0.1-0.9 0.3,0.5 0.1-0.6 0.9,2.4 0-0.9 0.1,0.7 0.3-0.7 0.2,0.6 0.1-1.1 0.1,0.5 0.1-1.2 0.2,0.7 0.3-0.6 2,7.6 1.4,14 1.4-14.3 0.8-3.6 0.1,0.6 0.1-1 0.4-0.8 0,0.4 1.1-2.7 0.4,0.6 0-0.8 0.1,0.8 0.2-0.4 0.5,1.4 0.4-0.6 0.1,0.7 0.1-0.8 0,0.8 0.1-0.8 0.4-0.8 0.1,0.5 0.2-0.9 0.7,1.7 0.2-0.6 0.1,0.9 0.5,0.5 1.1-2.4 0.9,1.9 0.7,0.2 0.4-1.5 0.4-0.7 0.2,0.6 0.1-0.8 0.8,3.3 0.7-1 0.2-1.3 0.9-0.8 0.4,2.3 0.4-0.1 0.3,0.7 0.6-1.9 0.5-0.4 0.2,0.3 0.2-0.3 0.4,1.6 0.5,0.6 0.6-1.7 0.9-0.4 0.8,2.2 0.5-0.2 0.4-1.3 0.2,0.3 0.2-1.2 1.6,2.4 0.9-2.3 1.2,2.3 1.4-3.1 1.3,3.6 1.1-4.1 1.1,4.8 1.3-4.5 0.4,0.3 0.8,3.8 0.1-0.5 0.2,0.6 0.9-4.3 0.6,0.5 0.9,4.2 1.1-4.6 0.4,0.2 0.9,4 1.1-3.7 0.6,0.3 0.9,3.1 1.3-3.7 0.9,3.5 0.2-0.5 0.2,0.7 1-4.1 1.4,4.5 1.3-4.1 1,7 1.3,2.7 1.3,15.8 1.3-14.7 0.6-2.2 0.1,0.7 0.5-1 0,0.9 1.4-7.9 1.1,4.4 1.2-4.3 0.3,0.5 0.2-0.4 0.2,2.3 0.8,1.8 0.7-4.1 0.6,0.8 0.2-0.3 0.7,3.2 0.6-0.7 0.9-3.3 0.7,3 0.2-0.4 0.4,0.9 1.3-3.6 0.9,4.4 1.5-4.6 1.1,4.4 1.3-4.9 1.3,4.9 0.9-4.6 0.6-0.6 0.9,5.2 1.3-4.9 0.3,0.4 1,4.2 1.3-4.6 0.9,3.5 0.5-0.2 1-3.2 1.3,3.4 1.3-3.5 0.7,2.9 0.5,0.6 1.2-4.3 1.3,4.4 1.1-4.7 0.1,0.8 0.2-0.4 1.1,4.6 1-4.9 0.5,0.4 0.9,4.8 1-5.7 0.2,0.6 0.3-0.4 1,5.4 1.2-5.3 1.2,3.9 0.5-0.5 0.7-3.5 1.3,3.5 1.3-3.2 0.6,0.6 0.4,1.9 0.3-0.4 0.4,0.1 1.1-3 0.8,3.8 0.1-0.2 0.2,0.6 1.3-4.4 1.1,4.5 1.1-5.6 1.5,6 0.9-5.7 0.4,0 0.9,4.9 0.6-0.8 0.7-4.4 1.3,5.6 1.1-5 0.6,0.4 0.9,3.9 1.1-4.1 0.6,0.9 0.7,3.2 1.3-4.2 1.5,3.9 0.9-3.8 0.4-0.1 0.9,4 0.2-0.5 0.2,0.4 0.5-3.3 0.6-0.7 1.1,4.6 1.3-5.5 1.3,5.8 1.1-5.7 1.3,5.6 1.1-5.3 0.4,0.3 0.9,4.8 1.3-5.1 1.1,4.3 0.2-0.4 0.2,0.3 0.2-1 0.1,0.4 0.8-3.2 1.3,4 1.1-4.2 1.3,4.1 1.1-4 1.5,4.4 0.7-3.9 0.2-0.6 0.2,0.3 0.2-0.3 0.9,5 0.7-1.8 0.4-3.3 0.4-0.1 1.1,5.3 0.9-4.5 0.6-0.7 0.9,4.9 0.3,0 1.2-5.2 1.2,5.1 0.8-4 0.5-0.2 0.8,3.4 0.5,0.4 1.1-4.1 1.2,4 1.4-3.7 0.8,3.3 0.5,0.1 0.8-3.1 0.3-0.3 1.2,4.4 1.2-4.8 1.3,5.4 1.1-5.8 1.5,5.7 1-5.4 0.5,0.8 0.7,4.1 0.4-0.2 0.9-5 1.2,5 0.7-1.1 0.7-3.4 1.3,4.2 1.1-3.4 1.3,3.1 0.4-0.2 0.4-1.9 0.7-1.4 0.7,3.6 0.6,0.1 0.9-3.7 0.2,0.4 0.2-0.3 0.9,4.3 1.3-4.7 1.3,5 1.3-5.2 0.7,4.4 0.6,0.8 1.1-5.4 0.9,4.9 0.4,0.4 1.3-4.8 0.9,4.8 0.6-0.5 0.9-3.7 1.1,3.9 1.5-3.6 1.1,3.6 0.4-0.3 1.1-3.3 0.2,1.6 0.1-0.5 0.8,2.8 1.1-3.8" fill="none" stroke="#ff1a1a" stroke-width="0.7" stroke-linejoin="round"/>
<clipPath id="cp28"><rect x="885.9" y="614.82" width="246.6" height="53.17"/></clipPath>
<path clip-path="url(#cp28)" d="M885.9,627l0.2-0.5 0.9,1.8 0.2-0.7 0.2,0.8 0.2-1.3 0.1,0.7 0.4-1.4 0.4,0.4 0.4-0.3 0.1,0.9 0.2-0.5 0.6,0.2 0.4-0.4 0.1-1.2 0.8,0 0.7,1.7 0.2-0.9 0.2,0.5 0.4-0.4 0.3-1.2 0.4,0 0.2,0.6 0.2-0.6 0.5,1.1 0.4-0.2 0.2,0.5 1.1-2.5 1.1,2.2 0.2-0.8 0.2,0.5 0.3-0.5 0.4-1.3 1.1,1.6 0.4-0.6 0.2,0.8 0.9-2.1 1.5,2.4 1.3-2.4 0.7,2.5 0.9-0.9 0.2,0.3 0.4-1.1 1.5,2.3 0.9-1.4 0.2,0.3 0.3-0.3 0.2,0.9 0.6-0.1 0.5,1 0.8-1.3 0.9,1.6 0.2-0.7 0.4,1.1 0.9-1.5 1.5,1.4 0.5-0.1 0.9-1.4 0.8,2.1 0.2-0.5 0.3,0.3 1.1-2.3 0.2,1.2 0.2-0.5 0.4,0.7 0.4-0.2 0.1,0.3 1-2.5 0.7,0.3 0.4,1.1 1.6-3.5 1,1.3 0.9-2.3 0.5,0.4 0.2-1.1 1,1.6 1.4-2.8 1,2.1 0.7-0.5 0.2,0.5 0.2-0.8 0.3,0.5 0.2-0.9 1.1,3.3 0.6-1 0.5,0.7 0.2-0.4 0.9,2.4 0.8,0.2 0.7-1.2 1.1,2.2 0.6-0.4 0.7-2 1.3,2.4 1.3-2.7 0.6,0.5 0.3,1.7 0.4,0.1 0.8-2.2 0.7-0.6 0.5,2.3 0.4,0.1 0.8-1 0.3-1.5 0.6,0.5 0.4,1.5 0.7,0.5 0.7-2.6 0.6,0.6 0.7,2.2 1.1-2.6 0.2,0.3 0.2-0.5 0.7,2.3 0.2-0.6 0.4,0.5 0.6-1.3 0.1,0.7 0.2-1.4 0.4,0.3 0.2-0.2 0.9,3.1 1.3-3.4 1.1,3.3 0.2-1 0.2,0.6 0.2-0.4 0.7-2.8 1.3,4.5 0.9-4.4 0.4,0.2 0.2-0.6 0.3,2.6 0.8,1.9 1.1-5.3 0.9,4 0.6,0.8 0.9-4.2 1.1,4.4 0.4-0.5 0.2,0.2 0.3-2.4 0.6-1 1.1,3.1 0.4,0.3 0.7-2.5 0.2,0.4 0.2-0.4 1.3,3.3 0.5-1.3 0.2,0.2 0.4-1.7 1.3,4.3 1.3-3.2 1.3,4.5 1.3-3.6 0.9,5 0.4-0.1 0.5-3.6 0.2,0.2 0.4-1.1 1.3,5.4 1.3-5.2 1.1,4.7 1.3-4.4 1.3,3.7 1.2-4 0.8,2.8 0.4,0.5 0.1-0.2 1-3.9 1.3,3.4 0.5-0.8 0.6-2.3 0.5-0.3 0.9,3.2 0.6-2.9 0.6-1.4 0.5,0.1 0.9,3.8 1.3-5.4 1,4.6 0.3-0.2 1.1-5.5 1.3,5.6 1.1-5.8 0.4,0.3 0.9,4 1.3-4.8 1.3,3.9 1.1-3.8 1.5,2.8 0.6-2.7 0.2,0.6 0.3-1.5 1.3,3.6 0.8-3 0.3-0.9 0.2,0.4 0.2-0.3 0.9,3.7 1.1-4.2 0.4-0.2 0.6,3.6 0.5,1.4 1.1-4.7 1.3,5.6 0.4-0.3 0.9-3.9 1.3,5.9 1.1-4.4 1.1,5.3 0.2-0.4 0.4,0.1 0.7-3.3 1.5,4.7 1.1-3.3 0.6,0.8 0.5,2.7 0.6-0.6 0.9-3.4 0.7,3.1 0.2-0.3 0.4,0.9 1.3-5.1 0.7,2.9 0.4,0.2 1.1-5.8 0.4,0 0.7,3.6 0.4,0.3 1.1-6.4 0.4,0.4 0.7,4.1 0.4,0 0.9-5.9 0.5,1.1 0.6,3.5 0.6,0.6 0.7-4.8 0.6,0.3 0.9,4.3 1.3-4.5 1.3,4.1 1.3-3.2 1.3,3.3 0.7-3 0.4-0.1 1.1,4 1.3-3.8 1.1,4.5 0.3-0.2 1.2-4.9 0.9,5.2 0.4,0.5 1.2-5 1.2,5.8 0.9-5 0.3-0.5 0.8,4.3 0.5,1.1 1.2-4.7 1.1,4.3 0.5,0 0.9-3.1 0.8,3.4 0.4-0.3 0.1,0.8 0.2-0.3 0.8-2.6 0.3-0.1 1.1,3.5 1.5-3.5 0.6,3.1 0.3,0.8 0.4,0 0.6-3 0.5-0.8 1.1,5 1.1-4.9 0.6,1 0.7,4.4 1.3-4.9 1.3,5.3 1.3-5.1 0.8,3.7 0.7,1.2 0.6-3.9 0.5-0.8 0.9,4.2 0.6-0.5 0.5-3 0.4-0.3 0.9,3.3 0.2-0.4 0.4,0.2 0.9-3.1 1.3,3.3 1.3-4.2 0.7,3 0.6,0.6 0.9-4.2 0.6-0.2 0.9,4.2 1.3-5.7 1.1,5.2 0.4-0.5 0.7-5.2 0.4-0.1 0.7,4.1 0.4,0.5 1.3-4.8 0.9,4.1 0.6,0 0.9-4.7 1.3,5.1 0.7-2.3 0.6-0.5 1.3,4.7 0.9-2.4 0.6,0.9 0.9,4 0.9-2.9 0.4,0 0.7,3 0.6,0.8 0.9-3.9 0.4-0.1 0.7,3.6 0.6,0.6 1.1-4.8 1.1,5 0.2-0.3 0.1,0.3 0.6-3.7 0.6-1 1.1,4.8 1.1-5.2 1.5,4.4 1.1-4 1.1,3.1 1.6-3.7 1.2,3.4 0.9-3.4 0.3,0.3 0.2-1 0.6,3 0.4-0.4 0.3,0.2 0.8-4 0.5,1.5 0.2-0.3 0.6,2.8 0.7-2.5" fill="none" stroke="#ff1a1a" stroke-width="0.7" stroke-linejoin="round"/>
<line x1="639.3" y1="295.8" x2="1132.5" y2="295.8" stroke="#222" stroke-width="1.2"/>
<line x1="639.3" y1="348.97" x2="1132.5" y2="348.97" stroke="#222" stroke-width="1.2"/>
<line x1="639.3" y1="402.14" x2="1132.5" y2="402.14" stroke="#222" stroke-width="1.2"/>
<line x1="639.3" y1="455.31" x2="1132.5" y2="455.31" stroke="#222" stroke-width="1.2"/>
<line x1="639.3" y1="508.48" x2="1132.5" y2="508.48" stroke="#222" stroke-width="1.2"/>
<line x1="639.3" y1="561.65" x2="1132.5" y2="561.65" stroke="#222" stroke-width="1.2"/>
<line x1="639.3" y1="614.82" x2="1132.5" y2="614.82" stroke="#222" stroke-width="1.2"/>
<line x1="639.3" y1="667.99" x2="1132.5" y2="667.99" stroke="#222" stroke-width="1.2"/>
<line x1="639.3" y1="295.8" x2="639.3" y2="667.99" stroke="#222" stroke-width="1.2"/>
<line x1="1132.5" y1="295.8" x2="1132.5" y2="667.99" stroke="#222" stroke-width="1.2"/>
<line x1="885.7" y1="295.8" x2="885.7" y2="667.99" stroke="#222" stroke-width="1.3"/>
<line x1="881.2" y1="300.37" x2="888.4" y2="300.37" stroke="#222" stroke-width="1.2"/>
<line x1="883.2" y1="312.52" x2="887.2" y2="312.52" stroke="#222" stroke-width="1.2"/>
<line x1="881.2" y1="324.67" x2="888.4" y2="324.67" stroke="#222" stroke-width="1.2"/>
<line x1="883.2" y1="336.82" x2="887.2" y2="336.82" stroke="#222" stroke-width="1.2"/>
<line x1="881.2" y1="353.54" x2="888.4" y2="353.54" stroke="#222" stroke-width="1.2"/>
<line x1="883.2" y1="365.69" x2="887.2" y2="365.69" stroke="#222" stroke-width="1.2"/>
<line x1="881.2" y1="377.84" x2="888.4" y2="377.84" stroke="#222" stroke-width="1.2"/>
<line x1="883.2" y1="389.99" x2="887.2" y2="389.99" stroke="#222" stroke-width="1.2"/>
<line x1="881.2" y1="406.71" x2="888.4" y2="406.71" stroke="#222" stroke-width="1.2"/>
<line x1="883.2" y1="418.86" x2="887.2" y2="418.86" stroke="#222" stroke-width="1.2"/>
<line x1="881.2" y1="431.01" x2="888.4" y2="431.01" stroke="#222" stroke-width="1.2"/>
<line x1="883.2" y1="443.16" x2="887.2" y2="443.16" stroke="#222" stroke-width="1.2"/>
<line x1="881.2" y1="459.88" x2="888.4" y2="459.88" stroke="#222" stroke-width="1.2"/>
<line x1="883.2" y1="472.03" x2="887.2" y2="472.03" stroke="#222" stroke-width="1.2"/>
<line x1="881.2" y1="484.18" x2="888.4" y2="484.18" stroke="#222" stroke-width="1.2"/>
<line x1="883.2" y1="496.33" x2="887.2" y2="496.33" stroke="#222" stroke-width="1.2"/>
<line x1="881.2" y1="513.05" x2="888.4" y2="513.05" stroke="#222" stroke-width="1.2"/>
<line x1="883.2" y1="525.2" x2="887.2" y2="525.2" stroke="#222" stroke-width="1.2"/>
<line x1="881.2" y1="537.35" x2="888.4" y2="537.35" stroke="#222" stroke-width="1.2"/>
<line x1="883.2" y1="549.5" x2="887.2" y2="549.5" stroke="#222" stroke-width="1.2"/>
<line x1="881.2" y1="566.22" x2="888.4" y2="566.22" stroke="#222" stroke-width="1.2"/>
<line x1="883.2" y1="578.37" x2="887.2" y2="578.37" stroke="#222" stroke-width="1.2"/>
<line x1="881.2" y1="590.52" x2="888.4" y2="590.52" stroke="#222" stroke-width="1.2"/>
<line x1="883.2" y1="602.67" x2="887.2" y2="602.67" stroke="#222" stroke-width="1.2"/>
<line x1="881.2" y1="619.39" x2="888.4" y2="619.39" stroke="#222" stroke-width="1.2"/>
<line x1="883.2" y1="631.54" x2="887.2" y2="631.54" stroke="#222" stroke-width="1.2"/>
<line x1="881.2" y1="643.69" x2="888.4" y2="643.69" stroke="#222" stroke-width="1.2"/>
<line x1="883.2" y1="655.84" x2="887.2" y2="655.84" stroke="#222" stroke-width="1.2"/>
<g transform="translate(642.2,328.9) scale(0.9,1)"><text x="0" y="0" font-size="16.3">RA</text></g>
<circle cx="673.7" cy="622.3" r="3.9" fill="none" stroke="#cc1111" stroke-width="2.7"/>
<circle cx="720.4" cy="622.3" r="3.9" fill="none" stroke="#000" stroke-width="2.7"/>
<text x="669" y="648.3" font-size="18.5" fill="#cc1111" text-anchor="start" >EQ-BIC</text>
<text x="739.8" y="648.3" font-size="18.5" fill="#000" text-anchor="start" >MD-BIC</text>
<text x="609" y="311" font-size="22.7" fill="#000" text-anchor="start" >(d)</text>
<text x="774.5" y="288.8" font-size="18.5" fill="#000" text-anchor="middle" >Simulation</text>
<text x="1017.9" y="288.8" font-size="18.5" fill="#000" text-anchor="middle" >Experiment</text>
<text x="633" y="625.9" font-size="19.7" fill="#000" text-anchor="end" >1.0</text>
<text x="633" y="650" font-size="19.7" fill="#000" text-anchor="end" >0.5</text>
<text transform="translate(593.8,625.2) rotate(-90)" font-size="20" font-style="italic" text-anchor="middle">T</text>
<text x="639.8" y="688.5" font-size="19.8" fill="#000" text-anchor="middle" >1500</text>
<text x="701.3" y="688.5" font-size="19.8" fill="#000" text-anchor="middle" >1520</text>
<text x="762.7" y="688.5" font-size="19.8" fill="#000" text-anchor="middle" >1540</text>
<text x="824.3" y="688.5" font-size="19.8" fill="#000" text-anchor="middle" >1560</text>
<text x="917.5" y="688.5" font-size="19.8" fill="#000" text-anchor="middle" >1500</text>
<text x="978.8" y="688.5" font-size="19.8" fill="#000" text-anchor="middle" >1520</text>
<text x="1040.4" y="688.5" font-size="19.8" fill="#000" text-anchor="middle" >1540</text>
<text x="1102" y="688.5" font-size="19.8" fill="#000" text-anchor="middle" >1560</text>
<text x="762.8" y="710.2" font-size="20.6" fill="#000" text-anchor="middle" >Wavelength (nm)</text>
<text x="1010.1" y="710.2" font-size="20.6" fill="#000" text-anchor="middle" >Wavelength (nm)</text>
</svg></body></html>
